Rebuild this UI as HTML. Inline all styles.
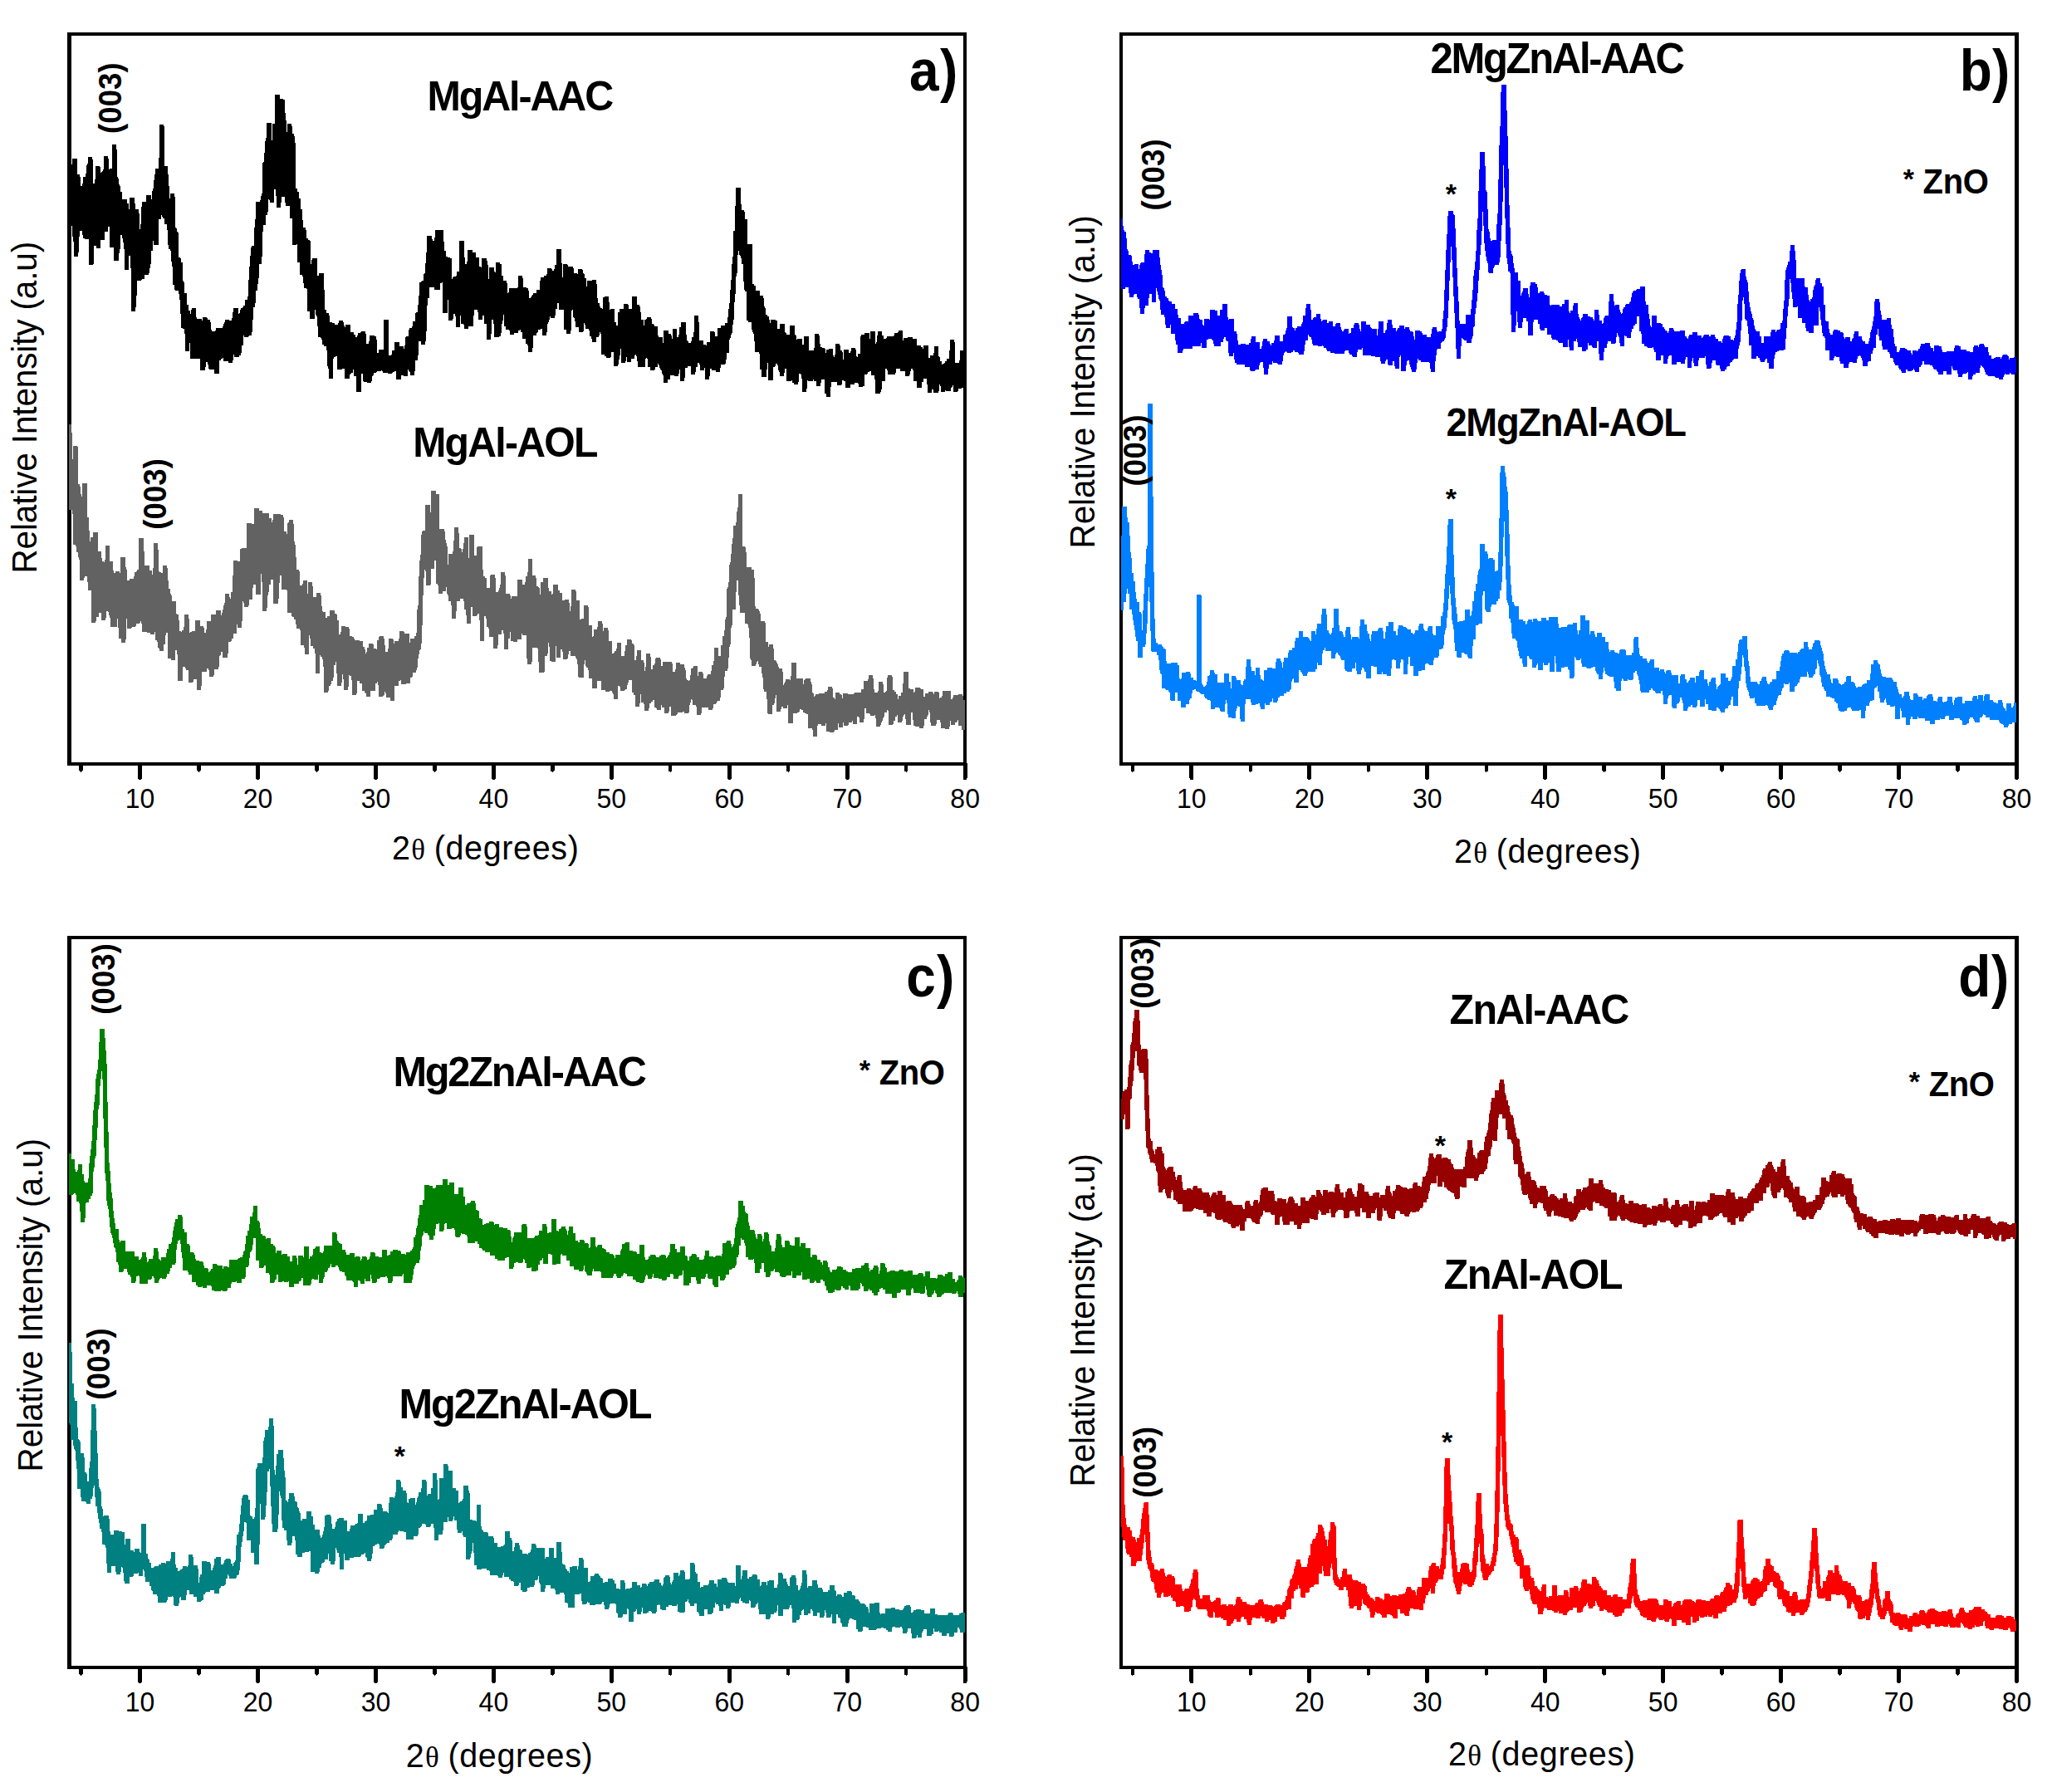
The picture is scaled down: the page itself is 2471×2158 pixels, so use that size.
<!DOCTYPE html>
<html lang="en"><head><meta charset="utf-8"><title>XRD patterns</title>
<style>
html,body{margin:0;padding:0;background:#fff;}
body{width:2471px;height:2158px;overflow:hidden;}
svg{display:block;}
polygon,rect,line{shape-rendering:crispEdges;}
text{fill:#000;}
</style></head><body>
<svg xmlns="http://www.w3.org/2000/svg" width="2471" height="2158" viewBox="0 0 2471 2158">
<rect x="83.40" y="41.00" width="1078.74" height="879.00" fill="none" stroke="#000" stroke-width="4.2"/>
<line x1="97.59" y1="920.00" x2="97.59" y2="927.50" stroke="#000" stroke-width="4.4" stroke-linecap="round"/>
<line x1="168.56" y1="920.00" x2="168.56" y2="936.50" stroke="#000" stroke-width="5" stroke-linecap="round"/>
<text transform="translate(168.56,972.80) scale(1,1.0415)" text-anchor="middle" font-family='"Liberation Sans", Arial, sans-serif' font-size="32.00">10</text>
<line x1="239.53" y1="920.00" x2="239.53" y2="927.50" stroke="#000" stroke-width="4.4" stroke-linecap="round"/>
<line x1="310.50" y1="920.00" x2="310.50" y2="936.50" stroke="#000" stroke-width="5" stroke-linecap="round"/>
<text transform="translate(310.50,972.80) scale(1,1.0415)" text-anchor="middle" font-family='"Liberation Sans", Arial, sans-serif' font-size="32.00">20</text>
<line x1="381.47" y1="920.00" x2="381.47" y2="927.50" stroke="#000" stroke-width="4.4" stroke-linecap="round"/>
<line x1="452.44" y1="920.00" x2="452.44" y2="936.50" stroke="#000" stroke-width="5" stroke-linecap="round"/>
<text transform="translate(452.44,972.80) scale(1,1.0415)" text-anchor="middle" font-family='"Liberation Sans", Arial, sans-serif' font-size="32.00">30</text>
<line x1="523.41" y1="920.00" x2="523.41" y2="927.50" stroke="#000" stroke-width="4.4" stroke-linecap="round"/>
<line x1="594.38" y1="920.00" x2="594.38" y2="936.50" stroke="#000" stroke-width="5" stroke-linecap="round"/>
<text transform="translate(594.38,972.80) scale(1,1.0415)" text-anchor="middle" font-family='"Liberation Sans", Arial, sans-serif' font-size="32.00">40</text>
<line x1="665.35" y1="920.00" x2="665.35" y2="927.50" stroke="#000" stroke-width="4.4" stroke-linecap="round"/>
<line x1="736.32" y1="920.00" x2="736.32" y2="936.50" stroke="#000" stroke-width="5" stroke-linecap="round"/>
<text transform="translate(736.32,972.80) scale(1,1.0415)" text-anchor="middle" font-family='"Liberation Sans", Arial, sans-serif' font-size="32.00">50</text>
<line x1="807.29" y1="920.00" x2="807.29" y2="927.50" stroke="#000" stroke-width="4.4" stroke-linecap="round"/>
<line x1="878.26" y1="920.00" x2="878.26" y2="936.50" stroke="#000" stroke-width="5" stroke-linecap="round"/>
<text transform="translate(878.26,972.80) scale(1,1.0415)" text-anchor="middle" font-family='"Liberation Sans", Arial, sans-serif' font-size="32.00">60</text>
<line x1="949.23" y1="920.00" x2="949.23" y2="927.50" stroke="#000" stroke-width="4.4" stroke-linecap="round"/>
<line x1="1020.20" y1="920.00" x2="1020.20" y2="936.50" stroke="#000" stroke-width="5" stroke-linecap="round"/>
<text transform="translate(1020.20,972.80) scale(1,1.0415)" text-anchor="middle" font-family='"Liberation Sans", Arial, sans-serif' font-size="32.00">70</text>
<line x1="1091.17" y1="920.00" x2="1091.17" y2="927.50" stroke="#000" stroke-width="4.4" stroke-linecap="round"/>
<line x1="1162.14" y1="920.00" x2="1162.14" y2="936.50" stroke="#000" stroke-width="5" stroke-linecap="round"/>
<text transform="translate(1162.14,972.80) scale(1,1.0415)" text-anchor="middle" font-family='"Liberation Sans", Arial, sans-serif' font-size="32.00">80</text>
<rect x="1349.70" y="41.00" width="1078.74" height="879.00" fill="none" stroke="#000" stroke-width="4.2"/>
<line x1="1363.89" y1="920.00" x2="1363.89" y2="927.50" stroke="#000" stroke-width="4.4" stroke-linecap="round"/>
<line x1="1434.86" y1="920.00" x2="1434.86" y2="936.50" stroke="#000" stroke-width="5" stroke-linecap="round"/>
<text transform="translate(1434.86,972.80) scale(1,1.0415)" text-anchor="middle" font-family='"Liberation Sans", Arial, sans-serif' font-size="32.00">10</text>
<line x1="1505.83" y1="920.00" x2="1505.83" y2="927.50" stroke="#000" stroke-width="4.4" stroke-linecap="round"/>
<line x1="1576.80" y1="920.00" x2="1576.80" y2="936.50" stroke="#000" stroke-width="5" stroke-linecap="round"/>
<text transform="translate(1576.80,972.80) scale(1,1.0415)" text-anchor="middle" font-family='"Liberation Sans", Arial, sans-serif' font-size="32.00">20</text>
<line x1="1647.77" y1="920.00" x2="1647.77" y2="927.50" stroke="#000" stroke-width="4.4" stroke-linecap="round"/>
<line x1="1718.74" y1="920.00" x2="1718.74" y2="936.50" stroke="#000" stroke-width="5" stroke-linecap="round"/>
<text transform="translate(1718.74,972.80) scale(1,1.0415)" text-anchor="middle" font-family='"Liberation Sans", Arial, sans-serif' font-size="32.00">30</text>
<line x1="1789.71" y1="920.00" x2="1789.71" y2="927.50" stroke="#000" stroke-width="4.4" stroke-linecap="round"/>
<line x1="1860.68" y1="920.00" x2="1860.68" y2="936.50" stroke="#000" stroke-width="5" stroke-linecap="round"/>
<text transform="translate(1860.68,972.80) scale(1,1.0415)" text-anchor="middle" font-family='"Liberation Sans", Arial, sans-serif' font-size="32.00">40</text>
<line x1="1931.65" y1="920.00" x2="1931.65" y2="927.50" stroke="#000" stroke-width="4.4" stroke-linecap="round"/>
<line x1="2002.62" y1="920.00" x2="2002.62" y2="936.50" stroke="#000" stroke-width="5" stroke-linecap="round"/>
<text transform="translate(2002.62,972.80) scale(1,1.0415)" text-anchor="middle" font-family='"Liberation Sans", Arial, sans-serif' font-size="32.00">50</text>
<line x1="2073.59" y1="920.00" x2="2073.59" y2="927.50" stroke="#000" stroke-width="4.4" stroke-linecap="round"/>
<line x1="2144.56" y1="920.00" x2="2144.56" y2="936.50" stroke="#000" stroke-width="5" stroke-linecap="round"/>
<text transform="translate(2144.56,972.80) scale(1,1.0415)" text-anchor="middle" font-family='"Liberation Sans", Arial, sans-serif' font-size="32.00">60</text>
<line x1="2215.53" y1="920.00" x2="2215.53" y2="927.50" stroke="#000" stroke-width="4.4" stroke-linecap="round"/>
<line x1="2286.50" y1="920.00" x2="2286.50" y2="936.50" stroke="#000" stroke-width="5" stroke-linecap="round"/>
<text transform="translate(2286.50,972.80) scale(1,1.0415)" text-anchor="middle" font-family='"Liberation Sans", Arial, sans-serif' font-size="32.00">70</text>
<line x1="2357.47" y1="920.00" x2="2357.47" y2="927.50" stroke="#000" stroke-width="4.4" stroke-linecap="round"/>
<line x1="2428.44" y1="920.00" x2="2428.44" y2="936.50" stroke="#000" stroke-width="5" stroke-linecap="round"/>
<text transform="translate(2428.44,972.80) scale(1,1.0415)" text-anchor="middle" font-family='"Liberation Sans", Arial, sans-serif' font-size="32.00">80</text>
<rect x="83.40" y="1129.00" width="1078.74" height="879.00" fill="none" stroke="#000" stroke-width="4.2"/>
<line x1="97.59" y1="2008.00" x2="97.59" y2="2015.50" stroke="#000" stroke-width="4.4" stroke-linecap="round"/>
<line x1="168.56" y1="2008.00" x2="168.56" y2="2024.50" stroke="#000" stroke-width="5" stroke-linecap="round"/>
<text transform="translate(168.56,2060.80) scale(1,1.0415)" text-anchor="middle" font-family='"Liberation Sans", Arial, sans-serif' font-size="32.00">10</text>
<line x1="239.53" y1="2008.00" x2="239.53" y2="2015.50" stroke="#000" stroke-width="4.4" stroke-linecap="round"/>
<line x1="310.50" y1="2008.00" x2="310.50" y2="2024.50" stroke="#000" stroke-width="5" stroke-linecap="round"/>
<text transform="translate(310.50,2060.80) scale(1,1.0415)" text-anchor="middle" font-family='"Liberation Sans", Arial, sans-serif' font-size="32.00">20</text>
<line x1="381.47" y1="2008.00" x2="381.47" y2="2015.50" stroke="#000" stroke-width="4.4" stroke-linecap="round"/>
<line x1="452.44" y1="2008.00" x2="452.44" y2="2024.50" stroke="#000" stroke-width="5" stroke-linecap="round"/>
<text transform="translate(452.44,2060.80) scale(1,1.0415)" text-anchor="middle" font-family='"Liberation Sans", Arial, sans-serif' font-size="32.00">30</text>
<line x1="523.41" y1="2008.00" x2="523.41" y2="2015.50" stroke="#000" stroke-width="4.4" stroke-linecap="round"/>
<line x1="594.38" y1="2008.00" x2="594.38" y2="2024.50" stroke="#000" stroke-width="5" stroke-linecap="round"/>
<text transform="translate(594.38,2060.80) scale(1,1.0415)" text-anchor="middle" font-family='"Liberation Sans", Arial, sans-serif' font-size="32.00">40</text>
<line x1="665.35" y1="2008.00" x2="665.35" y2="2015.50" stroke="#000" stroke-width="4.4" stroke-linecap="round"/>
<line x1="736.32" y1="2008.00" x2="736.32" y2="2024.50" stroke="#000" stroke-width="5" stroke-linecap="round"/>
<text transform="translate(736.32,2060.80) scale(1,1.0415)" text-anchor="middle" font-family='"Liberation Sans", Arial, sans-serif' font-size="32.00">50</text>
<line x1="807.29" y1="2008.00" x2="807.29" y2="2015.50" stroke="#000" stroke-width="4.4" stroke-linecap="round"/>
<line x1="878.26" y1="2008.00" x2="878.26" y2="2024.50" stroke="#000" stroke-width="5" stroke-linecap="round"/>
<text transform="translate(878.26,2060.80) scale(1,1.0415)" text-anchor="middle" font-family='"Liberation Sans", Arial, sans-serif' font-size="32.00">60</text>
<line x1="949.23" y1="2008.00" x2="949.23" y2="2015.50" stroke="#000" stroke-width="4.4" stroke-linecap="round"/>
<line x1="1020.20" y1="2008.00" x2="1020.20" y2="2024.50" stroke="#000" stroke-width="5" stroke-linecap="round"/>
<text transform="translate(1020.20,2060.80) scale(1,1.0415)" text-anchor="middle" font-family='"Liberation Sans", Arial, sans-serif' font-size="32.00">70</text>
<line x1="1091.17" y1="2008.00" x2="1091.17" y2="2015.50" stroke="#000" stroke-width="4.4" stroke-linecap="round"/>
<line x1="1162.14" y1="2008.00" x2="1162.14" y2="2024.50" stroke="#000" stroke-width="5" stroke-linecap="round"/>
<text transform="translate(1162.14,2060.80) scale(1,1.0415)" text-anchor="middle" font-family='"Liberation Sans", Arial, sans-serif' font-size="32.00">80</text>
<rect x="1349.70" y="1129.00" width="1078.74" height="879.00" fill="none" stroke="#000" stroke-width="4.2"/>
<line x1="1363.89" y1="2008.00" x2="1363.89" y2="2015.50" stroke="#000" stroke-width="4.4" stroke-linecap="round"/>
<line x1="1434.86" y1="2008.00" x2="1434.86" y2="2024.50" stroke="#000" stroke-width="5" stroke-linecap="round"/>
<text transform="translate(1434.86,2060.80) scale(1,1.0415)" text-anchor="middle" font-family='"Liberation Sans", Arial, sans-serif' font-size="32.00">10</text>
<line x1="1505.83" y1="2008.00" x2="1505.83" y2="2015.50" stroke="#000" stroke-width="4.4" stroke-linecap="round"/>
<line x1="1576.80" y1="2008.00" x2="1576.80" y2="2024.50" stroke="#000" stroke-width="5" stroke-linecap="round"/>
<text transform="translate(1576.80,2060.80) scale(1,1.0415)" text-anchor="middle" font-family='"Liberation Sans", Arial, sans-serif' font-size="32.00">20</text>
<line x1="1647.77" y1="2008.00" x2="1647.77" y2="2015.50" stroke="#000" stroke-width="4.4" stroke-linecap="round"/>
<line x1="1718.74" y1="2008.00" x2="1718.74" y2="2024.50" stroke="#000" stroke-width="5" stroke-linecap="round"/>
<text transform="translate(1718.74,2060.80) scale(1,1.0415)" text-anchor="middle" font-family='"Liberation Sans", Arial, sans-serif' font-size="32.00">30</text>
<line x1="1789.71" y1="2008.00" x2="1789.71" y2="2015.50" stroke="#000" stroke-width="4.4" stroke-linecap="round"/>
<line x1="1860.68" y1="2008.00" x2="1860.68" y2="2024.50" stroke="#000" stroke-width="5" stroke-linecap="round"/>
<text transform="translate(1860.68,2060.80) scale(1,1.0415)" text-anchor="middle" font-family='"Liberation Sans", Arial, sans-serif' font-size="32.00">40</text>
<line x1="1931.65" y1="2008.00" x2="1931.65" y2="2015.50" stroke="#000" stroke-width="4.4" stroke-linecap="round"/>
<line x1="2002.62" y1="2008.00" x2="2002.62" y2="2024.50" stroke="#000" stroke-width="5" stroke-linecap="round"/>
<text transform="translate(2002.62,2060.80) scale(1,1.0415)" text-anchor="middle" font-family='"Liberation Sans", Arial, sans-serif' font-size="32.00">50</text>
<line x1="2073.59" y1="2008.00" x2="2073.59" y2="2015.50" stroke="#000" stroke-width="4.4" stroke-linecap="round"/>
<line x1="2144.56" y1="2008.00" x2="2144.56" y2="2024.50" stroke="#000" stroke-width="5" stroke-linecap="round"/>
<text transform="translate(2144.56,2060.80) scale(1,1.0415)" text-anchor="middle" font-family='"Liberation Sans", Arial, sans-serif' font-size="32.00">60</text>
<line x1="2215.53" y1="2008.00" x2="2215.53" y2="2015.50" stroke="#000" stroke-width="4.4" stroke-linecap="round"/>
<line x1="2286.50" y1="2008.00" x2="2286.50" y2="2024.50" stroke="#000" stroke-width="5" stroke-linecap="round"/>
<text transform="translate(2286.50,2060.80) scale(1,1.0415)" text-anchor="middle" font-family='"Liberation Sans", Arial, sans-serif' font-size="32.00">70</text>
<line x1="2357.47" y1="2008.00" x2="2357.47" y2="2015.50" stroke="#000" stroke-width="4.4" stroke-linecap="round"/>
<line x1="2428.44" y1="2008.00" x2="2428.44" y2="2024.50" stroke="#000" stroke-width="5" stroke-linecap="round"/>
<text transform="translate(2428.44,2060.80) scale(1,1.0415)" text-anchor="middle" font-family='"Liberation Sans", Arial, sans-serif' font-size="32.00">80</text>
<defs><clipPath id="cpa"><rect x="81.3" y="39.0" width="1082.9" height="883.0"/></clipPath><clipPath id="cpb"><rect x="1347.6" y="39.0" width="1082.9" height="883.0"/></clipPath><clipPath id="cpc"><rect x="81.3" y="1127.0" width="1082.9" height="883.0"/></clipPath><clipPath id="cpd"><rect x="1347.6" y="1127.0" width="1082.9" height="883.0"/></clipPath></defs>
<g clip-path="url(#cpa)"><polygon fill="#000000" points="83.4,190 86.4,190 86.9,226.5 87.4,190.5 92.9,190.5 93.4,209.5 96.4,209.5 96.9,223.5 99.4,223.5 99.9,212.5 103.4,212.5 103.9,199 105.4,199 105.9,189 111.4,189 111.9,201 112.4,220.5 114.4,220.5 114.9,199.5 120.4,199.5 120.9,207.5 122.4,207.5 122.9,206 123.4,206 123.9,204 124.4,204 124.9,203 125.4,188 130.4,188 130.9,202.5 131.4,203.5 132.4,203.5 132.9,202.5 134.9,202.5 135.4,173.5 140.4,173.5 140.9,204 141.4,212.5 142.4,212.5 142.9,221.5 144.4,221.5 144.9,230.5 146.9,230.5 147.4,239.5 152.9,239.5 153.4,245 154.9,245 155.4,250.5 155.9,255.5 156.4,238 161.9,238 162.4,245 162.9,245 163.4,252 167.4,252 167.9,275.5 168.9,275.5 169.4,269.5 169.9,269.5 170.4,251 170.9,243 175.9,243 176.4,234.5 181.9,234.5 182.4,240 182.9,240 183.4,229.5 184.4,229.5 184.9,218.5 185.4,218.5 185.9,213 186.4,213 186.9,202.5 191.4,202.5 191.9,149.5 197.4,149.5 197.9,161.5 198.4,199.5 201.9,199.5 202.4,208.5 202.9,215 203.4,218 203.9,241 204.4,241 204.9,232.5 210.4,232.5 210.9,253.5 211.4,273.5 212.4,273.5 212.9,279 214.4,279 214.9,282.5 215.4,310 217.4,310 217.9,316 219.9,316 220.4,337 220.9,339.5 221.9,339.5 222.4,352.5 224.9,352.5 225.4,366.5 226.9,366.5 227.4,373.5 228.4,373.5 228.9,375 229.4,378 229.9,378 230.4,374 230.9,370.5 235.9,370.5 236.4,379.5 236.9,389 237.4,383.5 242.9,383.5 243.4,387.5 243.9,381.5 248.9,381.5 249.4,382.5 249.9,385 253.4,385 253.9,396 254.4,396 254.9,399 259.4,399 259.9,394.5 268.4,394.5 268.9,389.5 270.4,389.5 270.9,385 275.9,385 276.4,385.5 279.4,385.5 279.9,375.5 280.9,375.5 281.4,370.5 286.9,370.5 287.4,378 288.4,378 288.9,374 289.4,374 289.9,371 290.9,371 291.4,370.5 292.4,370.5 292.9,368.5 293.4,368 294.9,368 295.4,361 298.4,361 298.9,341 299.4,341 299.9,326.5 300.4,322.5 301.4,311.5 301.9,298 302.9,298 303.4,296 305.9,296 306.4,277.5 306.9,263.5 307.9,263.5 308.4,242.5 313.4,242.5 313.9,236.5 314.4,236.5 314.9,232.5 315.9,232.5 316.4,195.5 316.9,195.5 317.4,194.5 317.9,194.5 318.4,188 318.9,169.5 320.4,169.5 320.9,153.5 321.4,147.5 326.9,147.5 327.4,175.5 327.9,148.5 330.9,148.5 331.4,114 336.4,114 336.9,115 337.4,119 340.4,119 340.9,119.5 342.9,119.5 343.4,134 343.9,144.5 344.9,144.5 345.4,162.5 345.9,149 351.4,149 351.9,160.5 353.4,160.5 353.9,164 355.4,164 355.9,198.5 356.4,227 357.9,227 358.4,231 359.9,231 360.4,238.5 361.9,238.5 362.4,251.5 363.9,251.5 364.4,262 364.9,273.5 368.4,273.5 368.9,287 370.9,287 371.4,288.5 373.4,288.5 373.9,295 374.4,319.5 374.9,313 375.4,313 375.9,311 381.4,311 381.9,313 382.4,331.5 383.9,331.5 384.4,328.5 389.9,328.5 390.4,340.5 390.9,373 392.9,373 393.4,377 396.4,377 396.9,388 399.4,388 399.9,389 402.4,389 402.9,391 403.4,391 403.9,390.5 407.4,390.5 407.9,385.5 412.9,385.5 413.4,387.5 413.9,387.5 414.4,391.5 414.9,391.5 415.4,393.5 415.9,393.5 416.4,390.5 421.9,390.5 422.4,399.5 425.9,399.5 426.4,402.5 427.4,402.5 427.9,405.5 430.4,405.5 430.9,400.5 434.4,400.5 434.9,398.5 440.4,398.5 440.9,413.5 443.9,413.5 444.4,411 444.9,411 445.4,404 450.4,404 450.9,404.5 453.4,404.5 453.9,424.5 455.9,424.5 456.4,421 461.4,421 461.9,421.5 462.4,384.5 467.4,384.5 467.9,385.5 468.4,427.5 470.4,427.5 470.9,428.5 471.4,428 471.9,421.5 474.9,421.5 475.4,411.5 480.9,411.5 481.4,417 485.9,417 486.4,420.5 486.9,417 487.4,417 487.9,413 488.4,405.5 489.4,405.5 489.9,405 491.9,405 492.4,397 492.9,397 493.4,394.5 496.4,394.5 496.9,386.5 499.9,386.5 500.4,377 500.9,376 502.9,376 503.4,368.5 503.9,362.5 504.4,360 504.9,340 507.4,340 507.9,337.5 509.9,337.5 510.4,329.5 510.9,329.5 511.4,329 511.9,329 512.4,320.5 512.9,305 513.4,305 513.9,302.5 514.4,283.5 519.9,283.5 520.4,288 520.9,289.5 523.4,289.5 523.9,276.5 533.9,276.5 534.4,287.5 534.9,302 536.4,302 536.9,302.5 537.4,309 538.4,309 538.9,310 541.9,310 542.4,310.5 543.9,310.5 544.4,336 544.9,338 545.4,334 545.9,333 549.4,333 549.9,328.5 550.4,327 552.9,327 553.4,290 558.9,290 559.4,302 559.9,336 560.4,317.5 561.9,317.5 562.4,314.5 562.9,314.5 563.4,300.5 568.9,300.5 569.4,303.5 572.4,303.5 573.4,309.5 576.9,309.5 577.4,320.5 579.4,320.5 579.9,327 580.4,310.5 585.4,310.5 585.9,313.5 587.4,313.5 587.9,335.5 588.9,335.5 589.4,321.5 594.9,321.5 595.4,325 595.9,331.5 596.4,331.5 596.9,316 601.9,316 602.4,318 603.9,318 604.4,332 605.9,332 606.4,338 610.4,338 610.9,352.5 612.4,352.5 612.9,349.5 613.4,347 616.9,347 617.4,346.5 622.4,346.5 622.9,349.5 623.4,349.5 623.9,332 629.4,332 629.9,345.5 633.4,345.5 633.9,346.5 636.4,346.5 636.9,359.5 637.4,359.5 637.9,359 639.4,359 639.9,356 641.4,356 641.9,353 645.9,353 646.4,348.5 649.9,348.5 650.4,339 650.9,334 654.9,334 655.4,331.5 658.4,331.5 658.9,323 664.4,323 664.9,326 667.4,326 667.9,319 669.9,319 670.4,299.5 675.9,299.5 676.4,311.5 676.9,334 677.4,334 677.9,335 678.4,318 683.4,318 683.9,321 690.4,321 690.9,328.5 694.4,328.5 694.9,331.5 695.4,331.5 695.9,326.5 696.4,323.5 701.4,323.5 701.9,328.5 703.4,328.5 703.9,335 705.9,335 706.4,344.5 706.9,344.5 707.4,337.5 712.9,337.5 713.4,337 718.4,337 718.9,356.5 719.4,358 719.9,361.5 720.4,364.5 721.9,364.5 722.4,369 722.9,370.5 723.4,370.5 723.9,371 725.4,371 725.9,373.5 726.4,358 727.4,358 727.9,357 733.4,357 733.9,384.5 734.4,373.5 734.9,372 739.9,372 740.4,388 741.9,388 742.4,391.5 743.4,391.5 743.9,392 744.4,376 745.9,376 746.4,372 750.9,372 751.4,366 756.4,366 756.9,370 757.4,371.5 760.9,371.5 761.4,356.5 766.9,356.5 767.4,366.5 769.9,366.5 770.4,367.5 770.9,374 771.4,374 771.9,384.5 774.9,384.5 775.4,392 775.9,392 776.4,384.5 778.4,384.5 778.9,381.5 783.9,381.5 784.4,382.5 784.9,390 787.4,390 787.9,393 791.9,393 792.4,404 792.9,406 797.9,406 798.4,412.5 798.9,412.5 799.4,397.5 804.9,397.5 805.4,401.5 808.4,401.5 808.9,411.5 809.4,411.5 809.9,396 814.9,396 815.4,405.5 817.4,405.5 817.9,394 819.9,394 820.4,388 825.9,388 826.4,402.5 826.9,402.5 827.4,410 827.9,410 828.4,411 828.9,413 832.4,413 832.9,406 835.4,406 835.9,380 840.9,380 841.4,381 841.9,409.5 846.9,409.5 847.4,414.5 849.9,414.5 850.4,417 850.9,412 854.9,412 855.4,399 860.4,399 860.9,404.5 863.9,404.5 864.4,394.5 867.9,394.5 868.4,392 872.9,392 873.4,389 875.9,389 876.4,382 876.9,382 877.4,372 877.9,372 878.4,364.5 878.9,364.5 879.4,349 879.9,347 880.4,341 880.9,326 881.4,318 882.4,318 882.9,278 884.9,278 885.4,252 885.9,237.5 886.4,226 891.4,226 891.9,227 892.4,244.5 892.9,252.5 896.4,252.5 896.9,263.5 899.9,263.5 900.4,293.5 905.9,293.5 906.4,341.5 907.9,341.5 908.4,343.5 909.4,343.5 909.9,346.5 910.4,350 914.9,350 915.4,356 919.4,356 919.9,368.5 921.4,368.5 921.9,379 923.4,379 923.9,380.5 925.9,380.5 926.4,385 926.9,385 927.4,388.5 927.9,388.5 928.4,384.5 933.9,384.5 934.4,386 935.9,386 936.4,396 938.9,396 939.4,390 944.9,390 945.4,400 946.4,400 946.9,403 950.9,403 951.4,391.5 956.9,391.5 957.4,402.5 958.4,402.5 958.9,408.5 959.9,408.5 960.4,408 965.9,408 966.4,414.5 967.9,414.5 968.4,404.5 973.9,404.5 974.4,421.5 979.9,421.5 980.4,423.5 980.9,402 986.4,402 986.9,412.5 987.4,412.5 987.9,417.5 989.4,417.5 989.9,419 993.4,419 993.9,425 994.9,425 995.4,421 997.4,421 997.9,420 1002.9,420 1003.4,427.5 1003.9,430 1005.4,430 1005.9,414 1011.4,414 1011.9,421.5 1014.4,421.5 1014.9,433 1015.9,433 1016.4,421 1021.9,421 1022.4,424.5 1024.4,424.5 1024.9,418.5 1030.4,418.5 1030.9,428 1031.4,429 1031.9,429 1032.4,430 1032.9,430 1033.4,426 1035.9,426 1036.4,405.5 1036.9,402.5 1040.9,402.5 1041.4,401 1046.9,401 1047.4,408.5 1047.9,406.5 1048.4,399 1053.9,399 1054.4,413.5 1055.4,413.5 1055.9,406 1056.4,406 1056.9,398.5 1061.9,398.5 1062.4,404 1063.9,404 1064.4,407.5 1067.4,407.5 1067.9,404.5 1072.9,404.5 1073.4,405 1076.4,405 1076.9,401 1081.4,401 1081.9,398 1086.9,398 1087.4,410.5 1087.9,407 1092.4,407 1092.9,406 1098.4,406 1098.9,407.5 1103.9,407.5 1104.4,416 1108.9,416 1109.4,417.5 1111.4,417.5 1111.9,426.5 1112.4,415.5 1117.9,415.5 1118.4,430.5 1119.9,430.5 1120.4,428 1124.4,428 1124.9,416.5 1129.9,416.5 1130.4,428.5 1131.4,428.5 1131.9,435 1133.9,435 1134.4,439 1134.9,439 1135.4,437.5 1137.4,437.5 1137.9,435 1139.9,435 1140.4,431.5 1142.9,431.5 1143.4,425 1143.9,409 1149.4,409 1149.9,421 1150.4,436.5 1155.4,436.5 1155.9,426 1156.4,421.5 1161.4,421.5 1161.9,430.5 1161.9,466 1159.9,466 1159.4,467 1158.4,467 1157.9,468 1153.9,468 1153.4,472 1147.9,472 1147.4,461.5 1146.9,466 1145.9,466 1145.4,467 1144.9,471 1139.4,471 1138.9,469.5 1138.4,469.5 1137.9,471.5 1132.9,471.5 1132.4,462.5 1131.4,462.5 1130.9,471 1129.9,471 1129.4,473 1124.4,473 1123.9,469 1122.4,469 1121.9,472.5 1116.9,472.5 1116.4,460 1115.9,455.5 1115.4,455.5 1114.9,456 1112.4,456 1111.9,460 1110.4,460 1109.9,467 1104.4,467 1103.9,458.5 1100.4,458.5 1099.9,446 1099.4,446 1098.9,444 1097.4,444 1096.4,447 1095.9,447 1095.4,452.5 1090.4,452.5 1089.9,449 1089.4,447 1084.4,447 1083.9,444 1078.9,444 1078.4,450.5 1068.9,450.5 1068.4,444 1067.9,443.5 1066.4,443.5 1065.9,458.5 1061.9,458.5 1061.4,472 1059.9,472 1059.4,474 1053.9,474 1053.4,452 1049.4,452 1048.9,447 1046.9,447 1046.4,448 1044.9,448 1044.4,450.5 1041.4,450.5 1040.9,464.5 1039.9,464.5 1039.4,465.5 1033.9,465.5 1033.4,460.5 1029.4,460.5 1028.9,463 1024.4,463 1023.9,466.5 1018.4,466.5 1017.9,459 1015.9,459 1015.4,458 1013.9,458 1013.4,464 1008.4,464 1007.9,459.5 1001.4,459.5 1000.9,466 1000.4,466 999.9,477.5 994.9,477.5 994.4,473.5 993.4,473.5 992.9,458.5 992.4,456.5 989.4,456.5 988.9,451.5 988.4,464.5 983.4,464.5 982.9,458.5 980.4,458.5 979.9,456.5 979.4,456.5 978.9,458.5 973.4,458.5 972.9,457.5 971.9,457.5 971.4,472 965.9,472 965.4,451.5 964.9,451 964.4,451 963.9,449.5 961.9,449.5 961.4,463 955.9,463 955.4,460.5 954.4,460.5 953.9,457.5 953.4,457.5 952.9,458.5 947.4,458.5 946.9,443.5 945.4,443.5 944.9,438 944.4,452.5 938.9,452.5 938.4,446 936.9,446 936.4,437.5 933.9,437.5 933.4,442 931.4,442 930.9,458 925.4,458 924.9,436.5 924.4,436.5 923.9,444.5 923.4,444.5 922.9,453.5 917.4,453.5 916.9,444.5 914.9,444.5 914.4,420 913.9,423.5 908.9,423.5 908.4,407.5 907.9,407.5 907.4,400 906.4,400 905.9,396.5 905.4,396.5 904.9,387.5 901.4,387.5 900.9,385.5 899.4,385.5 898.9,351 896.9,351 896.4,348 895.9,348 895.4,336.5 894.9,318 893.4,318 892.9,310.5 891.9,310.5 891.4,307 890.4,307 889.9,302 889.4,301.5 888.9,305 888.4,308 887.9,320 887.4,332.5 886.4,332.5 885.9,354 885.4,354.5 884.9,354.5 884.4,367 883.9,368.5 883.4,390.5 882.4,390.5 881.9,393.5 881.4,403 879.9,403 879.4,408.5 878.4,408.5 877.9,425 875.4,425 874.9,433 873.9,433 873.4,439 868.4,439 867.9,442.5 867.4,442.5 866.9,448 861.9,448 861.4,445.5 856.9,445.5 856.4,444 854.9,444 854.4,456.5 849.4,456.5 848.9,435.5 848.4,445.5 842.9,445.5 842.4,437.5 841.9,437 840.4,437 839.9,441.5 837.9,441.5 837.4,450.5 832.4,450.5 831.9,441 827.9,441 827.4,443 824.9,443 824.4,458.5 818.9,458.5 818.4,440.5 817.9,440.5 817.4,453 811.9,453 811.4,452 808.4,452 807.9,451.5 807.4,451.5 806.9,456.5 804.4,456.5 803.9,461 798.9,461 798.4,449.5 797.4,449.5 796.9,445.5 795.9,445.5 795.4,445 794.9,443 793.9,443 793.4,439 792.9,439 792.4,438 791.9,441.5 788.9,441.5 788.4,445.5 783.4,445.5 782.9,442 779.9,442 779.4,429 778.9,429 778.4,432 777.4,432 776.9,442 771.4,442 770.9,441.5 767.9,441.5 767.4,433.5 766.9,433.5 766.4,427 764.9,427 764.4,428 763.9,431.5 760.4,431.5 759.9,435.5 754.9,435.5 754.4,428 753.9,428 753.4,436.5 748.4,436.5 747.9,419.5 746.9,419.5 746.4,430.5 745.9,430.5 745.4,433.5 744.9,433.5 744.4,440.5 738.9,440.5 738.4,418.5 737.9,424 736.9,424 736.4,424.5 735.9,424.5 735.4,431 729.9,431 729.4,429 728.4,429 727.9,427 724.4,427 723.9,409 723.4,400 721.9,400 721.4,405.5 718.4,405.5 717.9,412 712.9,412 712.4,407.5 711.9,404.5 709.9,404.5 709.4,396 704.9,396 704.4,389 703.4,389 702.9,399 702.4,399.5 697.4,399.5 696.9,394 693.4,394 692.9,387 691.9,387 691.4,381.5 689.9,381.5 689.4,370.5 688.9,370.5 688.4,375.5 687.9,384 687.4,401.5 682.4,401.5 681.9,397 679.4,397 678.9,373 673.4,373 672.9,364.5 671.4,364.5 670.9,371.5 668.9,371.5 668.4,383 662.9,383 662.4,381 661.9,385 660.9,385 660.4,389.5 658.9,389.5 658.4,403.5 653.4,403.5 652.9,395.5 651.4,395.5 650.9,396.5 647.9,396.5 647.4,400.5 646.4,400.5 645.9,403.5 641.9,403.5 641.4,424 635.9,424 635.4,414 633.4,414 632.9,407.5 629.4,407.5 628.9,400 626.9,400 626.4,396.5 625.9,398 624.4,398 623.9,401 619.4,401 618.9,402.5 613.9,402.5 613.4,397 609.4,397 608.9,393 606.9,393 606.4,374 605.9,374 605.4,389.5 603.9,389.5 603.4,404.5 600.9,404.5 600.4,406 594.9,406 594.4,385 592.4,385 591.9,383.5 591.4,408.5 586.4,408.5 585.9,390 583.4,390 582.9,380 581.4,380 580.9,384.5 575.9,384.5 575.4,373 571.4,373 570.9,380 570.4,380 569.9,393 564.4,393 563.9,395.5 558.9,395.5 558.4,389.5 554.9,389.5 554.4,377.5 553.9,393.5 548.9,393.5 548.4,378 547.9,377.5 545.9,377.5 545.4,386 539.9,386 539.4,354.5 538.9,376.5 533.4,376.5 532.9,340 532.4,340.5 530.4,340.5 529.9,348.5 523.4,348.5 522.9,344.5 522.4,346 517.4,346 516.9,359 514.9,359 514.4,371.5 513.9,399 512.9,399 512.4,414.5 507.4,414.5 506.9,411 503.9,411 503.4,433.5 499.9,433.5 499.4,451.5 493.9,451.5 493.4,447 491.9,447 491.4,444 490.9,452.5 485.9,452.5 485.4,452 483.4,452 482.9,456.5 477.4,456.5 476.9,446.5 475.4,446.5 474.9,447.5 472.9,447.5 472.4,450 466.9,450 466.4,449 460.9,449 460.4,446 459.9,444.5 459.4,447 454.4,447 453.9,448 453.4,448 452.9,449 449.9,449 449.4,453 447.9,453 447.4,460.5 442.4,460.5 441.9,460 437.9,460 437.4,459 436.9,449.5 435.4,449.5 434.9,471.5 429.4,471.5 428.9,453 425.9,453 425.4,442 424.9,448.5 422.9,448.5 422.4,451 421.4,451 420.9,455.5 415.4,455.5 414.9,443.5 412.4,443.5 411.9,445 406.4,445 405.9,429 403.9,429 403.4,430 402.4,430 401.9,431.5 401.4,431.5 400.9,456 395.9,456 395.4,441 393.9,441 393.4,416.5 389.9,416.5 389.4,414.5 388.4,414.5 387.9,408.5 386.9,408.5 386.4,406 382.9,406 382.4,388.5 381.9,384 381.4,380 380.9,380 380.4,378.5 379.9,378.5 379.4,371 378.9,384 373.4,384 372.9,374.5 370.4,374.5 369.9,353 369.4,346.5 366.4,346.5 365.9,341 364.9,341 364.4,331 361.4,331 360.9,316 358.4,316 357.9,292 357.4,295 352.4,295 351.9,262.5 349.4,262.5 348.9,247.5 343.9,247.5 343.4,243.5 342.9,236.5 339.4,236.5 338.9,225.5 338.4,249.5 332.9,249.5 332.4,232 331.9,232 331.4,227.5 330.4,227.5 329.9,244 324.9,244 324.4,240 322.9,240 322.4,259 320.4,259 319.9,271 317.4,271 316.9,278.5 315.9,278.5 315.4,318 311.9,318 311.4,340.5 310.9,342 310.4,342 309.9,350 307.9,350 307.4,369.5 305.4,369.5 304.9,376 304.4,387.5 303.9,387.5 303.4,403.5 299.9,403.5 299.4,405.5 293.9,405.5 293.4,404 292.9,416 290.9,416 290.4,427.5 288.4,427.5 287.9,429.5 282.4,429.5 281.9,426.5 280.9,426.5 280.4,436.5 274.9,436.5 274.4,435 269.4,435 268.9,430.5 268.4,431.5 266.4,431.5 265.9,433.5 264.4,433.5 263.9,450 258.4,450 257.9,445 252.4,445 251.9,444 251.4,444 250.9,439 249.9,439 249.4,435.5 248.4,435.5 247.9,441.5 247.4,441.5 246.9,445.5 241.4,445.5 240.9,431.5 238.9,431.5 238.4,432 229.4,432 228.4,410 227.9,423 222.9,423 222.4,395.5 220.4,395.5 219.9,394.5 217.9,394.5 217.4,373 216.9,362.5 216.4,361 215.9,357 215.4,353.5 214.9,349.5 210.9,349.5 210.4,349 209.9,343 207.9,343 207.4,314.5 206.4,314.5 205.9,309 205.4,300 203.4,300 202.9,294.5 202.4,294.5 201.9,277 201.4,277 200.9,270 198.4,270 197.9,263 195.9,263 195.4,261 194.9,261 194.4,258.5 193.9,264 191.4,264 190.9,295 185.4,295 184.9,289.5 184.4,289.5 183.9,301.5 181.9,301.5 181.4,322.5 179.9,322.5 179.4,330.5 174.4,330.5 173.9,335.5 170.9,335.5 170.4,338 165.4,338 164.9,355.5 164.4,356.5 163.9,356.5 163.4,374.5 157.9,374.5 157.4,307.5 155.4,307.5 154.9,324.5 149.9,324.5 149.4,292 147.9,292 147.4,285 146.9,285 146.4,282.5 144.9,282.5 144.4,305 143.4,305 142.9,313.5 137.4,313.5 136.9,298 132.4,298 131.9,273 130.4,273 129.9,278.5 126.4,278.5 125.9,288.5 121.4,288.5 120.9,298.5 115.9,298.5 115.4,295.5 113.4,295.5 112.9,317.5 112.4,318.5 107.4,318.5 106.9,287.5 101.9,287.5 101.4,287 100.4,287 99.9,282.5 99.4,282.5 98.9,277.5 95.9,277.5 95.4,288 94.9,289 94.4,308.5 88.9,308.5 88.4,285 86.9,285 86.4,269 85.9,272.5 83.4,272.5"/></g>
<g clip-path="url(#cpa)"><polygon fill="#626262" points="83.4,510.5 86.4,510.5 86.9,552.5 87.9,552.5 88.4,537 93.4,537 93.9,539.5 94.4,583 96.4,583 96.9,595 97.9,595 98.4,597.5 98.9,597.5 99.4,581.5 104.9,581.5 105.4,623 106.9,623 107.4,634.5 107.9,653.5 108.4,653.5 108.9,646.5 111.9,646.5 112.4,640.5 117.9,640.5 118.4,664 121.9,664 122.4,671.5 122.9,676 125.4,676 125.9,679.5 126.4,679.5 126.9,657 131.9,657 132.4,676 135.9,676 136.4,686.5 136.9,689.5 138.9,689.5 139.4,688 144.4,688 144.9,694.5 145.4,670.5 150.9,670.5 151.4,682.5 151.9,686 152.9,686 153.4,699 155.9,699 156.4,697 160.4,697 160.9,696 161.4,696 161.9,689 164.4,689 164.9,685.5 166.9,685.5 167.4,647.5 172.9,647.5 173.4,659.5 173.9,680.5 175.9,680.5 176.4,681 179.9,681 180.4,687 182.9,687 183.4,691.5 184.4,691.5 184.9,658.5 185.4,653.5 190.4,653.5 190.9,688 191.9,688 192.4,689 194.4,689 194.9,692.5 195.4,692.5 195.9,680.5 201.4,680.5 201.9,696 202.4,696 202.9,708.5 204.9,708.5 205.4,714.5 206.4,714.5 206.9,723.5 211.9,723.5 212.4,738.5 212.9,738.5 213.4,739.5 214.9,739.5 215.4,743 215.9,760 217.9,760 218.4,762 218.9,759 221.4,759 221.9,740 227.4,740 227.9,761.5 228.9,761.5 229.4,761 230.9,761 231.4,759.5 234.9,759.5 235.4,746.5 240.9,746.5 241.4,753.5 245.4,753.5 245.9,762 247.9,762 248.4,761 248.9,747.5 253.9,747.5 254.4,739.5 259.4,739.5 259.9,742 260.4,735 265.9,735 266.4,741 266.9,739.5 267.4,739.5 267.9,735 268.4,735 268.9,730.5 269.4,729 270.4,729 270.9,715 275.9,715 276.4,718.5 276.9,718.5 277.4,724 277.9,712.5 279.9,712.5 280.4,699 280.9,674.5 286.4,674.5 286.9,681.5 287.4,675.5 288.9,675.5 289.4,661 290.9,661 291.4,659.5 296.9,659.5 297.4,629.5 302.9,629.5 303.4,630.5 305.9,630.5 306.4,611.5 311.4,611.5 311.9,614.5 315.4,614.5 315.9,617.5 323.9,617.5 324.4,623.5 326.9,623.5 327.4,629 327.9,629 328.4,627.5 328.9,619 337.9,619 338.4,620 341.4,620 341.9,633.5 342.4,640 345.4,640 345.9,652 346.4,629.5 347.4,629.5 347.9,625.5 353.4,625.5 353.9,652 355.4,652 355.9,669.5 356.4,669.5 357.4,685.5 359.4,685.5 359.9,686 360.4,686 360.9,693 361.4,704.5 364.4,704.5 364.9,698.5 369.9,698.5 370.4,719 370.9,700.5 375.9,700.5 376.4,701.5 376.9,718.5 380.4,718.5 380.9,721.5 381.4,714 386.4,714 386.9,728.5 387.4,728.5 387.9,736 388.4,736 388.9,737 391.9,737 392.4,744 393.9,744 394.4,742 396.9,742 397.4,735 402.9,735 403.4,738.5 405.4,738.5 405.9,746.5 407.9,746.5 408.4,763.5 410.4,763.5 410.9,754 415.9,754 416.4,755 420.4,755 420.9,765.5 423.9,765.5 424.4,767 426.4,767 426.9,775 427.4,771 432.4,771 432.9,771.5 436.9,771.5 437.4,779 438.9,779 439.4,781.5 439.9,782.5 440.4,786.5 441.4,786.5 441.9,780 443.9,780 444.4,774.5 449.4,774.5 449.9,780.5 452.4,780.5 452.9,781.5 453.9,781.5 454.4,770.5 455.9,770.5 456.4,767.5 456.9,766 462.4,766 462.9,777 463.9,777 464.4,784.5 467.4,784.5 467.9,769 473.4,769 473.9,774.5 474.9,774.5 475.4,772 480.4,772 480.9,760 486.4,760 486.9,763 487.4,763 487.9,762.5 492.9,762.5 493.4,776 493.9,769 498.9,769 499.4,766 500.9,766 501.4,762 501.9,762 502.4,733.5 502.9,733.5 503.4,731.5 503.9,719.5 504.4,693.5 504.9,693.5 505.4,675 505.9,674 506.4,674 506.9,648 507.4,645.5 507.9,640 508.9,640 509.4,639 511.9,639 512.4,607.5 517.9,607.5 518.4,617.5 518.9,616 519.4,591 524.9,591 525.4,595 528.9,595 529.4,636.5 529.9,637 535.4,637 535.9,648.5 536.4,648.5 536.9,654 538.4,654 538.9,671.5 539.4,680 539.9,680 540.4,666.5 545.4,666.5 545.9,655 546.4,655 546.9,635 551.9,635 552.4,636 552.9,660 555.4,660 555.9,664.5 556.9,664.5 557.4,660.5 557.9,660.5 558.4,655.5 558.9,647 563.9,647 564.4,672 564.9,672 565.4,643.5 570.9,643.5 571.4,669 573.9,669 574.4,659 574.9,659 575.4,657.5 580.9,657.5 581.4,683 581.9,694 583.4,694 583.9,695.5 585.9,695.5 586.4,707.5 589.9,707.5 590.4,693 590.9,691.5 596.4,691.5 596.9,712.5 600.4,712.5 600.9,708 602.4,708 602.9,688.5 608.4,688.5 608.9,706.5 609.4,715 614.4,715 614.9,721.5 615.4,721.5 615.9,718 622.9,718 623.4,697.5 628.9,697.5 629.4,703.5 632.4,703.5 632.9,693.5 635.4,693.5 635.9,672.5 640.9,672.5 641.4,693 645.4,693 645.9,706 647.4,706 647.9,706.5 649.4,706.5 649.9,713 650.4,721 650.9,700.5 653.9,700.5 654.4,695.5 659.9,695.5 660.4,707 660.9,711.5 663.4,711.5 663.9,715.5 665.4,715.5 665.9,714 666.4,703.5 671.9,703.5 672.4,711 673.9,711 674.4,714 676.9,714 677.4,723 679.4,723 679.9,722 685.4,722 685.9,739.5 686.4,737.5 686.9,732.5 687.4,732.5 687.9,723.5 688.4,710 693.4,710 693.9,718 694.4,723 697.9,723 698.4,745.5 700.4,745.5 700.9,745 702.9,745 703.4,729 708.4,729 708.9,736 709.4,752.5 712.9,752.5 713.4,766.5 713.9,768 714.4,768 714.9,757.5 719.4,757.5 719.9,747.5 725.4,747.5 725.9,761.5 726.4,761.5 726.9,756 732.4,756 732.9,772 736.9,772 737.4,787 739.4,787 739.9,783.5 742.4,783.5 742.9,774 747.9,774 748.4,789.5 751.4,789.5 751.9,792 752.4,786.5 752.9,777 754.9,777 755.4,769.5 760.4,769.5 760.9,774.5 763.4,774.5 763.9,786.5 764.4,794.5 765.9,794.5 766.4,792.5 766.9,783 771.9,783 772.4,794.5 775.4,794.5 775.9,807.5 777.4,807.5 777.9,786.5 783.4,786.5 783.9,806 785.9,806 786.4,800.5 788.4,800.5 788.9,793 789.9,793 790.4,791.5 795.4,791.5 795.9,801 796.4,802 797.9,802 798.4,797 798.9,796.5 809.4,796.5 809.9,809 813.4,809 813.9,797.5 818.9,797.5 819.4,799.5 823.4,799.5 823.9,804 825.4,804 825.9,817 826.4,817 826.9,819 828.9,819 829.4,819.5 830.4,819.5 830.9,815.5 831.4,815.5 831.9,805 834.4,805 834.9,802 839.9,802 840.4,816 840.9,809 846.4,809 846.9,816.5 850.9,816.5 851.4,814 851.9,814 852.4,812 855.4,812 855.9,810.5 856.4,810.5 856.9,800.5 859.4,800.5 859.9,779.5 864.9,779.5 865.4,790 866.9,790 867.4,793.5 867.9,776.5 869.9,776.5 870.4,765.5 871.9,765.5 872.4,762 872.9,746 874.4,746 874.9,733 875.4,708.5 876.4,708.5 876.9,701 877.9,701 878.4,680 879.4,680 879.9,667 880.9,667 881.4,657 881.9,648 882.9,648 883.4,632.5 886.4,632.5 886.9,615.5 888.4,615.5 888.9,595 893.9,595 894.4,658 897.4,658 897.9,664 898.4,664 898.9,666.5 899.4,683 904.9,683 905.4,686 908.4,686 908.9,729.5 909.4,729.5 909.9,733 913.4,733 913.9,736 915.4,736 915.9,747.5 921.4,747.5 921.9,757 922.4,773 924.9,773 925.4,779.5 925.9,776 931.4,776 931.9,795 934.4,795 934.9,797.5 935.4,797.5 935.9,799 936.4,799 936.9,802.5 937.9,802.5 938.4,804.5 942.4,804.5 942.9,823.5 943.4,824.5 943.9,826 944.4,823.5 944.9,822.5 945.4,822.5 945.9,818 950.9,818 951.4,819 952.4,819 952.9,797.5 958.4,797.5 958.9,799.5 959.4,816.5 966.9,816.5 967.4,825.5 967.9,819 969.4,819 969.9,816.5 975.4,816.5 975.9,821 977.4,821 977.9,834 979.4,834 979.9,839.5 980.4,839.5 980.9,838 981.9,838 982.4,835.5 985.9,835.5 986.4,835 990.9,835 991.4,834.5 992.9,834.5 993.4,832.5 996.4,832.5 996.9,826.5 1002.4,826.5 1002.9,836 1003.4,839.5 1004.9,839.5 1005.4,844 1005.9,834 1010.9,834 1011.4,836 1013.4,836 1013.9,841 1014.9,841 1015.4,834.5 1020.9,834.5 1021.4,836 1022.9,836 1023.4,835.5 1028.4,835.5 1028.9,833.5 1036.9,833.5 1037.4,829.5 1039.9,829.5 1040.4,819.5 1045.4,819.5 1045.9,812.5 1050.9,812.5 1051.4,813.5 1051.9,829 1052.4,829 1052.9,833.5 1057.4,833.5 1057.9,827 1058.4,821 1063.4,821 1063.9,834.5 1064.4,834.5 1064.9,833.5 1066.4,833.5 1066.9,833 1067.4,833 1067.9,828.5 1068.4,817.5 1068.9,812.5 1074.4,812.5 1074.9,824.5 1075.4,831 1076.4,831 1076.9,832.5 1078.4,832.5 1078.9,835 1079.4,836 1080.9,836 1081.4,841.5 1081.9,841.5 1082.4,837.5 1084.9,837.5 1085.4,834 1086.9,834 1087.4,822.5 1087.9,822.5 1088.4,808.5 1093.4,808.5 1093.9,809.5 1094.4,829 1095.9,829 1096.9,830 1099.9,830 1100.4,834 1101.4,834 1101.9,828 1107.4,828 1107.9,829 1108.9,829 1109.4,829.5 1111.9,829.5 1112.4,838.5 1113.9,838.5 1114.4,834.5 1117.9,834.5 1118.4,833 1123.4,833 1123.9,837 1124.4,837 1124.9,832.5 1130.4,832.5 1130.9,840.5 1131.9,840.5 1132.4,839.5 1134.4,839.5 1134.9,834.5 1135.4,831.5 1144.9,831.5 1145.4,841.5 1147.4,841.5 1147.9,837 1153.4,837 1153.9,836 1159.4,836 1159.9,843 1161.9,843 1161.9,879 1158.4,879 1157.9,873.5 1154.4,873.5 1153.9,867 1153.4,867 1152.9,868.5 1152.4,868.5 1151.9,869.5 1150.4,869.5 1149.9,873 1144.9,873 1144.4,866.5 1143.9,868 1143.4,877.5 1138.4,877.5 1137.9,876.5 1132.9,876.5 1132.4,868 1131.9,868 1131.4,866.5 1127.9,866.5 1127.4,874 1122.4,874 1121.9,873.5 1120.9,873.5 1120.4,869.5 1119.9,869.5 1119.4,855 1117.9,855 1117.4,862.5 1116.4,862.5 1115.9,866 1112.9,866 1112.4,877 1106.9,877 1106.4,875 1102.4,875 1101.9,873.5 1100.4,873.5 1099.9,867 1099.4,867 1098.9,858 1097.4,858 1096.9,872.5 1091.4,872.5 1090.9,866 1089.9,866 1089.4,858.5 1088.9,854.5 1088.4,862.5 1086.9,862.5 1086.4,869.5 1081.4,869.5 1080.9,862 1080.4,861 1079.9,863 1078.4,863 1077.9,867.5 1075.9,867.5 1075.4,873 1070.4,873 1069.9,867.5 1069.4,853 1068.9,853 1067.9,858 1064.9,858 1064.4,865 1063.4,865 1062.9,868 1061.9,868 1061.4,870 1060.9,870 1060.4,873.5 1059.9,874.5 1054.9,874.5 1054.4,861.5 1053.9,859.5 1053.4,861 1052.9,862 1047.9,862 1047.4,859 1043.4,859 1042.9,853 1040.9,853 1040.4,869.5 1034.9,869.5 1034.4,862.5 1032.4,862.5 1031.9,872 1026.9,872 1026.4,867.5 1025.9,870 1021.9,870 1021.4,873.5 1015.9,873.5 1015.4,869 1014.9,875.5 1009.9,875.5 1009.4,870 1008.9,879 1004.9,879 1004.4,881.5 999.4,881.5 998.9,880.5 995.4,880.5 994.9,871 994.4,871 993.9,874 988.9,874 988.4,872 984.9,872 984.4,874.5 983.9,886.5 978.9,886.5 978.4,877 973.4,877 972.9,863.5 972.4,859.5 971.4,859.5 970.9,859 968.9,859 968.4,857.5 967.4,857.5 966.9,855 965.4,855 964.9,854 964.4,854 963.9,853.5 962.9,853.5 962.4,858 960.4,858 959.9,858.5 955.4,858.5 954.9,870.5 949.4,870.5 948.9,849.5 948.4,848.5 947.9,852.5 942.9,852.5 942.4,851 941.4,851 940.9,844.5 940.4,857 935.4,857 934.9,841 934.4,835.5 933.9,835.5 933.4,843 932.9,843 932.4,848.5 930.4,848.5 929.9,859.5 924.9,859.5 924.4,858.5 923.9,842 923.4,842 922.9,833 920.4,833 919.9,829.5 918.9,829.5 918.4,811 917.4,811 916.9,803 913.9,803 913.4,799 912.9,799 912.4,795 911.9,796.5 910.9,796.5 910.4,801.5 904.9,801.5 904.4,792.5 902.9,792.5 902.4,760 901.9,759 901.4,755.5 900.9,755.5 900.4,751 897.4,751 896.9,738 891.4,738 890.9,728.5 889.9,728.5 889.4,714 888.9,699 886.9,699 886.4,717 885.9,733.5 883.4,733.5 882.9,734 882.4,734 881.9,746 881.4,755.5 880.4,755.5 879.9,763 879.4,779 877.9,779 877.4,795.5 876.9,795.5 876.4,807.5 874.4,807.5 873.9,808 873.4,808 872.9,813 872.4,816 871.4,831 867.9,831 867.4,843.5 864.9,843.5 864.4,844.5 862.9,844.5 862.4,848 858.9,848 858.4,854.5 852.9,854.5 852.4,851.5 845.4,851.5 844.9,855 844.4,860.5 838.9,860.5 838.4,848.5 833.9,848.5 833.4,841.5 832.4,841.5 831.9,838 831.4,848.5 830.4,848.5 829.9,857.5 829.4,858.5 824.4,858.5 823.9,856.5 821.9,856.5 821.4,858 815.9,858 815.4,861 814.4,861 813.9,861.5 808.4,861.5 807.9,851 805.9,851 805.4,859 800.4,859 799.9,851.5 797.4,851.5 796.9,849 796.4,849 795.9,854.5 790.9,854.5 790.4,852 788.4,852 787.9,843 786.4,843 785.9,844.5 784.4,844.5 783.9,846.5 781.9,846.5 781.4,855.5 775.9,855.5 775.4,846 772.4,846 771.9,841 771.4,834 770.9,834 770.4,850.5 765.4,850.5 764.9,836.5 763.4,836.5 762.9,834 761.4,834 760.9,819 757.9,819 757.4,818.5 756.9,822 755.9,822 754.9,830 752.9,830 752.4,831.5 746.9,831.5 746.4,825.5 744.4,825.5 743.9,842 738.9,842 738.4,833.5 737.4,833.5 736.9,831.5 734.4,831.5 733.9,833 728.9,833 728.4,831 727.9,830.5 723.9,830.5 723.4,816.5 722.9,820 719.4,820 718.9,828.5 713.4,828.5 712.9,816.5 708.9,816.5 708.4,803.5 706.4,803.5 705.9,801.5 705.4,801.5 704.9,795 703.9,795 703.4,801 702.9,816 697.9,816 697.4,815.5 696.9,815.5 696.4,814.5 695.9,814.5 695.4,795 694.9,795 694.4,793.5 693.9,793.5 693.4,791 692.9,789.5 687.4,789.5 686.9,783.5 685.4,783.5 684.9,787.5 683.9,787.5 683.4,794 677.9,794 677.4,782 675.4,782 674.9,791.5 669.9,791.5 669.4,773.5 668.9,797 663.9,797 663.4,796 661.9,796 661.4,774 659.9,774 659.4,790 656.4,790 655.9,803.5 655.4,810 650.4,810 649.9,809.5 648.9,809.5 648.4,793 647.9,781 646.9,781 646.4,780 641.4,780 640.9,788 640.4,800 634.9,800 634.4,790.5 633.9,764.5 629.4,764.5 628.9,763 628.4,763 627.9,770 623.4,770 622.9,772.5 617.9,772.5 617.4,772 615.4,772 614.9,760.5 614.4,760.5 613.9,768.5 612.4,768.5 611.9,782 606.9,782 606.4,757 605.9,759 604.4,759 603.9,763.5 599.9,763.5 599.4,780.5 594.4,780.5 593.9,766.5 588.9,766.5 588.4,754.5 585.9,754.5 585.4,741.5 583.4,741.5 582.9,772 577.9,772 577.4,739 574.9,739 574.4,741.5 569.4,741.5 568.9,731 567.4,731 566.9,750.5 561.9,750.5 561.4,737.5 560.9,733.5 558.9,733.5 558.4,721 554.4,721 553.9,724 549.9,724 549.4,739.5 548.9,745 543.9,745 543.4,723.5 539.9,723.5 539.4,715 538.4,715 537.9,710.5 537.4,705.5 536.9,712 533.4,712 532.9,714.5 527.9,714.5 527.4,702.5 525.4,702.5 524.9,675 523.4,675 522.9,685 519.4,685 518.9,701.5 518.4,705 512.9,705 512.4,682 511.9,686 510.9,686 510.4,699.5 509.9,705 509.4,720.5 508.9,733 508.4,759 507.9,759 507.4,779.5 506.9,779.5 506.4,783 504.9,783 504.4,790 503.9,790 503.4,794.5 502.9,794.5 502.4,807 501.4,807 500.9,810 497.4,810 496.9,814.5 496.4,814.5 495.9,815.5 494.4,815.5 493.9,822.5 489.4,822.5 488.9,824 483.4,824 482.9,819 481.9,819 481.4,820 480.4,820 479.9,826 475.4,826 474.9,844 469.9,844 469.4,839.5 464.9,839.5 464.4,833 463.4,833 462.9,837 461.9,837 461.4,838.5 455.9,838.5 455.4,821 453.9,821 453.4,823 452.4,823 451.9,832 446.4,832 445.9,838.5 440.9,838.5 440.4,833.5 439.4,833.5 438.9,832 436.4,832 435.9,823 432.9,823 432.4,819.5 430.9,819.5 430.4,820.5 429.4,836.5 423.9,836.5 423.4,814 420.9,814 420.4,813 419.9,813 419.4,830.5 413.9,830.5 413.4,814 412.9,814 412.4,811 411.9,811 411.4,826 405.9,826 405.4,806 404.9,796.5 404.4,796.5 403.9,799.5 403.4,801 401.9,801 401.4,820 398.9,820 398.4,825.5 395.9,825.5 395.4,834 389.9,834 389.4,793.5 388.4,793.5 387.9,791.5 387.4,791 385.9,791 385.4,788.5 384.9,811 379.9,811 379.4,780.5 376.9,780.5 376.4,777.5 373.9,777.5 373.4,766.5 372.9,766.5 372.4,764 371.9,788 366.9,788 366.4,777 362.4,777 361.9,758.5 360.9,758.5 360.4,756.5 357.4,756.5 356.9,751.5 356.4,751.5 355.9,746 354.4,746 353.9,742.5 352.4,742.5 351.9,742 350.9,742 350.4,737.5 345.9,737.5 345.4,703 344.9,710 339.4,710 338.9,693 336.9,693 336.4,704.5 335.9,704.5 335.4,726.5 334.9,727 329.4,727 328.9,698 326.4,698 325.9,704 323.9,704 323.4,716.5 322.4,716.5 321.9,721 321.4,736 316.4,736 315.9,733.5 315.4,691 314.4,691 313.9,715.5 308.4,715.5 307.9,704 305.4,704 304.9,707.5 304.4,707.5 303.9,721.5 299.9,721.5 299.4,731 293.9,731 293.4,724 291.9,724 291.4,755.5 285.9,755.5 285.4,750.5 284.9,762.5 281.4,762.5 280.9,769 278.9,769 278.4,772.5 275.4,772.5 274.9,786.5 274.4,786.5 273.9,791.5 268.4,791.5 267.9,784.5 265.9,784.5 265.4,790 263.9,790 263.4,806 257.9,806 257.4,814.5 251.9,814.5 251.4,804.5 249.4,804.5 248.9,808.5 248.4,809 242.9,809 242.4,830.5 237.4,830.5 236.9,817.5 232.9,817.5 232.4,821.5 227.4,821.5 226.9,806.5 224.4,806.5 223.9,805 223.4,805 222.9,803 220.4,803 219.9,819.5 214.4,819.5 213.9,801 213.4,785 212.9,785 212.4,783 211.4,783 210.9,795 205.9,795 205.4,793 202.4,793 201.9,762 200.4,762 199.9,764.5 199.4,764.5 198.9,776 197.4,776 196.9,784 191.9,784 191.4,780 189.9,780 189.4,770.5 187.4,770.5 186.9,751.5 186.4,763.5 180.9,763.5 180.4,761.5 176.9,761.5 176.4,760.5 170.9,760.5 170.4,747.5 168.9,747.5 168.4,751 163.9,751 163.4,754.5 158.9,754.5 158.4,756.5 153.4,756.5 152.9,744.5 152.4,744.5 151.9,760.5 151.4,773.5 146.4,773.5 145.9,768.5 142.9,768.5 142.4,753 141.9,744.5 141.4,744.5 140.9,755 135.9,755 135.4,754.5 132.9,754.5 132.4,741 131.4,741 130.9,736.5 129.9,736.5 129.4,735.5 127.9,735.5 127.4,746.5 122.4,746.5 121.9,738 119.4,738 118.9,742.5 115.9,742.5 115.4,749.5 110.4,749.5 109.9,714 109.4,710.5 105.9,710.5 105.4,698.5 104.9,693.5 102.4,693.5 101.9,688 101.4,698.5 96.4,698.5 95.9,674 95.4,674 94.9,670.5 94.4,670.5 93.9,665 93.4,664.5 91.9,664.5 91.4,656 87.9,656 87.4,608 86.9,614 83.4,614"/></g>
<g clip-path="url(#cpb)"><polygon fill="#0000ff" points="1349.7,263 1352.2,263 1352.7,276.5 1353.7,276.5 1354.2,278.5 1356.2,278.5 1356.7,291.5 1357.2,300 1357.7,300 1358.2,302 1358.7,302 1359.2,306.5 1362.2,306.5 1362.7,308.5 1363.2,308.5 1363.7,318.5 1365.7,318.5 1366.2,318 1371.2,318 1371.7,327 1372.2,318.5 1373.2,318.5 1373.7,315.5 1378.2,315.5 1378.7,301 1383.7,301 1384.2,303.5 1385.7,303.5 1386.2,304.5 1387.7,304.5 1388.2,300.5 1395.7,300.5 1396.2,309 1396.7,310.5 1397.2,313.5 1397.7,322 1398.2,325 1399.2,325 1399.7,335 1400.2,344.5 1400.7,347 1401.7,347 1402.2,349.5 1402.7,349.5 1403.2,357 1404.7,357 1405.2,359 1406.7,359 1407.2,360.5 1407.7,362.5 1410.7,362.5 1411.2,366 1414.7,366 1415.2,371.5 1417.7,371.5 1418.2,378.5 1418.7,378.5 1419.2,382.5 1421.2,382.5 1421.7,384 1422.2,390 1425.2,390 1425.7,390.5 1426.2,390.5 1426.7,387 1430.7,387 1431.2,380 1436.7,380 1437.2,376.5 1442.2,376.5 1442.7,377.5 1443.2,379 1443.7,379 1444.2,384 1444.7,384.5 1447.7,384.5 1448.2,390.5 1449.2,390.5 1449.7,393 1450.2,384 1455.2,384 1456.2,385 1456.7,385 1457.2,372.5 1462.7,372.5 1463.2,373.5 1465.7,373.5 1466.2,379.5 1468.7,379.5 1469.2,372.5 1471.7,372.5 1472.2,366 1477.7,366 1478.2,381.5 1478.7,381.5 1479.2,384.5 1480.2,384.5 1480.7,384 1485.7,384 1486.2,398.5 1488.2,398.5 1488.7,399 1489.2,399 1489.7,403.5 1490.2,403.5 1490.7,414 1491.2,415 1493.7,415 1494.2,414 1499.2,414 1499.7,414.5 1502.7,414.5 1503.2,420 1503.7,412.5 1506.2,412.5 1506.7,404.5 1511.7,404.5 1512.2,411 1512.7,412 1516.7,412 1517.2,419.5 1519.2,419.5 1519.7,416 1520.2,416 1520.7,408 1525.7,408 1526.2,411 1529.2,411 1529.7,415.5 1530.7,415.5 1531.2,412.5 1534.2,412.5 1534.7,409 1535.2,403.5 1540.7,403.5 1541.2,410.5 1544.7,410.5 1545.2,402.5 1546.7,402.5 1547.2,401.5 1547.7,401.5 1548.2,398 1549.2,398 1549.7,393.5 1550.2,380.5 1555.7,380.5 1556.2,392.5 1556.7,394.5 1558.7,394.5 1559.2,402 1559.7,396 1560.2,394.5 1562.2,394.5 1562.7,392.5 1566.7,392.5 1567.2,390 1568.2,390 1568.7,386.5 1569.2,379.5 1572.2,379.5 1572.7,366 1578.2,366 1578.7,376.5 1579.2,384.5 1580.7,384.5 1581.2,383 1582.2,383 1582.7,382 1583.7,382 1584.2,381.5 1584.7,381.5 1585.2,378 1590.2,378 1590.7,387 1592.2,387 1592.7,385.5 1593.2,384.5 1598.2,384.5 1598.7,392 1599.2,392 1599.7,386.5 1604.7,386.5 1605.2,393 1608.2,393 1608.7,388.5 1614.2,388.5 1614.7,397 1615.7,397 1616.2,398.5 1617.7,398.5 1618.2,397.5 1618.7,396 1623.7,396 1624.2,401.5 1625.2,401.5 1625.7,401 1626.7,401 1627.2,394.5 1630.2,394.5 1630.7,388.5 1635.7,388.5 1636.2,391 1637.2,391 1637.7,399 1638.7,399 1639.2,387 1644.7,387 1645.2,390.5 1649.7,390.5 1650.2,394 1651.2,394 1651.7,395.5 1657.7,395.5 1658.2,402.5 1658.7,404.5 1659.2,395.5 1659.7,395.5 1660.2,387 1665.7,387 1666.2,401 1667.7,401 1668.2,399.5 1668.7,396.5 1670.2,396.5 1670.7,385 1676.2,385 1676.7,395 1680.7,395 1681.2,399 1682.2,399 1682.7,395 1684.7,395 1685.2,391.5 1690.7,391.5 1691.2,398 1691.7,394 1697.2,394 1697.7,398.5 1700.7,398.5 1701.2,399.5 1702.2,399.5 1702.7,408.5 1703.7,408.5 1704.2,397.5 1709.7,397.5 1710.2,399 1712.2,399 1712.7,403 1717.7,403 1718.2,405.5 1723.2,405.5 1723.7,400 1724.2,400 1724.7,394 1730.2,394 1730.7,399.5 1731.7,399.5 1732.2,398.5 1735.7,398.5 1736.2,395.5 1736.7,395.5 1737.2,390.5 1737.7,381 1738.2,381 1738.7,370.5 1739.2,355.5 1739.7,345.5 1740.2,332 1740.7,321.5 1741.2,307.5 1741.7,297.5 1742.2,290 1742.7,278 1743.2,268.5 1743.7,256 1744.2,253.5 1749.7,253.5 1750.2,257.5 1750.7,257.5 1751.2,258 1751.7,259 1752.2,266.5 1752.7,280 1753.2,294 1753.7,300.5 1754.2,317.5 1754.7,326 1755.2,336.5 1755.7,350 1756.2,359 1756.7,365.5 1757.2,381.5 1757.7,389.5 1764.7,389.5 1765.2,379 1770.2,379 1770.7,378.5 1771.2,373.5 1771.7,371.5 1772.2,369 1772.7,357 1773.2,352.5 1773.7,346.5 1774.2,346.5 1774.7,324.5 1775.7,324.5 1776.2,322 1776.7,310.5 1777.2,303 1777.7,301 1778.2,290 1778.7,270 1779.2,269.5 1779.7,258.5 1780.2,236.5 1780.7,226 1781.2,208.5 1781.7,201 1782.2,183 1787.7,183 1788.2,199.5 1788.7,199.5 1789.2,229 1790.2,229 1790.7,233 1791.2,239 1791.7,259 1792.2,276 1792.7,276 1793.2,277.5 1793.7,280 1794.2,286.5 1795.2,286.5 1795.7,292 1796.2,292 1796.7,289 1801.7,289 1802.2,269.5 1802.7,269.5 1803.2,265.5 1803.7,252 1804.2,235 1804.7,206.5 1805.2,193 1805.7,165 1806.2,162 1806.7,146 1807.2,126 1807.7,102 1813.7,102 1814.2,120.5 1814.7,140.5 1815.2,154.5 1815.7,169.5 1816.2,190.5 1816.7,210 1817.2,233 1817.7,254.5 1818.2,264.5 1818.7,279.5 1819.2,299.5 1819.7,303 1820.2,303 1820.7,307.5 1822.2,307.5 1822.7,322.5 1823.2,322.5 1823.7,323 1824.2,327.5 1827.7,327.5 1828.2,337.5 1830.7,337.5 1831.2,358.5 1831.7,354.5 1832.2,354 1832.7,353 1833.2,351 1833.7,351 1834.2,347 1839.7,347 1840.2,354 1840.7,354 1841.2,358 1841.7,358.5 1842.2,344 1842.7,344 1843.2,339.5 1848.7,339.5 1849.2,341.5 1851.2,341.5 1851.7,349 1852.2,349 1852.7,356 1853.2,355.5 1853.7,351 1859.2,351 1859.7,354.5 1861.7,354.5 1862.7,355.5 1865.7,355.5 1866.2,364.5 1866.7,369 1867.2,369 1867.7,367 1870.7,367 1871.2,366.5 1877.7,366.5 1878.2,369 1880.7,369 1881.2,365.5 1883.7,365.5 1884.2,361 1889.2,361 1889.7,382.5 1890.2,377 1890.7,377 1891.2,373.5 1894.2,373.5 1894.7,365 1899.7,365 1900.2,377.5 1900.7,377.5 1901.2,381.5 1901.7,381.5 1902.2,383.5 1902.7,383.5 1903.2,384.5 1903.7,386.5 1904.2,386.5 1904.7,381.5 1905.7,381.5 1906.2,378 1911.7,378 1912.2,380.5 1914.7,380.5 1915.2,381.5 1918.2,381.5 1918.7,386 1919.7,386 1920.2,373 1925.2,373 1925.7,382 1926.2,385.5 1929.2,385.5 1929.7,393 1930.2,392.5 1930.7,387 1931.2,387 1931.7,381 1932.7,381 1933.2,380 1937.2,380 1937.7,354 1943.2,354 1943.7,369 1944.2,369 1944.7,367 1950.2,367 1950.7,376 1952.2,376 1952.7,380 1953.2,377 1954.2,377 1954.7,370 1957.2,370 1957.7,365.5 1962.2,365.5 1962.7,363 1964.2,363 1964.7,355.5 1965.2,355.5 1965.7,351 1967.2,351 1967.7,350 1970.2,350 1970.7,348 1974.7,348 1975.2,344.5 1980.7,344.5 1981.2,363 1981.7,363 1982.2,367 1985.2,367 1985.7,384 1986.7,384 1987.2,387.5 1987.7,395.5 1988.2,393.5 1988.7,393.5 1989.2,379.5 1994.7,379.5 1995.2,389 1999.7,389 2000.2,390 2001.7,390 2002.2,394 2004.2,394 2004.7,397.5 2007.2,397.5 2007.7,400.5 2009.2,400.5 2009.7,398 2010.2,394.5 2015.2,394.5 2015.7,399 2020.2,399 2020.7,398.5 2022.7,398.5 2023.2,398 2028.7,398 2029.2,404.5 2030.7,404.5 2031.2,407 2031.7,407.5 2032.7,407.5 2033.2,410 2033.7,402.5 2037.7,402.5 2038.2,399.5 2043.7,399.5 2044.2,403.5 2048.2,403.5 2048.7,404 2049.2,404 2049.7,408.5 2050.2,408.5 2050.7,404 2052.2,404 2052.7,403 2058.2,403 2058.7,407 2059.2,407 2059.7,403 2065.2,403 2065.7,408 2068.7,408 2069.2,411 2072.7,411 2073.2,413 2074.2,413 2074.7,405 2075.7,405 2076.2,403.5 2081.2,403.5 2081.7,405 2083.7,405 2084.2,409 2086.7,409 2087.2,409.5 2088.2,409.5 2088.7,406 2089.2,406 2089.7,402.5 2090.2,402.5 2090.7,393.5 2091.2,393 2091.7,386 2092.2,381.5 2092.7,357 2093.2,357 2093.7,354.5 2094.2,338 2094.7,338 2095.2,328.5 2096.2,328.5 2096.7,323.5 2101.7,323.5 2102.2,327.5 2102.7,336.5 2104.2,336.5 2104.7,342.5 2105.2,350.5 2105.7,350.5 2106.2,364 2106.7,364 2107.2,370 2107.7,370 2108.2,373.5 2108.7,375.5 2109.2,375.5 2109.7,379 2110.2,379 2110.7,385 2112.2,385 2112.7,396 2113.7,396 2114.2,397.5 2114.7,398.5 2118.7,398.5 2119.2,404.5 2120.7,404.5 2121.2,412.5 2122.7,412.5 2123.2,413 2123.7,413 2124.2,404.5 2132.2,404.5 2132.7,397 2137.7,397 2138.2,404.5 2138.7,398 2140.2,398 2140.7,396.5 2143.2,396.5 2143.7,396 2144.2,389 2146.2,389 2146.7,384.5 2147.2,377.5 2147.7,368.5 2148.2,367 2148.7,359.5 2149.2,349.5 2149.7,330 2150.2,329.5 2150.7,322 2152.2,322 2152.7,317.5 2153.2,314.5 2155.2,314.5 2155.7,294.5 2161.2,294.5 2161.7,306.5 2162.2,312.5 2162.7,312.5 2163.2,334.5 2167.2,334.5 2167.7,335 2172.7,335 2173.2,343 2173.7,345.5 2177.2,345.5 2177.7,361 2178.7,361 2179.2,363 2179.7,363 2180.2,360 2181.7,360 2182.2,357.5 2183.2,357.5 2183.7,345 2185.2,345 2185.7,341 2186.2,341 2186.7,335 2191.7,335 2192.2,340.5 2193.7,340.5 2194.2,345 2195.7,345 2196.2,366.5 2196.7,366.5 2197.2,367 2197.7,367 2198.2,383.5 2198.7,387 2202.2,387 2202.7,401 2204.2,401 2204.7,404.5 2205.2,404.5 2205.7,402.5 2206.7,402.5 2207.2,401.5 2207.7,397 2212.7,397 2213.2,397.5 2215.7,397.5 2216.2,400 2219.2,400 2219.7,401 2220.2,402.5 2220.7,407.5 2221.7,407.5 2222.2,405.5 2227.7,405.5 2228.2,410.5 2230.2,410.5 2230.7,407 2232.2,407 2232.7,398.5 2237.7,398.5 2238.2,405 2242.2,405 2242.7,411 2245.7,411 2246.2,413.5 2250.2,413.5 2251.2,406.5 2252.2,406.5 2252.7,396.5 2253.7,396.5 2254.2,394.5 2254.7,391.5 2255.2,391.5 2255.7,384 2256.2,384 2256.7,379.5 2257.2,368.5 2257.7,359.5 2262.7,359.5 2263.2,362 2263.7,365 2264.2,373.5 2264.7,373.5 2265.2,378.5 2265.7,378.5 2266.2,385 2271.7,385 2272.2,383 2277.2,383 2277.7,396 2279.7,396 2280.2,405.5 2280.7,406.5 2281.2,414 2281.7,414 2282.2,417 2283.7,417 2284.2,425 2284.7,423.5 2286.7,423.5 2287.2,421.5 2287.7,421.5 2288.2,418.5 2293.7,418.5 2294.2,419.5 2296.2,419.5 2296.7,421.5 2301.2,421.5 2301.7,427.5 2302.2,427.5 2302.7,427 2303.2,421.5 2308.2,421.5 2308.7,424.5 2309.2,422.5 2309.7,421.5 2310.2,420 2310.7,419.5 2312.2,419.5 2312.7,415.5 2313.2,415.5 2313.7,413.5 2318.2,413.5 2318.7,412.5 2324.2,412.5 2324.7,419 2327.7,419 2328.2,423 2328.7,423 2329.2,415.5 2334.2,415.5 2334.7,417 2338.2,417 2338.7,424 2344.2,424 2344.7,423 2352.7,423 2353.2,424 2353.7,416 2358.7,416 2359.2,416.5 2360.7,416.5 2361.2,421 2367.7,421 2368.2,422.5 2371.2,422.5 2371.7,424 2373.7,424 2374.2,423.5 2375.7,423.5 2376.2,423 2376.7,415.5 2381.7,415.5 2382.2,418 2382.7,417.5 2383.2,417.5 2383.7,413.5 2388.7,413.5 2389.2,414.5 2389.7,417.5 2394.2,417.5 2394.7,428 2398.2,428 2398.7,434.5 2399.2,432 2401.2,432 2401.7,431 2403.2,431 2403.7,429.5 2408.7,429.5 2409.2,432 2409.7,432 2410.2,430 2411.2,430 2411.7,426.5 2417.2,426.5 2417.7,429 2418.7,429 2419.2,435 2419.7,431.5 2420.2,431 2424.7,431 2425.2,430 2428.2,430 2428.2,447.5 2427.2,447.5 2426.7,450.5 2421.7,450.5 2421.2,450 2420.7,447.5 2420.2,450.5 2415.2,450.5 2414.7,449 2414.2,450.5 2413.7,451.5 2412.7,451.5 2412.2,457 2407.2,457 2406.7,454.5 2402.7,454.5 2402.2,453 2397.7,453 2397.2,452.5 2393.7,452.5 2393.2,450.5 2390.7,450.5 2390.2,444.5 2388.7,444.5 2388.2,441.5 2387.2,441.5 2386.7,441 2386.2,440 2384.7,440 2384.2,448.5 2379.2,448.5 2378.7,450.5 2375.7,450.5 2375.2,456.5 2370.2,456.5 2369.7,448 2368.7,448 2368.2,450 2363.7,450 2363.2,453.5 2357.7,453.5 2357.2,445.5 2351.7,445.5 2351.2,441 2350.2,441 2349.7,451 2344.2,451 2343.7,446.5 2340.2,446.5 2339.7,450.5 2334.2,450.5 2333.7,448 2332.7,448 2332.2,444.5 2328.7,444.5 2328.2,442 2327.2,442 2326.7,439.5 2323.7,439.5 2323.2,439 2319.2,439 2318.7,438.5 2317.2,438.5 2316.7,435 2315.2,435 2314.7,439 2313.7,439 2313.2,442 2311.2,442 2310.7,448 2305.7,448 2305.2,443.5 2304.2,443.5 2303.7,446 2302.7,446 2302.2,447 2297.2,447 2296.7,445 2295.2,445 2294.7,449 2289.7,449 2289.2,444.5 2286.7,444.5 2286.2,439.5 2282.2,439.5 2281.7,437.5 2281.2,437.5 2280.7,435.5 2280.2,435.5 2279.7,433 2279.2,431.5 2278.7,431.5 2278.2,430.5 2276.2,430.5 2275.7,427.5 2275.2,424 2273.2,424 2272.7,421.5 2272.2,420.5 2266.7,420.5 2266.2,409.5 2262.7,409.5 2262.2,396 2261.2,396 2260.7,403 2259.2,403 2258.7,419 2256.2,419 2255.7,421.5 2255.2,423 2254.7,426 2253.2,426 2252.7,435 2250.2,435 2249.7,435.5 2249.2,435.5 2248.7,441 2243.2,441 2242.7,435.5 2242.2,431.5 2241.7,431.5 2241.2,429.5 2240.7,429.5 2240.2,428.5 2239.7,428 2239.2,429 2237.7,429 2237.2,429.5 2236.7,429.5 2236.2,436.5 2231.2,436.5 2230.7,435.5 2226.7,435.5 2226.2,442 2225.7,442.5 2220.2,442.5 2219.7,437.5 2215.7,437.5 2215.2,430 2211.7,430 2211.2,429 2208.7,429 2208.2,433.5 2203.2,433.5 2202.7,422 2198.2,422 2197.7,407.5 2197.2,406 2196.7,405 2194.7,405 2194.2,393 2193.7,393 2193.2,391.5 2192.7,391 2192.2,375 2191.2,375 2190.7,370 2190.2,370 2189.7,391.5 2184.2,391.5 2183.7,401 2178.2,401 2177.7,398.5 2174.7,398.5 2174.2,388.5 2170.2,388.5 2169.7,382.5 2165.2,382.5 2164.7,368.5 2164.2,370 2159.2,370 2158.7,362.5 2158.2,356 2157.7,356 2157.2,343.5 2156.7,343.5 2156.2,336 2155.2,336 2154.7,359 2154.2,361 2153.7,368 2153.2,369.5 2152.7,379 2152.2,385.5 2151.7,395 2151.2,395 2150.7,400.5 2150.2,421 2148.2,421 2147.7,422 2142.7,422 2142.2,422.5 2140.7,422.5 2140.2,424 2137.7,424 2137.2,432 2136.2,432 2135.7,443.5 2130.2,443.5 2129.7,436.5 2128.2,436.5 2127.7,432 2126.7,432 2126.2,432.5 2125.7,432.5 2125.2,435.5 2119.7,435.5 2119.2,431 2117.2,431 2116.7,428.5 2115.2,428.5 2114.7,431.5 2109.2,431.5 2108.7,416 2106.2,416 2105.7,407 2105.2,393 2104.2,393 2103.7,386 2101.7,386 2101.2,380.5 2100.7,369.5 2100.2,359 2099.7,359 2099.2,355.5 2098.7,358.5 2098.2,366.5 2097.7,382.5 2097.2,391.5 2096.7,394 2096.2,405 2095.7,411.5 2095.2,411.5 2094.7,415.5 2094.2,415.5 2093.7,417.5 2093.2,425 2092.7,432 2088.2,432 2087.7,432.5 2086.7,432.5 2086.2,435.5 2083.7,435.5 2083.2,440.5 2079.7,440.5 2079.2,444.5 2077.7,444.5 2077.2,446.5 2071.7,446.5 2071.2,439.5 2066.7,439.5 2066.2,438 2065.7,434 2062.2,434 2061.7,435 2061.2,442 2060.7,442 2060.2,443.5 2054.7,443.5 2054.2,430 2053.7,430 2053.2,428 2052.7,430.5 2045.7,430.5 2045.2,441 2039.7,441 2039.2,430.5 2037.7,430.5 2037.2,443 2032.2,443 2031.7,430 2029.7,430 2029.2,437.5 2024.2,437.5 2023.7,435.5 2019.2,435.5 2018.7,439 2013.2,439 2012.7,427.5 2010.7,427.5 2010.2,429 2008.7,429 2008.2,437.5 2003.2,437.5 2002.7,427.5 2000.2,427.5 1999.7,434 1994.2,434 1993.7,423.5 1991.7,423.5 1991.2,417.5 1990.2,417.5 1989.7,418.5 1983.7,418.5 1983.2,416.5 1980.2,416.5 1979.7,413.5 1977.2,413.5 1976.7,402 1976.2,402 1975.7,398.5 1974.2,398.5 1973.7,381 1971.2,381 1970.7,389.5 1969.7,389.5 1969.2,392 1967.2,392 1966.7,395.5 1964.7,395.5 1964.2,406.5 1959.2,406.5 1958.7,404.5 1956.7,404.5 1956.2,402.5 1955.7,417 1950.7,417 1950.2,405.5 1948.7,405.5 1948.2,401 1947.2,401 1946.7,406 1946.2,407 1945.7,412.5 1945.2,414 1940.2,414 1939.7,410.5 1937.7,410.5 1937.2,411 1935.7,411 1935.2,418.5 1931.7,418.5 1931.2,433.5 1925.7,433.5 1925.2,413 1924.7,410.5 1923.2,410.5 1922.7,418.5 1917.7,418.5 1917.2,416 1913.2,416 1912.7,413 1912.2,413 1911.7,420.5 1910.7,420.5 1910.2,423 1905.2,423 1904.7,417.5 1900.2,417.5 1899.7,411.5 1899.2,411.5 1898.7,408.5 1898.2,407.5 1897.7,411 1895.2,411 1894.7,421.5 1889.7,421.5 1889.2,411.5 1888.7,408.5 1888.2,408.5 1887.7,417.5 1882.2,417.5 1881.7,413 1876.7,413 1876.2,409.5 1873.7,409.5 1873.2,408.5 1868.7,408.5 1868.2,403 1863.2,403 1862.7,396 1862.2,394.5 1860.2,394.5 1859.7,397.5 1854.7,397.5 1854.2,393.5 1853.7,390 1852.2,390 1851.7,385 1848.7,385 1848.2,384.5 1847.2,384.5 1846.7,388 1846.2,388 1845.7,403.5 1840.2,403.5 1839.7,387 1838.2,387 1837.7,382.5 1834.7,382.5 1834.2,384 1833.7,384 1833.2,394.5 1827.7,394.5 1827.2,375 1826.2,375 1825.7,387.5 1825.2,399.5 1819.7,399.5 1819.2,344 1818.7,329 1818.2,328.5 1817.7,326.5 1816.2,326.5 1815.7,319.5 1815.2,315.5 1814.7,311 1814.2,310.5 1813.7,301 1813.2,281 1812.7,267.5 1812.2,255.5 1811.7,234 1811.2,211.5 1810.7,194.5 1810.2,208 1809.7,236 1809.2,253.5 1808.7,266.5 1808.2,279 1807.7,279 1807.2,310 1806.2,310 1805.7,315 1805.2,318.5 1800.7,318.5 1800.2,320.5 1798.7,320.5 1798.2,326.5 1797.7,329 1792.7,329 1792.2,327.5 1791.7,317 1790.7,317 1790.2,309 1789.2,309 1788.7,306 1788.2,293.5 1787.7,293.5 1787.2,291.5 1786.7,278 1786.2,261 1785.7,251.5 1785.2,259.5 1784.7,278 1784.2,278 1783.7,291.5 1783.2,302 1782.7,304.5 1782.2,311.5 1781.7,323 1781.2,327.5 1780.7,338 1780.2,338 1779.7,353 1779.2,353 1778.7,363 1778.2,363 1777.7,370 1777.2,373 1776.7,374.5 1776.2,382.5 1775.7,392.5 1774.7,392.5 1774.2,395.5 1773.7,404.5 1773.2,404.5 1772.7,408 1772.2,408 1771.7,413 1766.2,413 1765.7,410 1763.2,410 1762.7,408.5 1761.7,408.5 1761.2,408 1760.7,406.5 1760.2,406.5 1759.7,409.5 1759.2,431 1758.7,432 1753.7,432 1753.2,400.5 1752.7,394.5 1752.2,394.5 1751.7,382.5 1751.2,367 1750.7,360 1750.2,351.5 1749.7,337.5 1749.2,327 1748.7,318.5 1748.2,301.5 1747.7,295 1747.2,299 1746.7,311.5 1746.2,322.5 1745.7,333 1745.2,348.5 1744.7,356.5 1744.2,371.5 1743.7,383 1743.2,383 1742.7,392 1742.2,398 1741.7,398 1741.2,400.5 1740.7,405.5 1740.2,408.5 1739.7,408.5 1739.2,411 1736.7,411 1736.2,412.5 1735.2,412.5 1734.7,419.5 1731.2,419.5 1730.7,421 1730.2,421 1729.7,427.5 1728.7,427.5 1728.2,448 1722.7,448 1722.2,437 1720.7,437 1720.2,435.5 1711.2,435.5 1710.7,434 1708.2,434 1707.7,432 1706.7,432 1706.2,445 1705.2,445 1704.7,447.5 1699.7,447.5 1699.2,441.5 1697.7,441.5 1697.2,434 1695.2,434 1694.7,434.5 1694.2,434.5 1693.7,439.5 1693.2,439.5 1692.7,447 1687.2,447 1686.7,431.5 1686.2,422.5 1685.7,429.5 1685.2,429.5 1684.7,443.5 1679.7,443.5 1679.2,435 1677.2,435 1676.7,439.5 1671.7,439.5 1671.2,437.5 1670.7,433 1668.7,433 1668.2,438 1662.7,438 1662.2,429.5 1656.2,429.5 1655.7,428.5 1651.2,428.5 1650.7,428 1641.2,428 1640.7,418.5 1640.2,421 1634.7,421 1634.2,429.5 1628.7,429.5 1628.2,427 1624.7,427 1624.2,422 1620.2,422 1619.7,421 1619.2,426 1613.7,426 1613.2,425 1612.7,425.5 1607.2,425.5 1606.7,424.5 1602.2,424.5 1601.7,423 1597.7,423 1597.2,419 1593.7,419 1593.2,415 1592.7,415 1592.2,416.5 1586.7,416.5 1586.2,415.5 1580.7,415.5 1580.2,411 1579.7,411 1579.2,406 1576.7,406 1576.2,402.5 1575.2,402.5 1574.7,410 1571.7,410 1571.2,423 1570.2,423 1569.7,427 1564.2,427 1563.7,425 1563.2,424 1558.7,424 1558.2,420 1557.7,420 1557.2,424 1555.7,424 1555.2,425 1549.7,425 1549.2,423 1548.7,423 1548.2,424 1547.2,424 1546.7,424.5 1546.2,424.5 1545.7,426 1545.2,432.5 1544.7,432.5 1544.2,439 1539.2,439 1538.2,437 1533.2,437 1532.7,432.5 1532.2,438.5 1528.2,438.5 1527.7,440 1527.2,451 1522.2,451 1521.7,443 1521.2,443 1520.7,436 1518.2,436 1517.7,436.5 1516.7,436.5 1516.2,445 1511.7,445 1511.2,446.5 1505.7,446.5 1505.2,444.5 1504.7,442 1499.2,442 1498.7,438.5 1489.2,438.5 1488.7,436.5 1486.7,436.5 1486.2,427 1485.7,424.5 1485.2,424.5 1484.7,428.5 1479.7,428.5 1479.2,417.5 1478.7,410.5 1476.7,410.5 1476.2,409 1475.7,405.5 1473.7,405.5 1473.2,412 1470.2,412 1469.7,416.5 1461.7,416.5 1461.2,410 1459.7,410 1459.2,408 1455.2,408 1454.7,408.5 1453.2,408.5 1452.7,419 1447.2,419 1446.7,413 1446.2,413 1445.7,417 1440.2,417 1439.7,416.5 1436.2,416.5 1435.7,420 1430.2,420 1429.7,419.5 1425.7,419.5 1425.2,421.5 1424.2,421.5 1423.7,425 1418.2,425 1417.7,415 1415.7,415 1415.2,402 1414.2,402 1413.7,401.5 1410.2,401.5 1409.7,391 1409.2,391 1408.7,394.5 1403.7,394.5 1403.2,384.5 1402.7,384 1402.2,379 1398.2,379 1397.7,377.5 1397.2,364 1396.7,361.5 1396.2,361.5 1395.7,359.5 1395.2,359.5 1394.7,355 1393.7,355 1393.2,343.5 1392.7,338.5 1392.2,364 1387.2,364 1386.7,354 1384.2,354 1383.7,355 1383.2,367.5 1378.7,367.5 1378.2,377.5 1372.7,377.5 1372.2,359.5 1369.7,359.5 1369.2,354 1365.7,354 1365.2,357.5 1359.7,357.5 1359.2,346 1355.2,346 1354.7,348 1349.7,348"/></g>
<g clip-path="url(#cpb)"><polygon fill="#0080ff" points="1349.7,645 1350.7,645 1351.2,609.5 1356.7,609.5 1357.2,623 1357.7,623 1358.2,629 1360.2,629 1360.7,653 1361.2,653 1361.7,672 1362.7,672 1363.2,689.5 1364.7,689.5 1365.2,700 1366.7,700 1367.2,711 1367.7,714.5 1368.2,720.5 1368.7,721.5 1369.2,725 1371.7,725 1372.2,737 1374.2,737 1374.7,741 1375.2,759.5 1375.7,759 1376.2,744 1376.7,730.5 1377.2,718 1377.7,713.5 1378.2,700.5 1378.7,693 1379.2,687 1379.7,674.5 1380.2,668 1380.7,656.5 1381.7,656.5 1382.2,485.5 1387.7,485.5 1388.2,497.5 1388.7,657.5 1389.2,665 1389.7,703 1390.2,735 1390.7,750.5 1391.2,763 1391.7,773 1392.2,774 1393.7,774 1394.2,775.5 1399.2,775.5 1399.7,779 1400.7,779 1401.2,780.5 1402.7,780.5 1403.2,781.5 1404.2,781.5 1404.7,804 1405.2,798.5 1410.2,798.5 1410.7,798 1417.7,798 1418.2,800.5 1419.7,800.5 1420.2,813.5 1420.7,819 1421.2,819 1421.7,818 1422.2,816.5 1422.7,816.5 1423.2,810 1427.7,810 1428.2,809 1433.2,809 1433.7,813 1434.2,815.5 1434.7,816 1436.7,816 1437.2,819 1440.2,819 1440.7,821 1441.2,716 1446.2,716 1446.7,717 1447.2,823 1448.2,823 1448.7,826 1449.2,826.5 1451.2,826.5 1451.7,825 1452.7,825 1453.2,820.5 1453.7,820.5 1454.2,814 1456.2,814 1456.7,812 1457.2,806.5 1462.2,806.5 1462.7,812 1465.7,812 1466.2,822 1469.7,822 1470.2,822.5 1470.7,821.5 1473.7,821.5 1474.2,811 1479.7,811 1480.2,820.5 1481.7,820.5 1482.2,829 1482.7,829 1483.2,813.5 1488.2,813.5 1488.7,818 1489.2,819 1494.2,819 1494.7,827 1495.2,824.5 1496.7,824.5 1497.2,823 1497.7,817.5 1500.2,817.5 1500.7,794 1505.7,794 1506.2,795 1506.7,807.5 1511.2,807.5 1511.7,816.5 1512.2,804 1517.2,804 1517.7,818 1520.2,818 1520.7,819.5 1521.7,819.5 1522.2,807 1525.7,807 1526.2,804 1531.7,804 1532.2,806 1532.7,805 1536.2,805 1536.7,793 1542.2,793 1542.7,798 1544.2,798 1544.7,807 1545.2,806.5 1545.7,792 1551.2,792 1551.7,783 1555.7,783 1556.2,780 1559.2,780 1559.7,767.5 1563.7,767.5 1564.2,759.5 1569.2,759.5 1569.7,771 1570.2,767 1575.2,767 1575.7,769 1577.2,769 1577.7,771.5 1578.2,771.5 1578.7,773 1579.2,760 1584.2,760 1584.7,767 1585.2,767 1585.7,751 1590.7,751 1591.2,752.5 1591.7,732.5 1597.2,732.5 1597.7,744.5 1598.2,759 1600.2,759 1600.7,764 1603.2,764 1603.7,761.5 1604.2,756 1605.7,756 1606.2,732.5 1611.7,732.5 1612.2,744.5 1612.7,758 1613.2,760 1615.7,760 1616.2,760.5 1617.2,760.5 1617.7,766.5 1620.2,766.5 1620.7,754.5 1626.2,754.5 1626.7,769.5 1627.2,769.5 1627.7,770 1628.2,767 1635.7,767 1636.2,769 1637.2,769 1637.7,746 1642.7,746 1643.2,751.5 1645.7,751.5 1646.2,756.5 1646.7,762.5 1647.2,763 1649.2,763 1649.7,771.5 1651.2,771.5 1651.7,759.5 1657.2,759.5 1657.7,760 1659.2,760 1659.7,756 1665.2,756 1665.7,763 1666.2,769 1667.7,769 1668.2,773 1668.7,754 1671.7,754 1672.2,748.5 1677.7,748.5 1678.2,760 1680.7,760 1681.2,764.5 1683.2,764.5 1683.7,752.5 1689.2,752.5 1689.7,754.5 1692.7,754.5 1693.2,755.5 1694.2,755.5 1694.7,757.5 1698.7,757.5 1699.2,761.5 1701.2,761.5 1701.7,764 1702.7,764 1703.2,762 1703.7,762 1704.2,758.5 1708.2,758.5 1708.7,750.5 1713.7,750.5 1714.2,757 1715.2,757 1715.7,760 1719.2,760 1719.7,753.5 1724.7,753.5 1725.2,760.5 1725.7,765 1728.7,765 1729.2,753.5 1734.7,753.5 1735.2,741.5 1737.2,741.5 1737.7,735 1738.2,730.5 1738.7,724 1739.2,715 1739.7,705.5 1740.2,700.5 1740.7,685.5 1741.2,685.5 1741.7,677 1742.2,662.5 1742.7,654.5 1743.2,646 1743.7,624.5 1749.7,624.5 1750.2,650.5 1750.7,678.5 1751.2,694.5 1751.7,696 1752.2,718 1752.7,722 1753.2,725 1753.7,734.5 1754.2,734.5 1754.7,742.5 1755.2,742.5 1755.7,752 1756.2,752.5 1756.7,747.5 1762.2,747.5 1762.7,747 1763.7,747 1764.2,733.5 1769.7,733.5 1770.2,741.5 1771.2,741.5 1771.7,740.5 1772.2,738 1772.7,734.5 1773.2,723.5 1774.7,723.5 1775.2,711.5 1776.7,711.5 1777.2,702.5 1778.7,702.5 1779.2,692 1780.2,692 1780.7,685 1781.7,685 1782.2,654.5 1787.7,654.5 1788.2,663.5 1790.7,663.5 1791.2,667 1791.7,667 1792.2,675.5 1792.7,672 1797.7,672 1798.2,673.5 1799.7,673.5 1800.2,687.5 1801.7,687.5 1802.2,687 1803.7,687 1804.2,673 1804.7,660 1805.2,638.5 1805.7,615 1806.2,583.5 1806.7,561 1812.2,561 1812.7,574 1813.7,574 1814.2,586 1815.2,586 1815.7,595 1816.2,602 1816.7,621 1817.2,629 1817.7,650 1818.2,667.5 1818.7,688 1819.2,702.5 1819.7,705 1820.2,705 1820.7,723.5 1821.2,724.5 1823.2,724.5 1823.7,729.5 1828.7,729.5 1829.2,746 1833.7,746 1834.2,747.5 1837.2,747.5 1837.7,754.5 1838.2,751 1839.2,751 1839.7,746 1844.7,746 1845.2,748.5 1845.7,748.5 1846.2,744.5 1851.2,744.5 1851.7,748 1855.7,748 1856.2,743.5 1861.7,743.5 1862.2,746.5 1864.7,746.5 1865.2,743 1870.2,743 1870.7,742.5 1876.2,742.5 1876.7,755.5 1879.7,755.5 1880.2,755 1882.7,755 1883.2,754.5 1887.2,754.5 1887.7,751.5 1893.7,751.5 1894.2,749.5 1899.2,749.5 1899.7,764 1900.7,764 1901.2,758.5 1902.7,758.5 1903.2,740.5 1908.7,740.5 1909.2,747 1913.7,747 1914.2,763.5 1914.7,763.5 1915.2,759.5 1920.2,759.5 1920.7,766.5 1922.7,766.5 1923.2,761.5 1928.7,761.5 1929.2,766.5 1932.7,766.5 1933.2,773 1937.2,773 1937.7,787 1938.2,787 1938.7,783 1944.2,783 1944.7,786 1947.2,786 1947.7,786.5 1949.7,786.5 1950.2,782.5 1951.2,782.5 1951.7,781.5 1957.2,781.5 1957.7,784.5 1958.2,788.5 1963.2,788.5 1963.7,789 1964.7,789 1965.2,785.5 1966.7,785.5 1967.2,771 1967.7,767 1973.2,767 1973.7,787.5 1974.7,787.5 1975.2,789.5 1977.7,789.5 1978.2,793 1983.2,793 1983.7,798 1986.2,798 1986.7,794 1991.7,794 1992.2,804 1997.7,804 1998.2,807 1998.7,809 1999.2,805.5 2004.2,805.5 2004.7,810.5 2006.2,810.5 2006.7,806.5 2012.2,806.5 2012.7,812.5 2017.7,812.5 2018.2,813 2020.7,813 2021.2,822.5 2022.7,822.5 2023.2,818.5 2023.7,812 2028.7,812 2029.2,817.5 2030.7,817.5 2031.2,821 2031.7,822 2033.2,822 2033.7,818.5 2034.7,818.5 2035.2,815.5 2040.7,815.5 2041.2,822 2041.7,822 2042.2,813.5 2046.2,813.5 2046.7,807 2051.7,807 2052.2,818 2056.2,818 2056.7,826 2057.7,826 2058.2,823 2058.7,820.5 2060.2,820.5 2060.7,816 2066.2,816 2066.7,829 2067.2,829.5 2068.2,829.5 2068.7,825.5 2070.2,825.5 2070.7,825 2071.2,824 2071.7,824 2072.2,811 2077.7,811 2078.2,816 2080.7,816 2081.2,820 2083.7,820 2084.2,821 2084.7,815.5 2085.2,815.5 2085.7,815 2086.2,802 2089.7,802 2090.2,794 2091.7,794 2092.2,785 2092.7,785 2093.2,775 2093.7,775 2094.2,770.5 2095.2,770.5 2095.7,770 2097.7,770 2098.2,766 2103.7,766 2104.2,780.5 2104.7,783 2105.2,793 2105.7,797.5 2106.2,799 2106.7,804 2107.2,806 2107.7,819.5 2108.2,821 2116.2,821 2116.7,823.5 2118.7,823.5 2119.2,820 2121.2,820 2121.7,815 2127.2,815 2127.7,823 2128.7,823 2129.2,824 2130.7,824 2131.2,821.5 2132.2,821.5 2132.7,820.5 2133.7,820.5 2134.2,818 2138.7,818 2139.2,808 2143.2,808 2143.7,800.5 2144.2,796 2145.2,796 2145.7,786.5 2148.2,786.5 2148.7,782.5 2154.2,782.5 2154.7,785.5 2163.2,785.5 2163.7,787 2164.7,787 2165.2,785 2167.2,785 2167.7,782.5 2168.2,782.5 2168.7,782 2169.2,781 2171.7,781 2172.2,773 2177.2,773 2177.7,782 2181.2,782 2181.7,782.5 2182.2,780 2183.2,778 2183.7,773.5 2184.7,773.5 2185.2,770.5 2190.7,770.5 2191.2,772 2192.2,772 2192.7,779.5 2194.2,779.5 2194.7,786.5 2195.7,786.5 2196.2,787 2196.7,801.5 2198.2,801.5 2198.7,808.5 2199.7,808.5 2200.2,812 2204.2,812 2204.7,821 2205.2,821 2205.7,822.5 2206.2,822.5 2206.7,824 2207.2,816.5 2212.7,816.5 2213.2,818.5 2213.7,818.5 2214.2,822.5 2216.2,822.5 2216.7,825 2217.2,824.5 2217.7,824.5 2218.2,823.5 2219.7,823.5 2220.2,822.5 2221.2,822.5 2221.7,820.5 2222.7,820.5 2223.2,816 2223.7,814 2228.7,814 2229.2,820.5 2232.2,820.5 2232.7,823 2234.2,823 2234.7,827.5 2236.7,827.5 2237.2,826.5 2242.2,826.5 2242.7,824 2244.7,824 2245.2,822.5 2247.7,822.5 2248.2,818.5 2251.7,818.5 2252.2,811 2252.7,811 2253.2,799.5 2255.7,799.5 2256.2,794.5 2261.2,794.5 2261.7,799.5 2263.2,799.5 2263.7,800 2264.2,800 2264.7,809 2265.2,809 2265.7,811.5 2266.2,812 2266.7,814.5 2271.2,814.5 2271.7,817 2272.2,816 2277.2,816 2277.7,816.5 2279.2,816.5 2279.7,820.5 2284.2,820.5 2284.7,830 2286.2,830 2286.7,835.5 2289.7,835.5 2290.2,839.5 2292.2,839.5 2292.7,837 2293.2,833 2293.7,833 2294.2,832.5 2299.2,832.5 2299.7,841.5 2300.2,842 2300.7,842 2301.2,842.5 2303.7,842.5 2304.2,834.5 2309.2,834.5 2309.7,839 2315.2,839 2315.7,844.5 2316.2,840.5 2319.7,840.5 2320.2,838 2321.2,838 2321.7,836 2327.2,836 2327.7,841 2328.2,844 2332.2,844 2332.7,846 2333.2,846 2333.7,839 2339.2,839 2339.7,848 2340.2,848 2340.7,844.5 2344.2,844.5 2344.7,843 2345.2,839 2350.7,839 2351.2,846 2351.7,846 2352.2,848 2352.7,849 2353.2,849 2353.7,840 2357.2,840 2357.7,839 2362.7,839 2363.2,846.5 2365.7,846.5 2366.2,843.5 2371.7,843.5 2372.2,844 2375.2,844 2375.7,837.5 2381.2,837.5 2381.7,845 2382.2,837 2387.7,837 2388.2,844 2388.7,844 2389.2,838 2389.7,838 2390.2,835.5 2395.7,835.5 2396.2,843 2400.2,843 2400.7,845.5 2403.2,845.5 2403.7,846.5 2405.7,846.5 2406.2,843 2411.2,843 2411.7,848 2412.2,848 2412.7,852.5 2413.2,852.5 2413.7,853 2414.7,853 2415.2,855.5 2415.7,855.5 2416.2,847 2421.7,847 2422.2,852 2424.2,852 2424.7,848.5 2425.2,846 2428.2,846 2428.2,869.5 2423.2,869.5 2422.7,871.5 2419.2,871.5 2418.7,873 2418.2,875.5 2413.2,875.5 2412.7,872.5 2412.2,872.5 2411.7,872 2410.7,872 2410.2,871 2407.7,871 2407.2,865 2406.7,867 2396.2,867 2395.7,864 2391.2,864 2390.7,861 2389.7,861 2389.2,860.5 2388.7,859.5 2388.2,860 2387.7,860 2387.2,864 2384.2,864 2383.7,869.5 2378.2,869.5 2377.7,868 2376.7,868 2376.2,864 2371.7,864 2371.2,871 2368.7,871 2368.2,872.5 2363.2,872.5 2362.7,869 2362.2,866.5 2360.2,866.5 2359.7,865 2358.2,865 2357.7,864.5 2356.2,864.5 2355.7,865 2353.2,865 2352.7,866.5 2347.2,866.5 2346.7,862 2342.7,862 2342.2,865.5 2336.7,865.5 2336.2,865 2335.7,867 2330.7,867 2330.2,868 2329.7,871.5 2324.2,871.5 2323.7,867.5 2318.2,867.5 2317.7,864.5 2316.2,864.5 2315.7,865 2310.2,865 2309.7,862.5 2309.2,862.5 2308.7,865.5 2303.2,865.5 2302.7,862.5 2300.7,862.5 2300.2,873 2295.2,873 2294.7,863.5 2290.2,863.5 2289.7,856 2289.2,856 2288.7,853 2288.2,853 2287.7,865.5 2282.2,865.5 2281.7,849.5 2281.2,851 2276.2,851 2275.7,849 2271.7,849 2271.2,841 2269.7,841 2269.2,846 2263.7,846 2263.2,832.5 2261.2,832.5 2260.7,824 2260.2,828 2257.7,828 2257.2,830.5 2256.7,842.5 2255.7,842.5 2255.2,844 2251.7,844 2251.2,849.5 2247.2,849.5 2246.7,851.5 2246.2,865 2241.2,865 2240.7,855 2239.7,855 2239.2,855.5 2229.7,855.5 2229.2,851.5 2228.2,851.5 2227.7,852 2224.7,852 2224.2,855.5 2221.7,855.5 2221.2,856.5 2215.7,856.5 2215.2,855.5 2213.7,855.5 2213.2,847 2211.2,847 2210.7,845 2209.2,845 2208.7,841 2205.7,841 2205.2,839.5 2203.7,839.5 2203.2,839 2199.2,839 2198.7,832 2196.7,832 2196.2,828 2195.7,827 2195.2,826.5 2193.7,826.5 2193.2,814.5 2191.7,814.5 2191.2,809 2190.7,801.5 2189.7,801.5 2189.2,795 2188.2,795 2187.7,805 2186.7,805 2185.7,812 2184.2,812 2183.7,813 2183.2,816 2178.2,816 2177.7,811.5 2177.2,811.5 2176.7,808.5 2176.2,808.5 2175.7,814.5 2171.7,814.5 2171.2,815 2168.7,815 2168.2,815.5 2167.7,815.5 2167.2,822 2164.7,822 2164.2,826 2161.7,826 2160.7,833 2155.2,833 2154.7,822 2154.2,822 2153.7,823.5 2148.7,823.5 2148.2,822.5 2147.7,828 2146.7,828 2146.2,829.5 2145.7,829.5 2145.2,836.5 2141.7,836.5 2141.2,841 2140.7,841 2140.2,841.5 2139.7,841.5 2139.2,849 2135.7,849 2135.2,855 2129.7,855 2129.2,850.5 2128.7,850.5 2128.2,848.5 2126.7,848.5 2125.7,849.5 2115.2,849.5 2114.7,846.5 2113.2,846.5 2112.7,839 2112.2,840.5 2107.2,840.5 2106.7,837.5 2106.2,837.5 2105.7,834 2105.2,832 2104.7,832 2104.2,829.5 2103.7,828 2103.2,828 2102.7,825 2102.2,821 2101.7,810 2101.2,805 2100.7,803 2100.2,803 2099.7,794 2099.2,789 2098.2,789 2097.7,802.5 2097.2,803 2096.7,807.5 2096.2,819.5 2094.2,819.5 2093.7,825.5 2093.2,835 2092.7,850 2087.2,850 2086.7,839 2084.7,839 2084.2,849 2081.7,849 2081.2,852.5 2078.7,852.5 2078.2,854 2077.2,854 2076.7,858 2071.7,858 2071.2,854 2069.7,854 2069.2,851.5 2067.7,851.5 2067.2,853 2066.7,855.5 2061.2,855.5 2060.7,854.5 2057.2,854.5 2056.7,847.5 2054.2,847.5 2053.7,840.5 2053.2,845.5 2052.7,851 2047.2,851 2046.7,843 2044.2,843 2043.7,848.5 2043.2,852 2038.2,852 2037.7,849.5 2037.2,848.5 2036.7,848.5 2036.2,850.5 2033.7,850.5 2033.2,852 2032.7,852 2032.2,855.5 2027.2,855.5 2026.7,848 2026.2,845 2025.7,845 2025.2,840 2023.2,840 2022.7,844.5 2022.2,844.5 2021.7,847 2019.7,847 2019.2,849.5 2018.7,852.5 2013.7,852.5 2013.2,848 2012.7,837 2010.2,837 2009.7,837.5 2008.7,837.5 2008.2,848 2003.2,848 2002.7,840 2002.2,831.5 2000.2,831.5 1999.7,834.5 1999.2,835 1993.7,835 1993.2,832 1990.7,832 1990.2,828.5 1988.7,828.5 1988.2,831 1986.2,831 1985.7,833.5 1975.7,833.5 1975.2,828.5 1974.7,826 1974.2,820.5 1973.7,820.5 1973.2,815 1972.7,814 1971.7,814 1971.2,807.5 1969.7,807.5 1969.2,809.5 1967.2,809.5 1966.7,817 1966.2,818.5 1961.2,818.5 1960.7,818 1960.2,818 1959.7,819.5 1954.7,819.5 1954.2,816 1953.7,816 1953.2,819.5 1952.2,819.5 1951.7,832 1946.2,832 1945.7,828.5 1944.2,828.5 1943.7,824 1943.2,816.5 1942.7,814.5 1937.7,814.5 1937.2,814 1935.7,814 1935.2,812 1932.7,812 1932.2,802 1931.7,803.5 1931.2,803.5 1930.7,805 1930.2,818 1925.2,818 1924.7,812 1923.7,812 1923.2,811.5 1922.7,811.5 1922.2,807.5 1921.2,807.5 1920.7,802.5 1918.7,802.5 1918.2,803.5 1916.2,803.5 1915.7,804.5 1910.7,804.5 1910.2,803 1904.7,803 1904.2,792.5 1903.7,792.5 1903.2,795 1898.2,795 1897.7,793 1896.7,793 1896.2,788 1895.7,813.5 1895.2,816.5 1890.2,816.5 1889.7,807.5 1889.2,806 1888.2,806 1887.7,802.5 1884.7,802.5 1884.2,804 1880.2,804 1879.7,809 1874.2,809 1873.7,799 1873.2,799 1872.7,790 1872.2,790 1871.7,809 1866.2,809 1865.7,797.5 1864.7,797.5 1864.2,800.5 1858.7,800.5 1858.2,793 1857.7,807 1852.2,807 1851.7,799 1850.7,799 1850.2,803.5 1845.2,803.5 1844.7,794 1841.7,794 1841.2,790 1839.2,790 1838.7,802.5 1833.7,802.5 1833.2,793 1829.7,793 1829.2,784 1827.7,784 1827.2,771.5 1825.7,771.5 1825.2,769 1820.7,769 1820.2,753 1819.7,753 1819.2,745 1817.7,745 1817.2,744 1816.7,730.5 1816.2,727 1815.7,726.5 1814.7,722.5 1814.2,722.5 1813.7,703.5 1813.2,689 1812.7,681.5 1812.2,651.5 1811.7,630.5 1811.2,622 1810.7,639.5 1810.2,661 1809.7,674.5 1809.2,696 1808.7,699.5 1808.2,702.5 1807.7,711 1806.2,711 1805.7,721 1804.2,721 1803.7,724 1802.2,724 1801.7,728 1795.7,728 1795.2,736.5 1789.7,736.5 1789.2,734 1788.2,734 1787.7,712 1785.7,712 1785.2,727 1784.7,751 1780.7,751 1780.2,753 1777.2,753 1776.7,770 1774.2,770 1773.7,778 1773.2,778 1772.7,793 1767.7,793 1767.2,788 1763.7,788 1763.2,786 1760.2,786 1759.7,791.5 1754.7,791.5 1754.2,789 1753.7,784 1752.2,784 1751.7,781.5 1751.2,760.5 1750.7,760.5 1750.2,753.5 1749.7,752 1749.2,752 1748.7,746.5 1748.2,746.5 1747.7,728.5 1747.2,728.5 1746.7,719 1746.2,708.5 1745.7,701.5 1745.2,710.5 1744.7,716 1744.2,730.5 1743.7,732 1743.2,741.5 1742.7,743.5 1742.2,744 1741.7,755 1741.2,757 1740.7,757 1740.2,762 1739.7,762 1739.2,766 1738.7,775 1738.2,780.5 1736.2,780.5 1735.7,781.5 1733.7,781.5 1733.2,782 1732.7,790 1732.2,790 1731.7,792 1726.7,792 1726.2,801 1721.2,801 1720.7,800 1720.2,800 1719.7,799 1718.2,799 1717.7,798.5 1716.7,798.5 1715.7,806.5 1713.7,806.5 1713.2,807 1712.2,807 1711.7,808 1708.2,808 1707.7,814 1702.2,814 1701.7,802 1698.2,802 1697.7,791 1696.2,791 1695.7,793.5 1695.2,812 1690.2,812 1689.7,795 1689.2,794 1688.7,793.5 1686.7,793.5 1686.2,805 1681.2,805 1680.7,794.5 1678.7,794.5 1678.2,794 1676.7,794 1676.2,797.5 1675.7,800.5 1675.2,813.5 1670.2,813.5 1669.7,811.5 1664.7,811.5 1664.2,805 1663.7,812 1658.2,812 1657.7,802.5 1654.2,802.5 1653.7,802 1651.2,802 1650.7,817 1645.2,817 1644.7,808.5 1643.2,808.5 1642.7,806.5 1642.2,804 1639.7,804 1639.2,811.5 1633.7,811.5 1633.2,802 1632.7,799.5 1632.2,796.5 1631.7,805 1628.2,805 1627.7,808.5 1622.2,808.5 1621.7,808 1619.7,808 1619.2,802.5 1618.7,795 1614.7,795 1614.2,790 1613.7,790 1613.2,789.5 1612.7,789.5 1612.2,788.5 1611.7,788.5 1611.2,786 1608.7,786 1608.2,792.5 1603.2,792.5 1602.7,784 1598.2,784 1597.7,783.5 1596.2,783.5 1595.7,780.5 1595.2,779 1594.7,782.5 1592.7,782.5 1592.2,795.5 1591.7,801 1586.7,801 1586.2,794 1585.7,805.5 1584.2,805.5 1583.7,808.5 1574.7,808.5 1574.2,814 1569.2,814 1568.7,812 1568.2,812 1567.7,809.5 1566.7,809.5 1566.2,807.5 1565.7,807.5 1565.2,807 1564.2,807 1563.7,821.5 1558.2,821.5 1557.7,816.5 1556.7,816.5 1556.2,820.5 1555.7,820.5 1555.2,822.5 1554.7,830 1553.7,830 1553.2,832 1552.7,832.5 1549.7,832.5 1549.2,834.5 1546.2,834.5 1545.7,837.5 1541.7,837.5 1541.2,839.5 1539.2,839.5 1538.7,842.5 1538.2,846 1533.2,846 1532.7,839 1532.2,844.5 1529.7,844.5 1529.2,848.5 1524.2,848.5 1523.7,846.5 1523.2,846.5 1522.7,854 1517.7,854 1517.2,846.5 1515.7,846.5 1515.2,847.5 1512.2,847.5 1511.7,848.5 1506.7,848.5 1506.2,842.5 1505.7,842 1505.2,842 1504.7,841.5 1501.7,841.5 1501.2,842 1500.2,842 1499.7,843.5 1499.2,855.5 1498.7,869 1493.7,869 1493.2,862 1492.7,850.5 1490.7,850.5 1490.2,849.5 1489.7,851.5 1489.2,855 1488.7,855 1488.2,858.5 1487.7,864.5 1482.7,864.5 1482.2,864 1478.7,864 1478.2,854 1477.7,848.5 1477.2,845 1476.7,845 1476.2,839 1475.7,844 1475.2,855.5 1474.7,857 1469.7,857 1469.2,853.5 1468.7,853.5 1468.2,852 1465.7,852 1465.2,851.5 1463.7,851.5 1463.2,854 1458.2,854 1457.7,845.5 1457.2,842.5 1453.7,842.5 1453.2,840.5 1450.7,840.5 1450.2,836 1445.7,836 1445.2,834 1444.7,834 1444.2,833 1443.7,832.5 1440.7,832.5 1440.2,830 1438.7,830 1438.2,830.5 1436.2,830.5 1435.7,832 1435.2,840.5 1432.7,840.5 1432.2,847.5 1428.2,847.5 1427.7,851.5 1422.2,851.5 1421.7,844 1418.2,844 1417.7,834 1415.2,834 1414.7,843.5 1409.7,843.5 1409.2,841 1408.7,834 1407.7,834 1407.2,830.5 1404.2,830.5 1403.7,829.5 1402.7,829.5 1402.2,829 1399.2,829 1398.7,812 1398.2,811 1396.7,811 1396.2,798.5 1395.7,798.5 1395.2,789 1393.2,789 1392.7,786 1392.2,784.5 1386.7,784.5 1386.2,782 1385.7,764 1385.2,751.5 1384.7,736.5 1384.2,704 1383.7,702 1383.2,717 1382.7,719 1382.2,732 1381.7,745.5 1381.2,760 1380.7,760.5 1380.2,767 1379.7,776 1379.2,776 1378.7,778.5 1376.2,778.5 1375.7,792 1370.2,792 1369.7,771.5 1367.7,771.5 1367.2,760 1366.7,760 1366.2,757 1365.7,757 1365.2,746.5 1364.2,746.5 1363.7,742 1363.2,737 1362.7,733.5 1360.2,733.5 1359.7,714.5 1358.2,714.5 1357.7,709 1356.7,709 1356.2,725 1353.2,725 1352.7,735 1349.7,735"/></g>
<g clip-path="url(#cpc)"><polygon fill="#008000" points="83.4,1388.5 85.9,1388.5 86.4,1395.5 89.9,1395.5 90.4,1407 90.9,1410.5 93.4,1410.5 93.9,1402 98.9,1402 99.4,1414 100.9,1414 101.4,1421.5 101.9,1424 106.4,1424 106.9,1401.5 107.4,1401 107.9,1401 108.4,1394 108.9,1386 109.4,1385.5 109.9,1378.5 110.4,1378.5 110.9,1358 111.4,1358 111.9,1347.5 112.4,1339.5 112.9,1329.5 113.4,1329 113.9,1321 114.4,1321 114.9,1309 115.4,1301 115.9,1294 116.4,1294 116.9,1288 117.4,1288 117.9,1286.5 118.4,1278 118.9,1271 119.4,1258.5 119.9,1243 120.4,1239 125.9,1239 126.4,1250 126.9,1250 127.4,1264.5 127.9,1264.5 128.4,1277.5 128.9,1291 129.4,1323.5 129.9,1338 130.4,1360 130.9,1374.5 131.4,1398 131.9,1405.5 132.4,1407.5 132.9,1420 133.4,1422 133.9,1434 134.4,1434 134.9,1440.5 135.4,1440.5 135.9,1453 136.4,1457.5 136.9,1461.5 137.4,1467 137.9,1467 138.4,1473 138.9,1473 139.4,1480 142.9,1480 143.4,1492.5 143.9,1492.5 144.4,1496 144.9,1496 145.4,1494 150.9,1494 151.4,1507 161.9,1507 162.4,1513 166.9,1513 167.4,1516.5 168.9,1516.5 169.4,1516 170.4,1516 170.9,1507.5 175.9,1507.5 176.4,1512.5 176.9,1519.5 178.4,1519.5 179.4,1515.5 184.4,1515.5 184.9,1502.5 189.9,1502.5 190.4,1504.5 190.9,1516 192.4,1516 192.9,1519 193.4,1519 193.9,1514.5 194.4,1514 199.9,1514 200.4,1509 200.9,1509 201.4,1503.5 202.9,1503.5 203.4,1497.5 206.4,1497.5 206.9,1489.5 207.9,1489.5 208.4,1482.5 208.9,1479 209.4,1478.5 209.9,1473 210.4,1473 210.9,1468 213.9,1468 214.4,1462.5 219.4,1462.5 220.4,1479.5 221.9,1479.5 222.4,1484 224.9,1484 225.4,1498 228.4,1498 228.9,1507.5 229.4,1508 232.4,1508 232.9,1509 234.4,1509 234.9,1516 235.4,1516 235.9,1517.5 239.4,1517.5 239.9,1519 244.4,1519 244.9,1523.5 245.9,1523.5 246.4,1527 250.4,1527 250.9,1531.5 251.9,1531.5 252.4,1530.5 253.4,1530.5 253.9,1527.5 255.9,1527.5 256.4,1521.5 261.4,1521.5 261.9,1527.5 262.4,1524 267.9,1524 268.4,1528 268.9,1528 269.4,1525 274.4,1525 274.9,1528 275.4,1528 275.9,1517 285.9,1517 286.4,1515.5 287.4,1515.5 287.9,1515 288.4,1515 288.9,1514 291.9,1514 292.4,1510.5 292.9,1510.5 293.4,1506.5 294.4,1506.5 294.9,1504.5 295.4,1499 295.9,1496 296.4,1487.5 297.9,1487.5 298.4,1481.5 299.9,1481.5 300.4,1476.5 300.9,1464.5 303.9,1464.5 304.4,1462 304.9,1452 309.9,1452 310.4,1469.5 312.4,1469.5 312.9,1479 313.9,1479 314.4,1485.5 315.4,1485.5 315.9,1488 319.4,1488 319.9,1492.5 320.4,1492.5 320.9,1491 325.9,1491 326.4,1497.5 328.9,1497.5 329.4,1499.5 330.9,1499.5 331.4,1502 331.9,1502 332.4,1509 332.9,1509 333.4,1505.5 338.9,1505.5 339.4,1511 339.9,1509.5 345.4,1509.5 345.9,1513 348.9,1513 349.4,1518.5 351.9,1518.5 352.4,1512 357.4,1512 357.9,1523 358.9,1523 359.4,1511.5 364.4,1511.5 364.9,1514 365.9,1514 366.4,1501 371.9,1501 372.4,1516.5 372.9,1513 376.4,1513 376.9,1504 379.4,1504 379.9,1500.5 384.9,1500.5 385.4,1508 386.9,1508 387.4,1509.5 387.9,1509 389.4,1509 389.9,1499.5 399.9,1499.5 400.4,1483.5 405.4,1483.5 405.9,1494 407.4,1494 407.9,1496.5 409.4,1496.5 409.9,1497.5 411.9,1497.5 412.4,1504.5 415.9,1504.5 416.9,1510.5 419.4,1510.5 419.9,1513.5 420.4,1510.5 420.9,1510.5 421.4,1508.5 426.9,1508.5 427.4,1513.5 427.9,1513.5 428.4,1512.5 433.4,1512.5 433.9,1517.5 435.4,1517.5 435.9,1513 441.4,1513 441.9,1517 444.4,1517 444.9,1514 445.4,1514 445.9,1508 451.4,1508 451.9,1512.5 455.9,1512.5 456.4,1513.5 459.9,1513.5 460.4,1505 465.9,1505 466.4,1512 467.9,1512 468.4,1511 469.9,1511 470.4,1506.5 472.9,1506.5 473.4,1505 478.9,1505 479.4,1506 482.4,1506 482.9,1510 487.4,1510 487.9,1511 488.9,1511 489.4,1507.5 493.9,1507.5 494.4,1505.5 495.9,1505.5 496.4,1504.5 496.9,1502 497.9,1502 498.4,1490 500.4,1490 500.9,1478.5 502.4,1478.5 502.9,1466.5 504.4,1466.5 504.9,1450.5 508.9,1450.5 509.4,1445 510.9,1445 511.4,1426.5 516.4,1426.5 516.9,1427.5 517.4,1428 520.9,1428 521.4,1431 524.4,1431 524.9,1426.5 532.9,1426.5 533.4,1420 538.9,1420 539.4,1426.5 540.9,1426.5 541.4,1423.5 546.4,1423.5 546.9,1424.5 547.4,1438 551.9,1438 552.4,1430 557.9,1430 558.4,1441 559.9,1441 560.4,1451 561.4,1451 561.9,1449 566.4,1449 566.9,1446 572.4,1446 572.9,1457 574.9,1457 575.4,1458 576.9,1458 577.4,1466.5 578.9,1466.5 579.4,1467.5 579.9,1468 580.9,1468 581.4,1475 582.4,1475 582.9,1474 584.9,1474 585.4,1473 588.4,1473 588.9,1471 594.4,1471 594.9,1476 595.4,1476 595.9,1473.5 600.9,1473.5 601.4,1478 605.9,1478 606.4,1478.5 610.4,1478.5 610.9,1480.5 614.4,1480.5 614.9,1487 615.4,1487 615.9,1497 616.4,1497 616.9,1490.5 618.4,1490.5 618.9,1484 627.4,1484 627.9,1483.5 628.4,1475.5 628.9,1474 633.9,1474 634.4,1475 634.9,1485 635.4,1491 643.4,1491 643.9,1488 648.4,1488 648.9,1481.5 652.9,1481.5 653.4,1474 658.4,1474 658.9,1485 660.9,1485 661.4,1484 663.9,1484 664.4,1467.5 669.4,1467.5 669.9,1468.5 670.4,1481.5 672.4,1481.5 672.9,1489.5 673.4,1480 675.4,1480 675.9,1476.5 680.9,1476.5 681.4,1480 682.4,1480 682.9,1486.5 683.9,1486.5 684.4,1484 684.9,1477 689.9,1477 690.4,1485 692.9,1485 693.4,1493.5 695.9,1493.5 696.4,1496 697.9,1496 698.4,1493 703.4,1493 703.9,1497 708.4,1497 708.9,1503 710.4,1503 710.9,1498.5 711.4,1490 716.9,1490 717.4,1501 718.4,1501 718.9,1506.5 719.4,1501 719.9,1498.5 724.9,1498.5 725.4,1502.5 726.4,1502.5 726.9,1504 729.4,1504 729.9,1508 733.4,1508 733.9,1510 737.4,1510 737.9,1511 739.4,1511 739.9,1516 740.4,1516 740.9,1510.5 745.9,1510.5 746.4,1512 746.9,1505.5 748.4,1505.5 748.9,1498 752.4,1498 752.9,1495.5 757.9,1495.5 758.4,1505.5 761.9,1505.5 762.4,1507 766.4,1507 766.9,1510 769.9,1510 770.4,1499 775.4,1499 775.9,1500 776.4,1513.5 776.9,1513.5 777.4,1517 780.4,1517 780.9,1512.5 782.9,1512.5 783.4,1510.5 788.4,1510.5 788.9,1511 789.4,1511 789.9,1513.5 791.9,1513.5 792.4,1514 793.9,1514 794.4,1512 795.4,1512 795.9,1511 801.4,1511 801.9,1515 803.4,1515 803.9,1511.5 805.4,1511.5 805.9,1508.5 806.4,1508 806.9,1508 807.4,1497.5 812.9,1497.5 813.4,1503.5 814.4,1503.5 814.9,1507.5 817.9,1507.5 818.4,1508 818.9,1508 819.4,1501 824.9,1501 825.4,1511.5 827.4,1511.5 827.9,1518 829.9,1518 830.4,1513 832.4,1513 832.9,1510 838.4,1510 838.9,1513.5 841.4,1513.5 841.9,1517.5 842.4,1517.5 842.9,1517 846.4,1517 846.9,1516 847.9,1516 848.4,1514 848.9,1506 853.9,1506 854.4,1513 858.4,1513 858.9,1513.5 860.4,1513.5 860.9,1514 861.4,1514 861.9,1511.5 867.4,1511.5 867.9,1513 869.4,1513 869.9,1497 874.4,1497 874.9,1493.5 879.9,1493.5 880.4,1496.5 880.9,1501.5 881.9,1501.5 882.9,1498.5 883.4,1498.5 883.9,1494.5 884.4,1494.5 884.9,1479.5 885.4,1479.5 885.9,1474.5 886.4,1474.5 886.9,1472 887.4,1472 887.9,1466 888.4,1465.5 888.9,1465.5 889.4,1446 894.9,1446 895.4,1452 896.9,1452 897.4,1458 897.9,1461 900.4,1461 900.9,1466.5 901.4,1471 901.9,1474 902.4,1474 902.9,1484 903.4,1481 908.4,1481 908.9,1484.5 909.4,1484.5 909.9,1489.5 910.9,1489.5 911.4,1492 911.9,1492 912.4,1485.5 917.4,1485.5 917.9,1494.5 919.4,1494.5 919.9,1484 925.4,1484 925.9,1493.5 926.4,1493.5 926.9,1498.5 928.4,1498.5 928.9,1506.5 933.4,1506.5 933.9,1493 934.9,1493 935.4,1486 940.4,1486 940.9,1498.5 941.9,1498.5 942.4,1501.5 944.4,1501.5 944.9,1503.5 945.4,1494 950.4,1494 950.9,1498.5 952.4,1498.5 952.9,1499.5 956.9,1499.5 957.4,1490 962.9,1490 963.4,1500.5 963.9,1503 964.4,1496.5 969.9,1496.5 970.4,1503 975.9,1503 976.4,1514 977.9,1514 978.4,1511 983.4,1511 983.9,1516.5 987.4,1516.5 987.9,1519.5 989.9,1519.5 990.4,1522.5 990.9,1522.5 991.4,1517.5 996.4,1517.5 996.9,1526 998.9,1526 999.4,1530 999.9,1531 1000.4,1531.5 1000.9,1531.5 1001.4,1532 1001.9,1534 1002.4,1529 1002.9,1529 1003.4,1528.5 1007.4,1528.5 1007.9,1525 1012.9,1525 1013.4,1525.5 1014.4,1525.5 1014.9,1529 1018.4,1529 1018.9,1530.5 1020.4,1530.5 1020.9,1533.5 1021.4,1531.5 1025.9,1531.5 1026.4,1528 1029.4,1528 1029.9,1527 1031.9,1527 1032.4,1526.5 1036.9,1526.5 1037.4,1523.5 1040.4,1523.5 1040.9,1521 1045.9,1521 1046.4,1525.5 1046.9,1531 1047.9,1531 1048.4,1528.5 1051.4,1528.5 1051.9,1523.5 1057.4,1523.5 1057.9,1533.5 1059.4,1533.5 1059.9,1520.5 1065.4,1520.5 1065.9,1525.5 1067.4,1525.5 1067.9,1531.5 1069.9,1531.5 1070.4,1531 1071.9,1531 1072.4,1530 1077.9,1530 1078.4,1530.5 1082.4,1530.5 1082.9,1528.5 1087.9,1528.5 1088.4,1531 1092.4,1531 1092.9,1533 1093.4,1529.5 1098.9,1529.5 1099.4,1534.5 1105.4,1534.5 1105.9,1533 1111.4,1533 1111.9,1537 1113.9,1537 1114.4,1530.5 1119.9,1530.5 1120.4,1538.5 1126.4,1538.5 1126.9,1540 1128.4,1540 1128.9,1534.5 1134.4,1534.5 1134.9,1536 1136.4,1536 1136.9,1542 1137.4,1538.5 1137.9,1533.5 1140.9,1533.5 1141.4,1531.5 1146.9,1531.5 1147.4,1540 1149.9,1540 1150.4,1543.5 1151.9,1543.5 1152.4,1542 1153.4,1542 1153.9,1535.5 1158.9,1535.5 1159.4,1537.5 1160.9,1537.5 1161.4,1539 1161.9,1539 1161.9,1556.5 1160.4,1556.5 1159.9,1561.5 1154.4,1561.5 1153.9,1558 1153.4,1558 1152.9,1555 1152.4,1555 1151.9,1555.5 1151.4,1557.5 1145.9,1557.5 1145.4,1556.5 1136.9,1556.5 1136.4,1558.5 1133.9,1558.5 1133.4,1561.5 1127.9,1561.5 1127.4,1556.5 1126.4,1556.5 1125.9,1553.5 1124.9,1553.5 1124.4,1558.5 1122.4,1558.5 1121.9,1561.5 1116.9,1561.5 1116.4,1559.5 1115.9,1559.5 1115.4,1550.5 1114.9,1550.5 1114.4,1548 1113.9,1554.5 1113.4,1557.5 1108.4,1557.5 1107.9,1556.5 1099.9,1556.5 1099.4,1550.5 1098.4,1550.5 1097.9,1553 1097.4,1553 1096.9,1560 1091.4,1560 1090.9,1553 1084.9,1553 1084.4,1556.5 1080.4,1556.5 1079.9,1562.5 1074.4,1562.5 1073.9,1558 1068.4,1558 1067.9,1557.5 1066.4,1557.5 1065.9,1553 1063.4,1553 1062.9,1551 1060.9,1551 1060.4,1552 1059.4,1552 1058.9,1556 1057.4,1556 1056.9,1559.5 1051.9,1559.5 1051.4,1556.5 1049.9,1556.5 1049.4,1553.5 1047.4,1553.5 1046.9,1552 1045.9,1552 1045.4,1554.5 1040.4,1554.5 1039.9,1548.5 1037.9,1548.5 1037.4,1545 1036.4,1545 1035.9,1552 1034.4,1552 1033.9,1554 1028.4,1554 1027.9,1553.5 1023.9,1553.5 1023.4,1548 1022.4,1548 1021.9,1553 1016.9,1553 1016.4,1550.5 1014.9,1550.5 1014.4,1549 1012.9,1549 1012.4,1554 1007.4,1554 1006.9,1553 1005.4,1553 1004.9,1556 1003.4,1556 1002.9,1556.5 997.4,1556.5 996.9,1554 994.9,1554 994.4,1548 993.4,1548 992.9,1545 992.4,1542.5 990.9,1542.5 990.4,1541 988.4,1541 987.9,1545 982.9,1545 982.4,1542 980.9,1542 980.4,1544.5 975.4,1544.5 974.9,1539.5 971.9,1539.5 971.4,1541 966.4,1541 965.9,1536 965.4,1531.5 964.9,1535.5 959.4,1535.5 958.9,1538.5 953.9,1538.5 953.4,1529 952.9,1535.5 948.9,1535.5 948.4,1536 946.9,1536 946.4,1537.5 940.9,1537.5 940.4,1536.5 938.9,1536.5 938.4,1532 932.9,1532 932.4,1527 931.9,1525.5 931.4,1531 927.9,1531 927.4,1537.5 922.4,1537.5 921.9,1531.5 920.4,1531.5 919.9,1521 917.4,1521 916.9,1528 915.4,1528 914.9,1533 909.4,1533 908.9,1520.5 907.9,1520.5 907.4,1515 906.9,1515 906.4,1517 900.9,1517 900.4,1513.5 898.4,1513.5 897.9,1502.5 897.4,1499 896.9,1499 896.4,1496 895.9,1492.5 893.4,1492.5 892.9,1491 892.4,1491 891.9,1499.5 890.4,1499.5 889.9,1503 889.4,1514 887.4,1514 886.9,1517 886.4,1525 884.9,1525 884.4,1527 881.9,1527 881.4,1528.5 878.4,1528.5 877.9,1535 873.9,1535 873.4,1540 872.9,1540 872.4,1541.5 867.4,1541.5 866.9,1537 865.4,1537 864.9,1549.5 859.9,1549.5 859.4,1547 858.4,1547 857.9,1539.5 852.9,1539.5 852.4,1539 851.9,1534 850.4,1534 849.9,1532.5 849.4,1539.5 844.4,1539.5 843.9,1545.5 838.9,1545.5 838.4,1540.5 837.9,1538 836.9,1538 836.4,1537.5 832.4,1537.5 831.9,1544.5 830.4,1544.5 829.9,1548 824.4,1548 823.9,1547.5 823.4,1547.5 822.9,1532.5 822.4,1529.5 821.9,1535 821.4,1535.5 817.9,1535.5 817.4,1538 816.9,1539.5 810.9,1539.5 810.4,1533.5 807.4,1533.5 806.9,1537.5 802.9,1537.5 802.4,1541.5 797.4,1541.5 796.9,1541 796.4,1539.5 792.9,1539.5 792.4,1539 786.9,1539 786.4,1532.5 785.9,1532.5 785.4,1540 780.4,1540 779.9,1538 779.4,1535 778.4,1535 777.9,1537 776.9,1537 776.4,1542.5 775.9,1542.5 775.4,1545 769.9,1545 769.4,1544 765.9,1544 765.4,1541 764.9,1540.5 761.9,1540.5 761.4,1536.5 754.9,1536.5 754.4,1533.5 753.4,1533.5 752.9,1533 750.9,1533 750.4,1535 749.9,1536.5 748.4,1536.5 747.9,1538.5 742.9,1538.5 742.4,1536 741.9,1536 741.4,1534 738.9,1534 738.4,1538 737.9,1539 729.9,1539 729.4,1538.5 724.4,1538.5 723.9,1531.5 723.4,1531.5 722.9,1530.5 720.4,1530.5 719.9,1531 714.9,1531 714.4,1527 713.9,1530.5 713.4,1530.5 712.9,1535.5 712.4,1536 706.9,1536 706.4,1533.5 705.9,1532 704.9,1532 704.4,1531 703.9,1523.5 702.9,1523.5 702.4,1531 696.9,1531 696.4,1528.5 691.4,1528.5 690.9,1526 690.4,1525 686.4,1525 685.9,1518 682.9,1518 682.4,1517.5 681.9,1512 677.4,1512 676.9,1509.5 676.4,1509.5 675.9,1511 675.4,1511 674.9,1522 670.9,1522 670.4,1522.5 665.4,1522.5 664.9,1510.5 662.9,1510.5 662.4,1510 660.4,1510 659.9,1521.5 654.4,1521.5 653.9,1515 653.4,1515.5 652.9,1515.5 652.4,1518 650.4,1518 649.9,1523 648.4,1523 647.9,1530 646.4,1530 645.9,1530.5 640.4,1530.5 639.9,1523.5 639.4,1526.5 634.4,1526.5 633.9,1521 631.9,1521 631.4,1516 629.9,1516 629.4,1521 624.4,1521 623.9,1519.5 621.9,1519.5 621.4,1520.5 618.9,1520.5 618.4,1528 613.4,1528 612.9,1513.5 610.9,1513.5 610.4,1514.5 608.4,1514.5 607.9,1517.5 604.4,1517.5 603.9,1518 598.9,1518 598.4,1516 596.4,1516 595.9,1511.5 590.4,1511.5 589.9,1508 587.4,1508 586.9,1507.5 583.9,1507.5 583.4,1506 580.9,1506 580.4,1503 577.4,1503 576.9,1499 576.4,1498 574.9,1498 574.4,1494.5 572.4,1494.5 571.9,1497 566.9,1497 566.4,1496.5 562.9,1496.5 562.4,1486.5 559.9,1486.5 559.4,1486 556.4,1486 555.9,1484.5 554.9,1484.5 554.4,1489.5 548.9,1489.5 548.4,1489 547.9,1489 547.4,1478.5 546.9,1478.5 546.4,1479 544.4,1479 543.9,1480 538.4,1480 537.9,1475 537.4,1472.5 535.9,1472.5 535.4,1475 534.9,1475 534.4,1483 529.4,1483 528.9,1472.5 528.4,1472.5 527.9,1473.5 524.9,1473.5 524.4,1481.5 523.9,1487.5 522.4,1487.5 521.9,1492.5 516.9,1492.5 516.4,1487 514.9,1487 514.4,1485 510.9,1485 510.4,1483 509.9,1483 509.4,1488.5 508.4,1488.5 507.9,1501 507.4,1501 506.4,1507 505.9,1507 505.4,1520.5 504.4,1520.5 503.9,1521 501.4,1521 500.9,1522.5 500.4,1523.5 499.9,1523.5 499.4,1525 498.9,1528 498.4,1528 497.9,1534.5 496.9,1534.5 496.4,1542.5 495.9,1543.5 495.4,1545 486.9,1545 486.4,1544.5 485.9,1533.5 484.9,1533.5 484.4,1537 472.9,1537 472.4,1545 466.9,1545 466.4,1536.5 464.9,1536.5 464.4,1537.5 457.9,1537.5 457.4,1540 453.9,1540 453.4,1545 447.9,1545 447.4,1538 446.9,1534.5 446.4,1534.5 445.9,1542.5 440.4,1542.5 439.9,1540 439.4,1540 438.9,1545.5 433.9,1545.5 433.4,1542 431.4,1542 430.9,1550 425.9,1550 425.4,1542.5 423.9,1542.5 423.4,1542 419.4,1542 418.9,1541.5 416.9,1541.5 416.4,1535.5 415.4,1535.5 414.9,1532 411.9,1532 411.4,1530.5 408.9,1530.5 408.4,1529 407.9,1529 407.4,1525 406.9,1523.5 404.4,1523.5 403.9,1526 398.9,1526 398.4,1521 397.9,1520.5 397.4,1526.5 394.9,1526.5 394.4,1531.5 390.9,1531.5 390.4,1539.5 389.4,1539.5 388.9,1544.5 383.9,1544.5 383.4,1532.5 382.9,1541 377.9,1541 377.4,1540 376.4,1540 375.9,1541 374.9,1541 374.4,1548 368.9,1548 368.4,1547.5 365.4,1547.5 364.9,1538.5 362.9,1538.5 362.4,1542.5 360.4,1542.5 359.9,1546 354.4,1546 353.9,1550 348.4,1550 347.9,1543 347.4,1543 346.9,1544 341.9,1544 341.4,1543 340.9,1543 340.4,1543.5 335.4,1543.5 334.9,1534.5 333.4,1534.5 332.9,1540.5 330.9,1540.5 330.4,1544.5 324.9,1544.5 324.4,1532.5 320.4,1532.5 319.9,1524 317.9,1524 317.4,1527 312.4,1527 311.9,1517.5 308.4,1517.5 307.9,1490.5 306.4,1490.5 305.9,1489.5 305.4,1491.5 304.9,1492.5 304.4,1500.5 303.9,1500.5 303.4,1506.5 301.9,1506.5 301.4,1508 300.9,1515 300.4,1515 299.9,1521 299.4,1525.5 296.4,1525.5 295.9,1533 295.4,1539.5 291.4,1539.5 290.9,1544.5 285.4,1544.5 284.9,1542 284.4,1543.5 279.4,1543.5 278.9,1541.5 278.4,1547 277.9,1550.5 273.9,1550.5 273.4,1554.5 268.4,1554.5 267.9,1552.5 267.4,1554 266.9,1554 266.4,1554.5 257.9,1554.5 257.4,1554 255.4,1554 254.9,1550.5 254.4,1548 250.4,1548 249.9,1547.5 249.4,1547.5 248.9,1551 243.9,1551 243.4,1548 242.9,1550 237.9,1550 237.4,1548 236.4,1548 235.9,1544 231.4,1544 230.9,1535 227.4,1535 226.9,1532 226.4,1532 225.9,1529.5 220.4,1529.5 219.9,1515 218.9,1515 218.4,1506 217.9,1498.5 217.4,1497.5 216.9,1493.5 216.4,1493 215.9,1493.5 213.9,1493.5 212.9,1504.5 212.4,1504.5 211.9,1513 211.4,1523 207.4,1523 206.9,1526.5 205.4,1526.5 204.9,1530.5 204.4,1530.5 203.9,1533.5 200.9,1533.5 200.4,1539.5 194.9,1539.5 194.4,1539 192.9,1539 192.4,1540 191.9,1540 191.4,1543 190.9,1545 185.9,1545 185.4,1537 183.4,1537 182.9,1538.5 182.4,1540.5 181.9,1540.5 181.4,1541 178.4,1541 177.9,1546 168.4,1546 167.9,1539.5 167.4,1536 165.9,1536 165.4,1537 163.9,1537 163.4,1544.5 157.9,1544.5 157.4,1536 155.9,1536 155.4,1535 153.9,1535 153.4,1531.5 152.9,1527.5 148.9,1527.5 148.4,1531.5 142.9,1531.5 142.4,1520 140.4,1520 139.9,1512.5 139.4,1507 138.9,1505 138.4,1502 136.9,1502 136.4,1495.5 135.9,1495.5 135.4,1489.5 134.9,1486.5 134.4,1486.5 133.9,1484.5 132.9,1484.5 132.4,1476 131.9,1476 131.4,1463 130.9,1460 130.4,1454.5 129.9,1452 129.4,1452 128.9,1446 128.4,1446 127.9,1423.5 127.4,1421.5 126.9,1412.5 126.4,1412.5 125.9,1399.5 125.4,1376 124.9,1361.5 123.9,1324.5 123.4,1292 122.9,1290 122.4,1290.5 121.9,1298.5 121.4,1298.5 120.9,1302.5 120.4,1310 119.9,1331 119.4,1331 118.9,1336 118.4,1336 117.9,1340.5 117.4,1363 116.9,1363 116.4,1376 115.9,1382 115.4,1395 113.9,1395 113.4,1409.5 112.9,1411 112.4,1411 111.9,1426.5 111.4,1440 109.4,1440 108.9,1444 107.4,1444 106.9,1448 104.4,1448 103.9,1448.5 103.4,1448.5 102.9,1451.5 102.4,1471.5 96.9,1471.5 96.4,1455 95.9,1449 95.4,1449 94.9,1447 91.9,1447 91.4,1437 88.9,1437 88.4,1438.5 83.4,1438.5"/></g>
<g clip-path="url(#cpc)"><polygon fill="#008080" points="83.4,1616.5 86.4,1616.5 86.9,1665.5 88.9,1665.5 89.4,1682 89.9,1687 92.9,1687 93.4,1716 93.9,1731.5 94.4,1733 94.9,1734 95.9,1734 96.4,1735.5 96.9,1740 97.4,1750 101.4,1750 101.9,1772.5 104.4,1772.5 104.9,1783.5 106.9,1783.5 107.4,1767.5 107.9,1767.5 108.4,1763.5 108.9,1750.5 109.4,1731 109.9,1691 115.4,1691 115.9,1713 116.4,1717.5 116.9,1739.5 117.4,1739.5 117.9,1781 118.4,1781 118.9,1782 119.4,1791 119.9,1792.5 121.4,1792.5 121.9,1808 122.4,1813 122.9,1817 123.9,1817 124.4,1826 124.9,1826 125.4,1824.5 130.4,1824.5 130.9,1825 131.4,1825 131.9,1842.5 132.4,1843.5 132.9,1843.5 133.4,1848 136.4,1848 136.9,1849 137.4,1842.5 142.4,1842.5 142.9,1843.5 146.4,1843.5 146.9,1844.5 149.9,1844.5 150.4,1859 150.9,1862.5 151.4,1853 156.9,1853 157.4,1867 160.9,1867 161.4,1869 161.9,1869 162.4,1865 167.9,1865 168.4,1868.5 168.9,1869.5 169.9,1869.5 170.4,1834.5 175.4,1834.5 175.9,1835.5 176.4,1871 177.9,1871 178.4,1876.5 178.9,1877 179.4,1877 179.9,1881.5 181.9,1881.5 182.4,1887.5 185.4,1887.5 185.9,1885.5 190.9,1885.5 191.4,1884 193.9,1884 194.4,1882 199.4,1882 199.9,1885 200.4,1880 205.4,1880 205.9,1869 210.9,1869 211.4,1883 211.9,1887.5 213.4,1887.5 213.9,1891.5 216.4,1891.5 216.9,1889.5 219.4,1889.5 219.9,1886 225.4,1886 225.9,1889 226.4,1889 226.9,1871.5 231.9,1871.5 232.4,1872.5 232.9,1884.5 238.4,1884.5 238.9,1905.5 239.4,1907.5 239.9,1901 240.4,1900.5 240.9,1896 242.9,1896 243.4,1880 248.4,1880 248.9,1881 253.4,1881 253.9,1887.5 254.4,1890.5 255.9,1890.5 256.4,1888.5 256.9,1888 257.4,1888 257.9,1877 259.9,1877 260.4,1875 265.9,1875 266.4,1883.5 269.4,1883.5 269.9,1878.5 271.4,1878.5 271.9,1876.5 276.9,1876.5 277.4,1877 277.9,1882.5 279.4,1882.5 279.9,1886 280.4,1886.5 280.9,1884.5 281.4,1882 282.4,1882 282.9,1878.5 283.9,1878.5 284.4,1863 285.4,1848 287.4,1848 287.9,1837.5 288.4,1837.5 288.9,1826 289.4,1826 289.9,1816.5 290.4,1815 290.9,1805 291.4,1805 291.9,1801 292.9,1801 293.4,1800 298.4,1800 298.9,1806 300.9,1806 301.4,1825 301.9,1825 302.4,1825.5 303.9,1825.5 304.4,1828.5 305.9,1828.5 306.4,1827 306.9,1827 307.4,1820 307.9,1805.5 308.4,1769.5 308.9,1768.5 309.4,1768.5 309.9,1762 316.4,1762 316.9,1734.5 318.4,1734.5 318.9,1721.5 323.4,1721.5 323.9,1708 329.4,1708 329.9,1748 330.4,1769.5 330.9,1769.5 331.4,1779.5 331.9,1765 332.9,1765 333.4,1751 334.9,1751 335.4,1745.5 340.9,1745.5 341.4,1755.5 341.9,1755.5 342.4,1769.5 342.9,1776.5 343.4,1776.5 343.9,1789.5 344.4,1807 346.4,1807 346.9,1813.5 347.4,1805 347.9,1805 348.4,1798 353.9,1798 354.4,1801.5 354.9,1801.5 355.4,1807.5 357.4,1807.5 357.9,1815 359.4,1815 359.9,1819.5 361.4,1819.5 361.9,1831 363.4,1831 363.9,1829 368.9,1829 369.4,1820 374.9,1820 375.4,1825.5 376.4,1825.5 376.9,1829.5 377.4,1835.5 378.9,1835.5 379.4,1842 384.9,1842 385.4,1848.5 385.9,1848.5 386.4,1852 387.4,1852 387.9,1849.5 388.4,1849.5 388.9,1843.5 390.4,1843.5 390.9,1825 392.4,1825 393.4,1824 398.4,1824 398.9,1831 399.4,1833 399.9,1840.5 402.9,1840.5 403.4,1839.5 403.9,1839 404.4,1832.5 405.4,1832.5 405.9,1828.5 407.9,1828.5 408.4,1827.5 413.4,1827.5 413.9,1828 414.4,1830.5 417.9,1830.5 418.4,1843.5 420.9,1843.5 421.4,1840.5 421.9,1840.5 422.4,1836.5 427.4,1836.5 427.9,1834.5 430.4,1834.5 430.9,1831.5 431.4,1823 436.9,1823 437.4,1834 438.4,1834 438.9,1832 440.9,1832 441.4,1831.5 441.9,1829.5 442.4,1824.5 446.4,1824.5 446.9,1824 449.9,1824 450.4,1817.5 453.9,1817.5 454.4,1810.5 459.4,1810.5 459.9,1815.5 460.4,1815.5 460.9,1819.5 465.9,1819.5 466.4,1821 467.4,1821 467.9,1824.5 468.4,1812.5 468.9,1803 474.4,1803 474.9,1808 475.4,1801.5 476.4,1801.5 476.9,1781.5 481.9,1781.5 482.4,1782.5 482.9,1790.5 484.4,1790.5 484.9,1795 489.4,1795 489.9,1809 490.4,1809 490.9,1811 491.4,1811 491.9,1805 493.9,1805 494.4,1804 499.4,1804 499.9,1805.5 500.4,1813 500.9,1810 501.4,1810 501.9,1803.5 503.4,1803.5 503.9,1797 506.4,1797 506.9,1795.5 507.4,1795.5 507.9,1781.5 513.4,1781.5 513.9,1793.5 514.4,1801 514.9,1801 515.4,1798.5 518.9,1798.5 519.4,1792 520.9,1792 521.4,1774 526.4,1774 526.9,1807 527.4,1806 528.4,1806 528.9,1800.5 529.4,1779.5 533.9,1779.5 534.4,1762.5 539.4,1762.5 539.9,1771 544.9,1771 545.4,1791.5 548.9,1791.5 549.4,1795 551.9,1795 552.4,1810 553.4,1810 553.9,1807.5 556.4,1807.5 556.9,1804.5 557.9,1804.5 558.4,1789 563.9,1789 564.4,1795 565.4,1795 565.9,1811 566.4,1829.5 568.9,1829.5 569.4,1831 572.4,1831 572.9,1831.5 573.4,1838 573.9,1811.5 578.9,1811.5 579.4,1837 579.9,1842 581.4,1842 581.9,1844.5 587.4,1844.5 587.9,1850.5 588.4,1850.5 588.9,1850 594.4,1850 594.9,1857.5 598.9,1857.5 599.4,1863 600.4,1863 600.9,1862.5 602.9,1862.5 603.4,1862 606.4,1862 606.9,1859.5 607.9,1859.5 608.4,1844 613.4,1844 613.9,1845 614.4,1852 616.4,1852 616.9,1867.5 618.9,1867.5 619.4,1865 619.9,1857.5 624.9,1857.5 625.4,1859.5 625.9,1865.5 628.4,1865.5 628.9,1870.5 632.4,1870.5 632.9,1871 635.4,1871 635.9,1876.5 636.4,1869.5 638.4,1869.5 638.9,1868 639.4,1868 639.9,1859 644.9,1859 645.4,1860 645.9,1864 655.9,1864 656.4,1877 656.9,1875 660.9,1875 661.4,1864 666.9,1864 667.4,1876 669.9,1876 670.4,1856.5 675.9,1856.5 676.4,1868.5 676.9,1869 677.4,1882.5 677.9,1883.5 680.4,1883.5 680.9,1888.5 681.4,1888.5 681.9,1890 682.9,1890 683.4,1892 684.9,1892 685.4,1896 685.9,1887 687.4,1887 687.9,1886.5 688.9,1886.5 689.4,1885.5 694.9,1885.5 695.4,1890 696.4,1890 696.9,1875.5 702.4,1875.5 702.9,1887.5 703.4,1888 707.9,1888 708.4,1905 710.4,1905 710.9,1899 711.4,1897.5 715.4,1897.5 715.9,1894.5 720.9,1894.5 721.4,1896.5 721.9,1898 722.9,1898 723.4,1899.5 725.4,1899.5 725.9,1905.5 728.4,1905.5 728.9,1905 731.9,1905 732.4,1900.5 737.4,1900.5 737.9,1902.5 739.4,1902.5 739.9,1907 741.9,1907 742.4,1912.5 742.9,1913 745.9,1913 746.4,1914.5 746.9,1912 747.4,1903 752.4,1903 752.9,1916 753.4,1914 753.9,1914 754.4,1912.5 758.9,1912.5 759.4,1912 760.9,1912 761.4,1904.5 766.9,1904.5 767.4,1908.5 770.9,1908.5 771.4,1911.5 772.4,1911.5 772.9,1909 773.4,1907 778.4,1907 778.9,1911.5 779.4,1911.5 779.9,1907 781.9,1907 782.4,1904.5 787.4,1904.5 787.9,1901.5 793.4,1901.5 793.9,1905.5 795.4,1905.5 795.9,1909 796.9,1909 797.4,1910 798.4,1910 798.9,1900 800.4,1900 800.9,1897 806.4,1897 806.9,1905 807.4,1905 807.9,1908.5 808.4,1908.5 808.9,1904.5 810.4,1904.5 810.9,1898.5 811.4,1893.5 816.9,1893.5 817.4,1897.5 818.4,1897.5 818.9,1891 824.4,1891 824.9,1901.5 829.9,1901.5 830.4,1900.5 830.9,1900.5 831.4,1881.5 836.4,1881.5 836.9,1893 837.9,1893 838.4,1894.5 839.9,1894.5 840.4,1904.5 842.9,1904.5 843.4,1911.5 844.4,1911.5 844.9,1911 846.4,1911 846.9,1909 849.9,1909 850.4,1908.5 853.4,1908.5 853.9,1902.5 859.4,1902.5 859.9,1906.5 862.9,1906.5 863.4,1912.5 864.4,1901.5 868.9,1901.5 869.4,1900 874.4,1900 874.9,1901.5 875.9,1901.5 876.4,1904.5 876.9,1905.5 884.9,1905.5 885.4,1910 885.9,1910 886.4,1885 891.4,1885 891.9,1886 892.4,1903 892.9,1897.5 893.9,1897.5 894.4,1890.5 899.4,1890.5 899.9,1891.5 900.4,1900.5 901.9,1900.5 902.4,1899 905.4,1899 905.9,1896 911.4,1896 911.9,1902 914.9,1902 915.4,1909.5 916.4,1909.5 917.4,1904.5 922.4,1904.5 922.9,1909 923.9,1909 924.4,1903.5 926.4,1903.5 926.9,1902.5 931.9,1902.5 932.4,1912 935.4,1912 935.9,1911.5 936.4,1911.5 936.9,1894 942.4,1894 942.9,1901 946.9,1901 947.4,1905 947.9,1905 948.4,1908 948.9,1908 949.4,1909.5 950.9,1909.5 951.4,1900 951.9,1899 952.9,1899 953.4,1897 958.4,1897 958.9,1908.5 960.4,1908.5 960.9,1913 961.4,1914.5 963.4,1914.5 963.9,1910 965.4,1910 965.9,1891 971.4,1891 971.9,1913 972.4,1913 972.9,1909.5 977.9,1909.5 978.4,1902.5 983.9,1902.5 984.4,1905.5 984.9,1915.5 985.4,1912 990.4,1912 990.9,1920.5 991.4,1917 996.4,1917 996.9,1915 998.9,1915 999.4,1908.5 1004.9,1908.5 1005.4,1914.5 1006.4,1914.5 1006.9,1922 1007.4,1922 1007.9,1920 1013.4,1920 1013.9,1923 1015.9,1923 1016.4,1917.5 1019.9,1917.5 1020.4,1916 1025.4,1916 1025.9,1921 1029.4,1921 1029.9,1925.5 1033.9,1925.5 1034.4,1928 1035.4,1928 1035.9,1931 1040.4,1931 1040.9,1932 1042.4,1932 1042.9,1935 1045.4,1935 1045.9,1941.5 1046.9,1941.5 1047.4,1930.5 1052.9,1930.5 1053.4,1929.5 1058.9,1929.5 1059.4,1941.5 1059.9,1943.5 1060.9,1943.5 1061.4,1943 1065.9,1943 1066.4,1936.5 1071.9,1936.5 1072.4,1937.5 1072.9,1935.5 1077.9,1935.5 1078.4,1938 1082.9,1938 1083.4,1939 1087.4,1939 1087.9,1935.5 1088.9,1935.5 1089.4,1933.5 1090.9,1933.5 1091.4,1933 1096.4,1933 1096.9,1939.5 1097.4,1941.5 1099.4,1941.5 1099.9,1938.5 1102.9,1938.5 1103.4,1938 1108.4,1938 1108.9,1938.5 1112.9,1938.5 1113.4,1942.5 1119.9,1942.5 1120.4,1937.5 1120.9,1936.5 1125.9,1936.5 1126.4,1943.5 1128.9,1943.5 1129.4,1945 1134.4,1945 1134.9,1946 1135.4,1944.5 1140.4,1944.5 1140.9,1946.5 1141.4,1944.5 1141.9,1942 1147.4,1942 1147.9,1948 1148.4,1944.5 1153.4,1944.5 1153.9,1945 1154.4,1945 1154.9,1943 1156.4,1943 1156.9,1942 1161.9,1942 1161.9,1966 1155.9,1966 1155.4,1960.5 1154.9,1960 1153.9,1960 1153.4,1960.5 1152.9,1966 1148.9,1966 1148.4,1971 1143.4,1971 1142.9,1965.5 1142.4,1967 1140.4,1967 1139.9,1970 1134.4,1970 1133.9,1966 1131.4,1966 1130.9,1961.5 1130.4,1964.5 1125.4,1964.5 1124.9,1961 1124.4,1961 1123.9,1967.5 1122.4,1967.5 1121.9,1970 1116.4,1970 1115.9,1962 1111.9,1962 1111.4,1964.5 1110.9,1966 1110.4,1966 1109.9,1971.5 1104.9,1971.5 1104.4,1968.5 1103.9,1968.5 1103.4,1972.5 1097.9,1972.5 1097.4,1965 1096.9,1960.5 1096.4,1960.5 1095.9,1961 1092.9,1961 1092.4,1966.5 1086.9,1966.5 1086.4,1959.5 1085.9,1959.5 1085.4,1958.5 1083.9,1958.5 1083.4,1960 1078.4,1960 1077.9,1958.5 1077.4,1959 1074.9,1959 1074.4,1960.5 1073.9,1964.5 1068.9,1964.5 1068.4,1963 1066.9,1963 1066.4,1961 1063.9,1961 1063.4,1960 1061.4,1960 1060.9,1960.5 1055.9,1960.5 1055.4,1962.5 1052.4,1962.5 1051.9,1963 1046.4,1963 1045.9,1960 1043.4,1960 1042.9,1958.5 1038.9,1958.5 1038.4,1965 1032.9,1965 1032.4,1961.5 1031.4,1961.5 1030.9,1950.5 1027.9,1950.5 1027.4,1950 1026.4,1950 1025.9,1949 1023.4,1949 1022.9,1950.5 1022.4,1950.5 1021.9,1955 1021.4,1955 1020.9,1958.5 1019.9,1958.5 1019.4,1959 1013.9,1959 1013.4,1953.5 1011.9,1953.5 1011.4,1948 1009.4,1948 1008.9,1943.5 1007.4,1943.5 1006.9,1955 1001.9,1955 1001.4,1940.5 1000.9,1943.5 1000.4,1948 994.9,1948 994.4,1939.5 993.9,1939.5 993.4,1939 992.9,1940.5 992.4,1947.5 987.4,1947.5 986.9,1941.5 984.4,1941.5 983.9,1946 978.9,1946 978.4,1937.5 976.4,1937.5 975.9,1943 973.4,1943 972.9,1945 967.9,1945 967.4,1936 966.9,1936 966.4,1939.5 965.4,1939.5 964.9,1944.5 962.9,1944.5 962.4,1951 959.4,1951 958.9,1953.5 953.9,1953.5 953.4,1932.5 950.9,1932.5 950.4,1936.5 949.9,1936.5 949.4,1938 943.9,1938 943.4,1937.5 942.9,1945.5 937.4,1945.5 936.9,1929.5 936.4,1934 935.9,1934 935.4,1941.5 932.4,1941.5 931.9,1943.5 927.9,1943.5 927.4,1949.5 922.4,1949.5 921.9,1943.5 919.4,1943.5 918.9,1944 913.9,1944 913.4,1935.5 912.9,1926.5 912.4,1931.5 910.9,1931.5 910.4,1932.5 909.9,1932.5 909.4,1936 903.9,1936 903.4,1925 902.9,1925 902.4,1927 901.9,1931 896.9,1931 896.4,1930 893.9,1930 893.4,1927.5 891.9,1927.5 891.4,1923.5 890.4,1926.5 889.9,1931 884.9,1931 884.4,1929.5 880.4,1929.5 879.9,1928 879.4,1937 874.4,1937 873.9,1933 872.4,1933 871.9,1932 871.4,1932 870.9,1939.5 865.9,1939.5 865.4,1932 861.9,1932 861.4,1930 860.9,1936 859.4,1936 858.9,1941.5 857.9,1941.5 857.4,1944 851.9,1944 851.4,1935.5 850.9,1937.5 848.4,1937.5 847.9,1945.5 842.4,1945.5 841.9,1943 841.4,1943 840.9,1940.5 839.4,1940.5 838.9,1934.5 838.4,1930 837.9,1930.5 836.4,1930.5 835.9,1934 830.9,1934 830.4,1930 829.4,1930 828.9,1926 828.4,1926 827.9,1925 827.4,1929 825.4,1929 824.9,1941 824.4,1941 823.9,1941.5 818.4,1941.5 817.9,1940.5 816.4,1940.5 815.9,1926.5 815.4,1933 814.9,1934 809.4,1934 808.9,1933 805.4,1933 804.9,1935 802.4,1935 801.9,1938.5 796.9,1938.5 796.4,1937.5 794.9,1937.5 794.4,1931.5 793.4,1931.5 792.9,1933 790.9,1933 790.4,1943 784.9,1943 784.4,1940 781.4,1940 780.9,1942 779.9,1942 779.4,1942.5 773.9,1942.5 773.4,1934.5 772.9,1934.5 772.4,1943.5 767.4,1943.5 766.9,1937.5 766.4,1937.5 765.9,1940 765.4,1940.5 763.4,1940.5 762.9,1953 757.4,1953 756.9,1938 755.9,1938 755.4,1936.5 754.9,1943.5 749.9,1943.5 749.4,1948 743.9,1948 743.4,1942 742.4,1942 741.9,1932 741.4,1932 740.9,1931 735.4,1931 734.9,1931.5 733.9,1931.5 733.4,1937.5 728.4,1937.5 727.9,1932.5 727.4,1932.5 726.9,1929 725.4,1929 724.9,1930 724.4,1931.5 717.9,1931.5 717.4,1932.5 710.4,1932.5 709.9,1929.5 708.4,1929.5 707.9,1928.5 706.9,1928.5 706.4,1931.5 700.9,1931.5 700.4,1926.5 699.9,1919 698.4,1919 697.9,1918 697.4,1920 692.4,1920 691.9,1935.5 683.9,1935.5 683.4,1930 679.9,1930 679.4,1916.5 678.9,1916.5 678.4,1918 674.4,1918 673.9,1920 668.9,1920 668.4,1913 662.9,1913 662.4,1908.5 657.4,1908.5 656.9,1902.5 656.4,1916.5 650.9,1916.5 650.4,1905.5 649.4,1905.5 648.9,1897.5 647.9,1897.5 647.4,1903 643.9,1903 643.4,1910.5 637.9,1910.5 637.4,1912 634.9,1912 634.4,1917 629.4,1917 628.9,1915 627.4,1915 626.9,1906 625.9,1906 625.4,1905.5 624.9,1905.5 624.4,1910 618.9,1910 618.4,1904 614.9,1904 614.4,1901.5 612.9,1901.5 612.4,1898.5 607.4,1898.5 606.9,1893.5 606.4,1893.5 605.9,1888.5 605.4,1899.5 599.9,1899.5 599.4,1897 589.9,1897 589.4,1890.5 585.9,1890.5 585.4,1888.5 580.4,1888.5 579.9,1889.5 574.4,1889.5 573.9,1885 571.4,1885 570.9,1870 570.4,1870 569.9,1862 569.4,1857.5 568.9,1857.5 568.4,1871 566.9,1871 566.4,1877.5 561.4,1877.5 560.9,1851 557.9,1851 557.4,1849 556.9,1838.5 556.4,1845.5 550.9,1845.5 550.4,1841 549.9,1830.5 546.9,1830.5 546.4,1825 545.9,1825.5 545.4,1831.5 540.4,1831.5 539.9,1827 539.4,1827 538.9,1832.5 533.9,1832.5 533.4,1847 532.9,1848 528.4,1848 527.9,1854.5 522.9,1854.5 522.4,1835 518.9,1835 518.4,1839 512.9,1839 512.4,1835 507.9,1835 507.4,1839 506.4,1839 505.9,1839.5 504.4,1839.5 503.9,1841 503.4,1849.5 498.9,1849.5 498.4,1850 497.9,1853.5 489.4,1853.5 488.9,1845 485.9,1845 485.4,1844 481.4,1844 480.9,1842 480.4,1843.5 479.9,1843.5 479.4,1846 478.9,1846 478.4,1848 472.9,1848 472.4,1855 469.4,1855 468.9,1858 466.4,1858 465.9,1859 464.9,1859 464.4,1860.5 462.9,1860.5 462.4,1865 456.9,1865 456.4,1859 454.4,1859 453.9,1860 451.9,1860 451.4,1861.5 449.4,1861.5 448.9,1870.5 447.9,1870.5 447.4,1879.5 441.9,1879.5 441.4,1875 439.9,1875 439.4,1869 438.9,1869 438.4,1872 434.9,1872 434.4,1874.5 430.4,1874.5 429.9,1875 426.9,1875 426.4,1875.5 421.4,1875.5 420.9,1879 415.4,1879 414.9,1871 414.4,1871 413.9,1889.5 408.9,1889.5 408.4,1870 406.4,1870 405.9,1866.5 405.4,1866.5 404.9,1863.5 404.4,1863.5 403.9,1867 403.4,1884 398.4,1884 397.9,1879.5 395.9,1879.5 395.4,1868.5 394.9,1877.5 390.9,1877.5 390.4,1882 388.4,1882 387.9,1882.5 387.4,1882.5 386.9,1888 384.9,1888 384.4,1895 379.4,1895 378.9,1893 374.4,1893 373.9,1868 372.9,1868 372.4,1868.5 367.4,1868.5 366.9,1868 366.4,1870 364.4,1870 363.9,1875 358.4,1875 357.9,1871.5 355.9,1871.5 355.4,1850 351.9,1850 351.4,1860.5 345.9,1860.5 345.4,1853.5 344.9,1843 342.4,1843 341.9,1840 339.9,1840 339.4,1828 338.9,1814.5 338.4,1800.5 337.4,1800.5 336.9,1795.5 336.4,1795.5 335.9,1810 335.4,1828.5 334.9,1828.5 334.4,1845 328.9,1845 328.4,1844.5 327.9,1844.5 326.9,1818.5 326.4,1812.5 325.9,1812.5 325.4,1783 324.9,1783 324.4,1765 323.9,1772 322.4,1772 321.9,1776.5 321.4,1803 320.9,1812.5 320.4,1812.5 319.9,1820.5 319.4,1829.5 314.4,1829.5 313.9,1825.5 313.4,1806.5 312.9,1825 312.4,1871.5 311.9,1883.5 306.4,1883.5 305.9,1869.5 302.4,1869.5 301.9,1855 297.4,1855 296.9,1840 296.4,1832.5 295.4,1832.5 294.9,1828 294.4,1835 293.9,1843.5 293.4,1843.5 292.9,1849.5 292.4,1850.5 291.9,1855.5 291.4,1857 290.9,1863 290.4,1863 289.9,1864 289.4,1885.5 288.9,1891 288.4,1891 287.9,1892 287.4,1897 285.4,1897 284.9,1898.5 284.4,1900.5 281.9,1900.5 281.4,1901 275.9,1901 275.4,1897 274.9,1895 274.4,1896 273.9,1900.5 272.4,1900.5 271.9,1907.5 270.9,1907.5 270.4,1910 265.9,1910 265.4,1912.5 264.9,1912.5 264.4,1913.5 263.9,1919 258.4,1919 257.9,1914.5 257.4,1915 253.4,1915 252.9,1916.5 248.4,1916.5 247.9,1917 247.4,1918 246.9,1918 246.4,1920 245.4,1920 244.9,1927 242.9,1927 242.4,1928.5 237.4,1928.5 236.9,1922.5 232.9,1922.5 232.4,1919.5 228.4,1919.5 227.9,1914.5 224.9,1914.5 224.4,1922.5 223.9,1927 218.4,1927 217.9,1923 217.4,1923 216.9,1924 215.9,1924 215.4,1933.5 209.9,1933.5 209.4,1932.5 208.9,1932.5 208.4,1920.5 207.9,1920.5 207.4,1923 202.4,1923 201.9,1926.5 200.9,1926.5 200.4,1929.5 195.9,1929.5 195.4,1930 189.9,1930 189.4,1920 183.9,1920 183.4,1914.5 182.4,1914.5 181.9,1909.5 180.4,1909.5 179.9,1904.5 174.9,1904.5 174.4,1897 173.4,1891 172.9,1890 172.4,1890 171.9,1897.5 166.9,1897.5 166.4,1893.5 165.9,1893.5 165.4,1895 160.9,1895 160.4,1898.5 156.4,1898.5 155.9,1906.5 150.4,1906.5 149.9,1903.5 149.4,1903.5 148.9,1893.5 147.9,1893.5 147.4,1886.5 145.9,1886.5 145.4,1895.5 139.9,1895.5 139.4,1892.5 138.9,1885.5 134.4,1885.5 133.9,1893.5 128.9,1893.5 128.4,1880 127.9,1864 126.9,1864 126.4,1860 122.9,1860 122.4,1840.5 120.4,1840.5 119.9,1835.5 119.4,1833.5 118.9,1833.5 118.4,1828 117.9,1828 117.4,1819.5 116.9,1814 115.4,1814 114.9,1806 114.4,1802 113.9,1795.5 113.4,1787.5 112.9,1787.5 112.4,1793 111.9,1794.5 111.4,1804.5 109.4,1804.5 108.9,1810.5 103.9,1810.5 103.4,1808 98.4,1808 97.9,1802.5 97.4,1802.5 96.9,1793 93.4,1793 92.9,1769 92.4,1768.5 91.9,1767 91.4,1757 90.9,1746.5 89.9,1746.5 89.4,1744 88.9,1740.5 88.4,1740.5 87.9,1733.5 85.4,1733.5 84.9,1724 84.4,1714 83.4,1714"/></g>
<g clip-path="url(#cpd)"><polygon fill="#960000" points="1349.7,1322.5 1350.7,1322.5 1351.2,1317.5 1351.7,1314 1352.2,1313.5 1353.7,1313.5 1354.2,1312 1357.2,1312 1357.7,1307 1358.2,1305.5 1358.7,1292.5 1359.2,1292.5 1359.7,1277 1360.2,1276.5 1360.7,1276.5 1361.2,1257.5 1361.7,1257.5 1362.2,1256.5 1362.7,1253.5 1363.2,1253.5 1363.7,1239 1364.2,1237 1364.7,1226 1365.7,1226 1366.2,1215.5 1371.7,1215.5 1372.2,1217 1372.7,1235 1373.2,1257.5 1373.7,1257.5 1374.2,1264.5 1374.7,1263 1380.2,1263 1380.7,1263.5 1382.2,1263.5 1382.7,1282 1383.2,1303.5 1383.7,1327.5 1384.2,1340 1384.7,1351.5 1385.2,1365.5 1385.7,1374 1387.2,1374 1387.7,1374.5 1388.2,1381 1388.7,1385.5 1389.7,1385.5 1390.2,1390 1390.7,1390 1391.2,1384 1392.7,1384 1393.2,1380.5 1399.2,1380.5 1399.7,1389 1401.7,1389 1402.2,1403 1402.7,1405.5 1403.2,1405.5 1403.7,1408.5 1405.2,1408.5 1405.7,1405.5 1406.7,1405.5 1407.2,1405 1412.2,1405 1412.7,1405.5 1413.2,1411 1415.2,1411 1415.7,1421 1416.7,1421 1417.2,1420.5 1417.7,1414.5 1423.2,1414.5 1423.7,1427 1424.2,1427 1424.7,1433.5 1425.2,1433.5 1425.7,1432.5 1428.7,1432.5 1429.2,1430.5 1434.2,1430.5 1434.7,1432.5 1436.2,1432.5 1436.7,1428 1441.7,1428 1442.2,1431 1447.2,1431 1447.7,1435.5 1456.2,1435.5 1456.7,1441 1457.2,1441 1457.7,1443 1458.2,1440 1459.2,1440 1459.7,1436 1465.2,1436 1465.7,1440.5 1466.2,1433.5 1471.7,1433.5 1472.2,1439 1475.7,1439 1476.2,1447 1476.7,1447 1477.2,1446 1483.2,1446 1483.7,1449 1484.2,1449 1484.7,1451 1496.2,1451 1496.7,1455.5 1498.7,1455.5 1499.2,1452.5 1499.7,1445.5 1505.2,1445.5 1505.7,1452 1509.2,1452 1509.7,1445 1514.7,1445 1515.2,1448.5 1516.2,1449.5 1516.7,1446 1517.2,1438.5 1517.7,1438.5 1518.2,1432.5 1518.7,1432.5 1519.2,1430.5 1521.2,1430.5 1521.7,1429.5 1526.7,1429.5 1527.2,1434 1527.7,1434 1528.2,1433.5 1533.7,1433.5 1534.2,1438 1534.7,1438 1535.2,1445.5 1537.2,1445.5 1537.7,1447.5 1538.2,1442.5 1543.7,1442.5 1544.2,1443.5 1548.7,1443.5 1549.2,1449 1549.7,1449 1550.2,1446.5 1551.2,1446.5 1551.7,1440.5 1557.2,1440.5 1557.7,1444.5 1558.7,1444.5 1559.2,1448.5 1562.7,1448.5 1563.2,1452 1565.7,1452 1566.2,1441.5 1571.7,1441.5 1572.2,1445.5 1575.2,1445.5 1575.7,1446 1576.2,1446 1576.7,1442 1578.7,1442 1579.2,1438.5 1584.2,1438.5 1584.7,1442 1585.2,1433 1590.2,1433 1590.7,1437.5 1591.2,1438 1591.7,1438 1592.2,1439.5 1592.7,1439.5 1593.2,1433 1598.7,1433 1599.2,1437.5 1599.7,1435 1605.2,1435 1605.7,1435.5 1606.7,1435.5 1607.2,1436.5 1607.7,1426 1613.2,1426 1613.7,1435.5 1617.7,1435.5 1618.2,1442 1619.7,1442 1620.2,1434.5 1622.2,1434.5 1622.7,1431 1628.2,1431 1628.7,1437.5 1630.7,1437.5 1631.2,1441 1633.7,1441 1634.2,1436.5 1634.7,1433 1635.2,1424.5 1640.2,1424.5 1640.7,1426.5 1642.7,1426.5 1643.2,1434 1643.7,1435 1648.2,1435 1648.7,1440 1649.2,1439.5 1652.7,1439.5 1653.2,1436.5 1655.2,1436.5 1655.7,1436 1660.7,1436 1661.2,1442 1661.7,1442 1662.2,1439 1667.7,1439 1668.2,1438.5 1668.7,1427.5 1673.7,1427.5 1674.7,1436.5 1675.7,1436.5 1676.2,1439.5 1676.7,1439.5 1677.2,1434 1679.7,1434 1680.2,1432 1680.7,1432 1681.2,1426.5 1686.2,1426.5 1686.7,1428.5 1688.7,1428.5 1689.2,1430 1694.2,1430 1694.7,1431.5 1697.2,1431.5 1697.7,1430.5 1701.2,1430.5 1701.7,1424 1706.7,1424 1707.2,1427.5 1709.7,1427.5 1710.2,1429 1712.2,1429 1712.7,1419 1713.2,1417 1716.2,1417 1716.7,1416 1717.2,1412 1717.7,1412 1718.2,1410 1718.7,1410 1719.2,1403.5 1720.2,1403.5 1720.7,1388.5 1726.2,1388.5 1726.7,1395 1727.7,1395 1728.2,1393.5 1728.7,1393.5 1729.2,1391.5 1730.2,1389.5 1735.2,1389.5 1735.7,1390.5 1736.2,1394.5 1737.2,1394.5 1737.7,1393.5 1743.2,1393.5 1743.7,1396 1747.2,1396 1747.7,1401.5 1750.2,1401.5 1750.7,1409 1751.2,1408 1759.2,1408 1759.7,1407.5 1761.7,1407.5 1762.2,1404.5 1763.7,1404.5 1764.2,1404 1764.7,1387 1765.7,1387 1766.2,1383.5 1766.7,1383.5 1767.2,1373 1772.7,1373 1773.2,1380.5 1773.7,1383.5 1774.2,1390.5 1776.2,1390.5 1776.7,1394.5 1778.7,1394.5 1779.2,1387.5 1781.2,1387.5 1781.7,1384.5 1786.7,1384.5 1787.2,1385.5 1787.7,1369 1788.7,1369 1789.2,1367.5 1790.2,1367.5 1790.7,1362 1791.2,1362 1791.7,1361 1792.2,1356 1792.7,1349.5 1793.2,1348 1793.7,1337 1795.2,1337 1795.7,1321.5 1799.7,1321.5 1800.2,1313 1805.2,1313 1805.7,1299.5 1811.2,1299.5 1811.7,1308 1812.2,1312 1812.7,1318.5 1813.7,1318.5 1814.2,1325 1815.7,1325 1816.2,1330.5 1816.7,1331.5 1817.7,1331.5 1818.2,1334 1818.7,1342 1819.2,1342 1819.7,1342.5 1822.2,1342.5 1822.7,1347.5 1823.2,1347.5 1823.7,1358 1825.2,1358 1825.7,1367 1826.2,1368.5 1826.7,1368.5 1827.2,1371 1829.2,1371 1829.7,1373 1830.2,1381 1831.2,1381 1831.7,1388.5 1832.2,1391.5 1832.7,1391.5 1833.2,1395 1833.7,1401 1835.2,1401 1835.7,1409.5 1836.2,1409.5 1836.7,1416.5 1837.2,1416.5 1837.7,1411 1843.2,1411 1843.7,1421 1848.2,1421 1848.7,1422.5 1850.2,1422.5 1850.7,1430 1853.2,1430 1853.7,1431 1854.2,1428 1862.2,1428 1862.7,1434 1863.7,1434 1864.2,1440.5 1866.2,1440.5 1866.7,1437.5 1871.7,1437.5 1872.2,1440 1874.2,1440 1874.7,1441 1875.2,1443 1876.7,1443 1877.2,1448.5 1877.7,1442.5 1881.7,1442.5 1882.2,1436.5 1887.2,1436.5 1887.7,1446.5 1888.7,1446.5 1889.2,1447 1893.2,1447 1893.7,1450 1894.2,1448.5 1894.7,1448.5 1895.2,1443.5 1895.7,1440 1897.7,1440 1898.2,1432 1903.7,1432 1904.2,1436.5 1904.7,1434 1905.2,1434 1905.7,1433 1906.2,1430 1908.2,1430 1908.7,1429.5 1911.2,1429.5 1911.7,1428 1912.7,1428 1913.2,1419 1918.7,1419 1919.2,1425 1919.7,1425 1920.2,1424.5 1924.7,1424.5 1925.2,1420.5 1930.2,1420.5 1930.7,1429.5 1932.7,1429.5 1933.2,1432 1936.7,1432 1937.2,1432.5 1939.7,1432.5 1940.2,1435.5 1946.2,1435.5 1946.7,1437.5 1947.2,1447 1948.7,1447 1949.2,1444.5 1950.2,1444.5 1950.7,1439 1956.2,1439 1956.7,1447.5 1957.2,1449 1959.7,1449 1960.2,1449.5 1960.7,1449.5 1961.2,1445.5 1966.7,1445.5 1967.2,1448.5 1972.7,1448.5 1973.2,1449 1973.7,1451 1977.2,1451 1977.7,1450 1982.7,1450 1983.2,1453.5 1986.2,1453.5 1986.7,1455 1988.2,1455 1988.7,1456 1989.2,1451.5 1994.7,1451.5 1995.2,1453 1996.2,1453 1996.7,1449.5 2001.7,1449.5 2002.2,1452 2002.7,1452 2003.2,1442.5 2008.2,1442.5 2008.7,1450.5 2009.2,1453 2009.7,1455 2011.2,1455 2011.7,1456 2012.2,1456 2012.7,1451 2016.7,1451 2017.2,1445 2022.2,1445 2022.7,1452.5 2025.2,1452.5 2025.7,1450.5 2026.7,1450.5 2027.2,1450 2032.7,1450 2033.2,1453 2033.7,1453 2034.2,1446 2039.7,1446 2040.2,1457 2041.2,1457 2041.7,1449 2042.2,1447 2047.7,1447 2048.2,1448 2048.7,1448 2049.2,1446.5 2054.2,1446.5 2054.7,1449 2055.2,1454.5 2055.7,1444.5 2058.7,1444.5 2059.2,1437 2064.7,1437 2065.2,1439 2069.7,1439 2070.2,1438.5 2075.2,1438.5 2075.7,1439.5 2078.2,1439.5 2078.7,1431.5 2083.7,1431.5 2084.2,1436 2089.2,1436 2089.7,1443.5 2092.7,1443.5 2093.2,1441 2098.7,1441 2099.2,1443 2104.2,1443 2104.7,1437.5 2105.2,1437 2107.2,1437 2107.7,1434.5 2108.2,1434.5 2109.2,1433.5 2109.7,1430.5 2112.7,1430.5 2113.2,1430 2113.7,1424.5 2117.2,1424.5 2117.7,1423.5 2118.2,1423.5 2118.7,1419 2119.2,1419 2119.7,1417.5 2120.7,1417.5 2121.2,1414.5 2121.7,1414.5 2122.2,1413 2122.7,1406.5 2125.7,1406.5 2126.2,1403 2128.2,1403 2128.7,1399 2134.2,1399 2134.7,1404.5 2135.7,1404.5 2136.2,1408 2137.7,1408 2138.2,1410.5 2139.7,1410.5 2140.2,1405 2144.2,1405 2144.7,1396 2150.2,1396 2150.7,1409 2151.2,1415.5 2152.2,1415.5 2152.7,1416 2154.7,1416 2155.2,1421 2156.2,1421 2156.7,1423 2157.2,1423.5 2158.7,1423.5 2159.2,1424 2159.7,1434 2160.2,1434 2161.2,1429 2166.7,1429 2167.2,1437.5 2167.7,1440.5 2168.2,1439.5 2173.2,1439.5 2173.7,1442 2174.7,1442 2175.2,1447.5 2177.7,1447.5 2178.2,1446.5 2183.2,1446.5 2183.7,1444.5 2185.7,1444.5 2186.2,1441 2186.7,1438.5 2190.7,1438.5 2191.2,1430 2191.7,1430 2192.2,1429 2192.7,1429 2193.2,1418 2198.7,1418 2199.2,1422 2200.7,1422 2201.2,1423 2202.7,1423 2203.2,1415 2205.2,1415 2205.7,1410 2210.7,1410 2211.2,1416 2211.7,1412.5 2217.2,1412.5 2217.7,1413.5 2221.2,1413.5 2221.7,1419 2223.7,1419 2224.2,1418.5 2229.7,1418.5 2230.2,1426 2231.7,1426 2232.2,1437 2232.7,1437.5 2233.2,1437.5 2233.7,1440 2235.2,1440 2235.7,1441.5 2236.2,1452.5 2236.7,1452.5 2237.2,1453 2237.7,1453 2238.2,1454 2239.2,1454 2239.7,1460.5 2243.2,1460.5 2243.7,1461.5 2247.7,1461.5 2248.2,1466 2249.2,1466 2249.7,1465 2255.2,1465 2255.7,1467.5 2260.2,1467.5 2260.7,1473.5 2261.2,1471.5 2261.7,1470 2262.2,1470 2262.7,1469.5 2267.2,1469.5 2267.7,1469 2272.7,1469 2273.2,1469.5 2275.7,1469.5 2276.2,1467.5 2281.2,1467.5 2281.7,1468.5 2282.7,1468.5 2283.2,1467 2288.7,1467 2289.2,1468.5 2291.2,1468.5 2291.7,1469 2292.2,1468.5 2302.2,1468.5 2302.7,1469 2305.2,1469 2305.7,1470 2308.7,1470 2309.2,1471.5 2310.2,1471.5 2310.7,1469 2311.2,1469 2311.7,1462 2317.2,1462 2317.7,1462.5 2319.2,1462.5 2319.7,1463 2322.2,1463 2322.7,1461.5 2328.2,1461.5 2328.7,1463 2330.7,1463 2331.2,1465.5 2331.7,1465.5 2332.2,1470 2333.2,1470 2333.7,1465 2336.7,1465 2337.2,1463 2342.2,1463 2342.7,1464.5 2348.2,1464.5 2348.7,1465.5 2349.2,1466 2353.2,1466 2353.7,1462.5 2358.7,1462.5 2359.2,1468.5 2363.7,1468.5 2364.2,1461.5 2369.2,1461.5 2369.7,1470.5 2370.2,1470.5 2370.7,1467 2373.2,1467 2373.7,1462 2379.2,1462 2379.7,1462.5 2380.2,1464 2383.7,1464 2384.2,1467 2391.2,1467 2391.7,1465 2396.7,1465 2397.2,1470 2399.2,1470 2399.7,1472.5 2403.2,1472.5 2403.7,1475 2405.2,1475 2405.7,1471.5 2407.2,1471.5 2407.7,1471 2412.7,1471 2413.2,1471.5 2416.7,1471.5 2417.2,1473.5 2418.7,1473.5 2419.2,1475 2422.2,1475 2422.7,1473 2428.2,1473 2428.2,1492 2424.2,1492 2423.7,1490 2421.2,1490 2420.7,1492 2415.7,1492 2415.2,1495 2410.2,1495 2409.7,1486.5 2409.2,1487 2407.7,1487 2407.2,1494 2401.7,1494 2401.2,1491.5 2399.7,1491.5 2399.2,1486.5 2398.2,1486.5 2397.7,1490.5 2395.2,1490.5 2394.7,1492 2389.2,1492 2388.7,1486.5 2386.7,1486.5 2386.2,1485 2385.2,1485 2384.7,1484.5 2382.2,1484.5 2381.7,1486 2381.2,1491 2376.2,1491 2375.7,1481 2373.2,1481 2372.7,1485.5 2370.2,1485.5 2369.7,1488.5 2364.7,1488.5 2364.2,1487 2359.7,1487 2359.2,1485 2358.2,1485 2357.7,1484.5 2357.2,1481 2356.2,1481 2355.7,1484 2354.7,1484 2354.2,1486 2348.7,1486 2348.2,1485 2347.7,1485 2347.2,1486 2341.7,1486 2341.2,1483 2338.7,1483 2338.2,1482 2337.7,1482 2337.2,1487 2331.7,1487 2331.2,1484.5 2322.2,1484.5 2321.7,1486 2316.2,1486 2315.7,1479.5 2313.7,1479.5 2313.2,1481.5 2311.2,1481.5 2310.7,1483.5 2309.7,1483.5 2309.2,1488.5 2304.2,1488.5 2303.7,1485 2300.7,1485 2300.2,1487 2294.7,1487 2294.2,1484.5 2293.2,1484.5 2292.7,1489 2287.2,1489 2286.7,1486.5 2282.2,1486.5 2281.7,1486 2281.2,1486 2280.7,1486.5 2274.2,1486.5 2273.7,1485.5 2269.7,1485.5 2269.2,1484.5 2266.2,1484.5 2265.7,1485 2262.2,1485 2261.7,1490.5 2256.2,1490.5 2255.7,1488.5 2253.7,1488.5 2253.2,1486 2251.2,1486 2250.7,1483.5 2246.7,1483.5 2246.2,1480 2243.2,1480 2242.7,1476 2242.2,1476 2241.7,1481 2236.7,1481 2236.2,1473.5 2235.7,1471.5 2232.7,1471.5 2232.2,1461 2230.7,1461 2230.2,1458 2229.2,1458 2228.7,1455 2228.2,1455 2227.7,1454 2225.7,1454 2225.2,1450 2223.2,1450 2222.7,1447 2222.2,1441 2221.7,1438 2221.2,1440.5 2216.2,1440.5 2215.7,1438 2213.2,1438 2212.7,1441.5 2211.7,1441.5 2211.2,1442 2206.2,1442 2205.7,1439.5 2205.2,1439.5 2204.7,1436 2204.2,1437 2203.7,1437 2203.2,1440.5 2200.7,1440.5 2200.2,1441.5 2197.7,1441.5 2197.2,1450 2195.2,1450 2194.7,1453 2193.7,1453 2193.2,1457 2188.2,1457 2187.7,1460 2187.2,1461 2186.7,1461 2185.7,1463 2184.7,1463 2184.2,1468 2178.7,1468 2178.2,1465 2175.7,1465 2175.2,1468.5 2170.2,1468.5 2169.7,1467.5 2169.2,1466 2167.7,1466 2167.2,1464.5 2163.2,1464.5 2162.7,1458.5 2159.2,1458.5 2158.7,1453.5 2158.2,1453.5 2157.7,1447.5 2154.2,1447.5 2153.7,1444 2152.7,1444 2152.2,1441.5 2148.2,1441.5 2147.7,1434.5 2147.2,1431 2144.7,1431 2144.2,1435.5 2140.2,1435.5 2139.7,1442.5 2134.7,1442.5 2134.2,1439 2132.7,1439 2132.2,1425.5 2131.7,1425.5 2131.2,1424 2130.7,1429 2130.2,1429 2129.7,1429.5 2127.2,1429.5 2126.7,1436.5 2123.2,1436.5 2122.7,1445.5 2118.2,1445.5 2117.7,1448.5 2112.7,1448.5 2112.2,1449.5 2111.7,1457.5 2108.7,1457.5 2108.2,1460.5 2104.7,1460.5 2104.2,1463 2103.7,1463.5 2102.7,1463.5 2102.2,1466 2101.7,1466 2101.2,1467 2100.2,1467 2099.7,1470.5 2094.2,1470.5 2093.7,1464.5 2092.7,1466.5 2090.2,1466.5 2089.7,1474.5 2084.2,1474.5 2083.7,1472 2080.2,1472 2079.7,1466 2074.7,1466 2074.2,1461 2070.7,1461 2070.2,1463.5 2068.2,1463.5 2067.7,1465 2064.7,1465 2064.2,1466.5 2063.2,1466.5 2062.7,1469 2057.2,1469 2056.7,1465 2055.2,1465 2054.7,1463.5 2051.7,1463.5 2051.2,1464.5 2050.2,1464.5 2049.7,1473 2044.7,1473 2044.2,1472.5 2043.7,1472.5 2043.2,1476.5 2039.2,1476.5 2038.7,1478 2038.2,1479 2033.2,1479 2032.7,1470.5 2030.7,1470.5 2030.2,1469.5 2026.7,1469.5 2026.2,1472 2025.7,1475 2021.7,1475 2021.2,1478 2015.7,1478 2015.2,1473.5 2011.7,1473.5 2011.2,1470.5 2010.7,1470.5 2010.2,1468.5 2009.7,1469.5 2006.2,1469.5 2005.7,1471.5 1999.2,1471.5 1998.7,1469.5 1996.2,1469.5 1995.7,1470.5 1995.2,1476 1990.2,1476 1989.7,1474 1989.2,1474.5 1983.7,1474.5 1983.2,1477.5 1978.2,1477.5 1977.7,1474 1972.2,1474 1971.7,1473 1966.7,1473 1966.2,1471.5 1962.7,1471.5 1962.2,1470 1959.7,1470 1959.2,1468.5 1958.7,1468.5 1958.2,1467 1957.7,1467 1957.2,1470 1951.7,1470 1951.2,1465 1950.2,1465 1949.7,1463.5 1947.7,1463.5 1947.2,1469.5 1943.7,1469.5 1943.2,1470 1938.2,1470 1937.7,1464.5 1936.2,1464.5 1935.7,1455 1932.2,1455 1931.7,1453 1930.2,1453 1929.7,1451.5 1926.2,1451.5 1925.7,1449 1921.2,1449 1920.7,1447 1919.2,1447 1918.7,1442 1918.2,1458 1912.7,1458 1912.2,1455.5 1910.7,1455.5 1910.2,1452.5 1909.7,1453.5 1909.2,1456.5 1904.2,1456.5 1903.7,1455.5 1903.2,1460 1900.7,1460 1900.2,1464.5 1899.7,1464.5 1899.2,1467 1898.2,1467 1897.7,1469 1895.2,1469 1894.7,1470.5 1889.7,1470.5 1889.2,1467 1883.7,1467 1883.2,1466 1880.2,1466 1879.7,1465 1875.7,1465 1875.2,1463.5 1871.2,1463.5 1870.7,1460 1870.2,1455 1869.7,1457.5 1868.7,1457.5 1868.2,1464.5 1862.7,1464.5 1862.2,1458 1858.7,1458 1858.2,1448.5 1854.7,1448.5 1854.2,1447 1853.7,1447.5 1852.7,1447.5 1852.2,1448 1851.7,1448 1851.2,1455 1846.2,1455 1845.7,1450 1842.2,1450 1841.7,1445 1840.7,1445 1840.2,1439 1839.7,1439 1839.2,1436 1838.7,1439 1833.7,1439 1833.2,1436.5 1832.7,1436.5 1832.2,1429.5 1831.7,1429.5 1831.2,1423 1830.7,1421.5 1830.2,1418 1828.7,1418 1828.2,1414.5 1827.7,1401.5 1822.7,1401.5 1822.2,1389 1821.7,1378 1820.7,1378 1820.2,1373 1819.7,1373 1819.2,1372 1815.2,1372 1814.7,1360.5 1813.2,1360.5 1812.7,1347 1809.2,1347 1808.7,1342 1804.7,1342 1804.2,1352 1803.7,1352.5 1803.2,1374 1797.7,1374 1797.2,1371.5 1796.7,1380.5 1795.7,1380.5 1795.2,1389.5 1794.7,1391.5 1792.7,1391.5 1792.2,1396 1791.7,1396.5 1791.2,1408 1789.2,1408 1788.7,1409.5 1787.7,1409.5 1787.2,1414 1781.7,1414 1781.2,1416 1780.7,1416 1780.2,1422 1775.2,1422 1774.7,1418.5 1769.2,1418.5 1768.7,1419 1766.2,1419 1765.7,1429.5 1760.2,1429.5 1759.7,1428.5 1758.7,1428.5 1758.2,1430.5 1757.7,1442.5 1757.2,1444 1751.7,1444 1751.2,1437 1749.7,1437 1749.2,1436 1746.7,1436 1746.2,1433.5 1743.7,1433.5 1743.2,1432 1742.7,1431.5 1742.2,1431.5 1741.7,1429.5 1739.2,1429.5 1738.7,1424 1738.2,1423 1737.2,1423 1736.7,1429 1731.2,1429 1730.7,1414.5 1730.2,1418 1729.7,1424.5 1723.2,1424.5 1722.7,1423.5 1722.2,1434 1720.7,1434 1720.2,1443.5 1718.2,1443.5 1717.7,1447.5 1714.2,1447.5 1713.7,1451.5 1713.2,1455 1709.7,1455 1709.2,1459 1705.7,1459 1705.2,1459.5 1699.7,1459.5 1699.2,1458.5 1698.7,1459.5 1697.7,1459.5 1697.2,1465 1691.7,1465 1691.2,1461.5 1686.2,1461.5 1685.7,1460 1685.2,1458 1680.7,1458 1680.2,1467.5 1675.2,1467.5 1674.7,1467 1672.2,1467 1671.7,1464.5 1670.7,1464.5 1670.2,1457.5 1666.2,1457.5 1665.7,1455 1665.2,1455.5 1664.7,1465 1664.2,1465 1663.7,1470 1658.7,1470 1658.2,1466.5 1657.7,1456 1657.2,1454.5 1656.7,1456.5 1656.2,1456.5 1655.7,1460.5 1651.2,1460.5 1650.7,1467 1645.2,1467 1644.7,1459.5 1640.2,1459.5 1639.7,1455 1638.2,1455 1637.7,1464.5 1632.2,1464.5 1631.7,1463 1631.2,1458 1626.7,1458 1626.2,1458.5 1625.2,1458.5 1624.7,1466 1624.2,1466 1623.7,1467 1618.2,1467 1617.7,1458.5 1617.2,1457 1611.2,1457 1610.7,1459 1608.7,1459 1608.2,1466 1602.7,1466 1602.2,1453 1601.7,1453 1601.2,1460.5 1597.2,1460.5 1596.7,1463 1591.2,1463 1590.7,1459 1589.2,1459 1588.7,1455.5 1588.2,1458.5 1587.7,1458.5 1587.2,1468.5 1581.7,1468.5 1581.2,1467.5 1578.2,1467.5 1577.7,1466.5 1577.2,1466.5 1576.7,1473 1567.7,1473 1567.2,1480 1562.2,1480 1561.7,1474.5 1558.2,1474.5 1557.7,1470.5 1553.2,1470.5 1552.7,1474.5 1545.2,1474.5 1544.7,1471 1544.2,1471 1543.7,1465 1542.2,1465 1541.7,1466 1541.2,1466 1540.7,1474.5 1535.2,1474.5 1534.7,1462.5 1530.7,1462.5 1530.2,1460 1524.7,1460 1524.2,1459.5 1522.7,1459.5 1522.2,1454 1521.7,1454.5 1521.2,1462.5 1520.2,1462.5 1519.7,1464.5 1517.7,1464.5 1517.2,1474 1511.7,1474 1511.2,1472 1507.7,1472 1507.2,1468 1506.7,1468 1506.2,1467 1501.7,1467 1501.2,1468 1500.7,1471 1499.2,1471 1498.7,1482 1493.2,1482 1492.7,1473.5 1492.2,1476.5 1488.2,1476.5 1487.7,1478.5 1482.7,1478.5 1482.2,1473.5 1478.7,1473.5 1478.2,1471.5 1472.7,1471.5 1472.2,1468 1471.7,1467.5 1471.2,1467.5 1470.7,1468.5 1465.2,1468.5 1464.7,1467.5 1463.7,1467.5 1463.2,1466 1462.7,1460.5 1461.2,1460.5 1460.7,1460 1459.2,1460 1458.7,1464.5 1453.2,1464.5 1452.7,1461 1449.2,1461 1448.7,1457 1443.2,1457 1442.7,1456 1440.2,1456 1439.7,1454.5 1439.2,1454.5 1438.7,1455 1437.7,1455 1437.2,1457.5 1435.2,1457.5 1434.7,1458.5 1429.7,1458.5 1429.2,1459 1424.2,1459 1423.7,1450 1418.2,1450 1417.7,1446.5 1416.2,1446.5 1415.7,1444.5 1413.2,1444.5 1412.7,1437 1412.2,1433 1410.7,1433 1410.2,1442.5 1404.7,1442.5 1404.2,1436.5 1403.2,1436.5 1402.7,1431.5 1400.7,1431.5 1400.2,1435 1399.7,1436 1394.7,1436 1394.2,1412 1392.7,1412 1392.2,1405.5 1391.7,1405.5 1391.2,1400.5 1388.7,1400.5 1388.2,1400 1385.2,1400 1384.7,1398 1384.2,1394 1383.7,1390.5 1382.7,1390.5 1381.7,1382.5 1380.7,1382.5 1380.2,1381.5 1379.7,1367 1379.2,1353 1378.7,1341.5 1378.2,1328.5 1377.7,1304.5 1377.2,1291.5 1371.7,1291.5 1371.2,1284 1370.2,1284 1369.7,1282.5 1369.2,1282.5 1368.7,1265.5 1367.7,1265.5 1367.2,1266.5 1366.7,1266.5 1366.2,1287.5 1365.7,1287.5 1365.2,1292.5 1364.7,1302 1364.2,1302 1363.7,1307 1363.2,1310 1362.7,1322.5 1362.2,1322.5 1361.7,1323.5 1361.2,1323.5 1360.7,1358.5 1360.2,1359.5 1355.2,1359.5 1354.7,1338 1354.2,1348 1349.7,1348"/></g>
<g clip-path="url(#cpd)"><polygon fill="#ff0000" points="1349.7,1752.5 1353.2,1752.5 1353.7,1775.5 1354.2,1800.5 1354.7,1819 1355.2,1820.5 1355.7,1831.5 1356.2,1831.5 1356.7,1838.5 1360.7,1838.5 1361.2,1842.5 1362.7,1842.5 1363.2,1849 1363.7,1850.5 1367.2,1850.5 1367.7,1856.5 1368.7,1856.5 1369.2,1851.5 1372.2,1851.5 1372.7,1846 1373.2,1844.5 1374.7,1826.5 1375.2,1826.5 1375.7,1819 1376.2,1819 1376.7,1814.5 1377.2,1812 1377.7,1809 1383.2,1809 1383.7,1832 1384.2,1836.5 1384.7,1850 1385.2,1859.5 1385.7,1871.5 1386.2,1873 1386.7,1876 1387.2,1881.5 1387.7,1882 1388.2,1882 1388.7,1882.5 1389.2,1884 1389.7,1884 1390.2,1890 1394.2,1890 1394.7,1892 1395.7,1892 1396.2,1891 1396.7,1891 1397.2,1888.5 1402.2,1888.5 1402.7,1897.5 1404.2,1897.5 1404.7,1899.5 1405.2,1899.5 1405.7,1895.5 1410.7,1895.5 1411.2,1898 1414.2,1898 1414.7,1902 1415.2,1907.5 1423.2,1907.5 1423.7,1916 1425.2,1916 1425.7,1916.5 1426.2,1916.5 1426.7,1913 1431.7,1913 1432.2,1914.5 1432.7,1908 1433.2,1908 1433.7,1906 1434.2,1904.5 1434.7,1901 1435.7,1901 1436.2,1895.5 1436.7,1893.5 1437.2,1889.5 1442.2,1889.5 1442.7,1895 1443.2,1906.5 1443.7,1916.5 1444.2,1917 1444.7,1923 1445.2,1925 1447.7,1925 1448.2,1920.5 1456.7,1920.5 1457.2,1923 1457.7,1929 1461.2,1929 1461.7,1927 1463.7,1927 1464.2,1924 1469.2,1924 1469.7,1925.5 1470.2,1932.5 1471.2,1932.5 1471.7,1932 1476.7,1932 1477.2,1933.5 1479.2,1933.5 1479.7,1931.5 1484.7,1931.5 1485.2,1933.5 1486.2,1933.5 1486.7,1933 1487.2,1933 1487.7,1931.5 1488.2,1931.5 1488.7,1922.5 1493.7,1922.5 1494.2,1925.5 1495.2,1925.5 1495.7,1926.5 1496.2,1929 1500.2,1929 1500.7,1929.5 1501.2,1929.5 1501.7,1932 1505.2,1932 1505.7,1933 1510.7,1933 1511.2,1932.5 1511.7,1930 1515.2,1930 1515.7,1925.5 1521.2,1925.5 1521.7,1931.5 1523.2,1931.5 1523.7,1932 1527.2,1932 1527.7,1933 1532.2,1933 1533.2,1935 1534.2,1935 1534.7,1933.5 1535.2,1933 1535.7,1933 1536.2,1932 1541.2,1932 1541.7,1932.5 1543.7,1932.5 1544.2,1932 1544.7,1928.5 1547.2,1928.5 1547.7,1926 1548.2,1922 1549.7,1922 1550.2,1916 1550.7,1912 1552.2,1912 1552.7,1908 1553.2,1907.5 1553.7,1900.5 1555.7,1900.5 1556.2,1897 1557.2,1897 1557.7,1894 1558.2,1889 1558.7,1889 1559.2,1888 1559.7,1884 1560.2,1884 1560.7,1878.5 1561.2,1878 1566.2,1878 1566.7,1885.5 1567.2,1887 1572.7,1887 1573.2,1886.5 1574.2,1886.5 1574.7,1881.5 1575.2,1881.5 1575.7,1873 1577.7,1873 1578.2,1858.5 1580.2,1858.5 1580.7,1852.5 1584.2,1852.5 1584.7,1849 1585.2,1846 1586.7,1846 1587.2,1836 1592.2,1836 1592.7,1839.5 1594.2,1839.5 1594.7,1846.5 1595.2,1846.5 1595.7,1852.5 1596.2,1854 1597.7,1854 1598.2,1863 1598.7,1861.5 1599.2,1859 1599.7,1851.5 1600.2,1848.5 1600.7,1843 1601.7,1843 1602.2,1833 1607.2,1833 1607.7,1838 1608.7,1838 1609.2,1867.5 1609.7,1881.5 1610.2,1892 1610.7,1898.5 1611.7,1898.5 1612.2,1901 1612.7,1901.5 1613.2,1901.5 1613.7,1902 1614.2,1898.5 1616.2,1898.5 1616.7,1888.5 1621.7,1888.5 1622.2,1896 1628.2,1896 1628.7,1904 1629.2,1904 1629.7,1903 1635.2,1903 1635.7,1904.5 1638.7,1904.5 1639.2,1906.5 1643.7,1906.5 1644.2,1909 1645.2,1909 1645.7,1911 1646.2,1911 1646.7,1920 1649.2,1920 1649.7,1924 1652.7,1924 1653.2,1926 1654.7,1926 1655.2,1928 1655.7,1928 1656.2,1922.5 1661.2,1922.5 1661.7,1925 1665.2,1925 1665.7,1928.5 1666.2,1928.5 1666.7,1925 1667.2,1918.5 1672.2,1918.5 1672.7,1919.5 1673.7,1919.5 1674.2,1922 1676.2,1922 1676.7,1921 1682.2,1921 1682.7,1922 1683.7,1922 1684.2,1920 1688.7,1920 1689.2,1918.5 1691.7,1918.5 1692.2,1917 1693.2,1917 1693.7,1911 1699.2,1911 1699.7,1914.5 1704.2,1914.5 1704.7,1918 1705.2,1920.5 1706.2,1920.5 1706.7,1911 1711.7,1911 1712.2,1899.5 1720.2,1899.5 1720.7,1886 1723.2,1886 1723.7,1882 1728.7,1882 1729.2,1885.5 1732.2,1885.5 1732.7,1886.5 1733.2,1889 1733.7,1889 1734.2,1887.5 1734.7,1882.5 1735.2,1882.5 1735.7,1871.5 1736.2,1868.5 1736.7,1861 1737.2,1850.5 1737.7,1845 1738.2,1826.5 1738.7,1807.5 1739.2,1785 1739.7,1755.5 1745.7,1755.5 1746.2,1767.5 1746.7,1780.5 1747.2,1785 1747.7,1800.5 1748.2,1803.5 1748.7,1812 1749.2,1824.5 1749.7,1826.5 1750.2,1832.5 1750.7,1840.5 1751.2,1843 1751.7,1859.5 1752.2,1869 1752.7,1869.5 1753.2,1871.5 1753.7,1878.5 1754.2,1878.5 1754.7,1889 1755.2,1894.5 1755.7,1892.5 1757.7,1892.5 1758.2,1889 1758.7,1889 1759.2,1882.5 1760.7,1882.5 1761.2,1881.5 1766.7,1881.5 1767.2,1882.5 1768.7,1882.5 1769.2,1890 1769.7,1890 1770.2,1892.5 1772.2,1892.5 1772.7,1890 1773.2,1877.5 1773.7,1874.5 1774.2,1874.5 1774.7,1863.5 1775.2,1859.5 1775.7,1847.5 1776.2,1844 1776.7,1831.5 1777.2,1827 1777.7,1797.5 1783.7,1797.5 1784.2,1819 1784.7,1825.5 1785.2,1838 1785.7,1843 1786.2,1843 1786.7,1848.5 1787.2,1864 1787.7,1876 1788.2,1876.5 1788.7,1876.5 1789.2,1883 1792.7,1883 1793.2,1886.5 1793.7,1886 1794.2,1883.5 1794.7,1883.5 1795.2,1880.5 1795.7,1880 1796.2,1877.5 1796.7,1873 1797.2,1870.5 1797.7,1870 1798.2,1865 1798.7,1855 1799.2,1847.5 1799.7,1827 1800.2,1815.5 1800.7,1784.5 1801.2,1763 1801.7,1729.5 1802.2,1701.5 1802.7,1661.5 1803.2,1634.5 1803.7,1583.5 1804.2,1582.5 1809.2,1582.5 1809.7,1583.5 1810.2,1610 1810.7,1629.5 1811.2,1650 1811.7,1667 1812.2,1686.5 1812.7,1704.5 1813.2,1726.5 1813.7,1742 1814.2,1759.5 1814.7,1781.5 1815.2,1791 1815.7,1803.5 1816.2,1810 1816.7,1814 1817.2,1822 1817.7,1824.5 1818.2,1830 1818.7,1830 1819.2,1834 1820.2,1834 1820.7,1835.5 1821.7,1835.5 1822.2,1839.5 1822.7,1846 1823.2,1847.5 1824.2,1847.5 1824.7,1848.5 1825.2,1851 1827.7,1851 1828.2,1853 1828.7,1853 1829.2,1865.5 1832.2,1865.5 1832.7,1873 1833.7,1873 1834.2,1875.5 1834.7,1875.5 1835.2,1885 1841.7,1885 1842.2,1888 1842.7,1888 1843.2,1895.5 1843.7,1900 1846.7,1900 1847.2,1903 1847.7,1904 1848.2,1910 1850.2,1910 1850.7,1910.5 1851.2,1910.5 1851.7,1913.5 1853.7,1913.5 1854.2,1915.5 1856.2,1915.5 1856.7,1908 1861.7,1908 1862.2,1922.5 1863.7,1922.5 1864.2,1923.5 1865.2,1923.5 1865.7,1921.5 1868.7,1921.5 1869.2,1908.5 1874.7,1908.5 1875.2,1921.5 1876.2,1921.5 1876.7,1921 1882.7,1921 1883.2,1915 1888.2,1915 1888.7,1919 1889.7,1924 1890.2,1911.5 1894.7,1911.5 1895.2,1909.5 1900.2,1909.5 1900.7,1914 1901.2,1915.5 1902.2,1915.5 1902.7,1911.5 1903.7,1911.5 1904.2,1904.5 1904.7,1904.5 1905.2,1902 1910.7,1902 1911.2,1907 1914.7,1907 1915.2,1907.5 1916.7,1907.5 1917.2,1899 1922.2,1899 1922.7,1903 1925.2,1903 1925.7,1909.5 1928.2,1909.5 1928.7,1913 1929.7,1913 1930.2,1914.5 1934.7,1914.5 1935.2,1920.5 1939.7,1920.5 1940.2,1923 1941.7,1923 1942.2,1922.5 1942.7,1919.5 1947.7,1919.5 1948.2,1923.5 1948.7,1923 1953.7,1923 1954.2,1925.5 1954.7,1926.5 1955.2,1926.5 1955.7,1926 1959.2,1926 1959.7,1915.5 1960.2,1910.5 1961.2,1910.5 1961.7,1904 1962.2,1898.5 1962.7,1894 1963.2,1891 1963.7,1877.5 1964.2,1876.5 1969.2,1876.5 1969.7,1877.5 1970.2,1894.5 1970.7,1894.5 1971.2,1908 1971.7,1917.5 1972.2,1918.5 1972.7,1920.5 1974.2,1920.5 1974.7,1927.5 1977.7,1927.5 1978.2,1927 1983.7,1927 1984.2,1925 1995.2,1925 1995.7,1927 1997.2,1927 1997.7,1932.5 2002.7,1932.5 2003.2,1926 2008.2,1926 2008.7,1927.5 2009.7,1927.5 2010.2,1928 2012.7,1928 2013.2,1934.5 2014.2,1934.5 2014.7,1933.5 2015.2,1933.5 2015.7,1930 2018.2,1930 2018.7,1928 2023.7,1928 2024.2,1932.5 2025.2,1932.5 2025.7,1931 2026.2,1931 2026.7,1926.5 2028.2,1926.5 2028.7,1926 2031.7,1926 2032.2,1925.5 2037.2,1925.5 2037.7,1928 2040.2,1928 2040.7,1930 2042.2,1930 2042.7,1925.5 2048.2,1925.5 2048.7,1926.5 2050.2,1926.5 2050.7,1927 2054.2,1927 2054.7,1928 2059.2,1928 2059.7,1924.5 2064.2,1924.5 2064.7,1921 2070.2,1921 2070.7,1922 2071.2,1922 2071.7,1916.5 2075.2,1916.5 2075.7,1913.5 2076.2,1913.5 2076.7,1911 2077.7,1911 2078.2,1905.5 2083.2,1905.5 2083.7,1909 2085.7,1909 2086.2,1913.5 2087.2,1913.5 2087.7,1914 2088.2,1907 2088.7,1907 2089.2,1906.5 2089.7,1886.5 2090.2,1885.5 2090.7,1870.5 2091.2,1866 2091.7,1852 2092.2,1833 2092.7,1830 2098.7,1830 2099.2,1844.5 2099.7,1855 2100.2,1863.5 2100.7,1866 2101.2,1872 2101.7,1887 2102.2,1892.5 2102.7,1903 2103.2,1907 2108.2,1907 2108.7,1901.5 2110.7,1901.5 2111.2,1899.5 2116.2,1899.5 2116.7,1901.5 2118.7,1901.5 2119.2,1905 2120.2,1904 2121.7,1904 2122.2,1900.5 2122.7,1900.5 2123.2,1898.5 2123.7,1885.5 2125.7,1885.5 2126.2,1876.5 2131.7,1876.5 2132.2,1883.5 2133.2,1883.5 2133.7,1886 2135.7,1886 2136.2,1892 2138.2,1892 2138.7,1894 2142.2,1894 2142.7,1897.5 2143.2,1897.5 2143.7,1898.5 2144.2,1903 2146.2,1903 2146.7,1905 2147.7,1905 2148.2,1914 2151.2,1914 2151.7,1915.5 2152.7,1915.5 2153.2,1916 2154.7,1916 2155.2,1922 2158.2,1922 2158.7,1917 2164.2,1917 2164.7,1923.5 2165.2,1927 2167.2,1927 2167.7,1926 2173.2,1926 2173.7,1926.5 2174.2,1926.5 2174.7,1924.5 2175.2,1921.5 2175.7,1918 2176.2,1912.5 2176.7,1906.5 2177.2,1905 2177.7,1900 2178.2,1896.5 2178.7,1889.5 2179.2,1887.5 2179.7,1875 2180.2,1871.5 2180.7,1867.5 2181.2,1859.5 2181.7,1853 2182.2,1840.5 2182.7,1839.5 2187.7,1839.5 2188.2,1840.5 2188.7,1855 2189.2,1862 2189.7,1875 2190.2,1884.5 2190.7,1886 2191.2,1893.5 2191.7,1897.5 2192.2,1909.5 2192.7,1909.5 2193.2,1910.5 2193.7,1914 2194.2,1914 2194.7,1911.5 2195.2,1904 2199.2,1904 2199.7,1896.5 2200.7,1896.5 2201.2,1890.5 2206.7,1890.5 2207.2,1894 2208.7,1894 2209.2,1884.5 2214.2,1884.5 2214.7,1895.5 2216.7,1895.5 2217.2,1897.5 2218.2,1897.5 2218.7,1904.5 2219.2,1905 2219.7,1903.5 2224.7,1903.5 2225.2,1906 2228.7,1906 2229.2,1909.5 2233.2,1909.5 2233.7,1913 2234.2,1913.5 2234.7,1914.5 2235.2,1919.5 2235.7,1920.5 2241.2,1920.5 2241.7,1924 2242.2,1928 2244.2,1928 2244.7,1928.5 2245.2,1928.5 2245.7,1925.5 2250.2,1925.5 2250.7,1923.5 2251.2,1918.5 2251.7,1910.5 2252.2,1910.5 2252.7,1905 2253.2,1905 2253.7,1881 2259.7,1881 2260.2,1893.5 2260.7,1893.5 2261.2,1902.5 2261.7,1906 2262.2,1908 2262.7,1915.5 2263.2,1919.5 2263.7,1923 2264.7,1927 2265.2,1929.5 2265.7,1935.5 2266.7,1935.5 2267.2,1931.5 2267.7,1924.5 2269.7,1924.5 2270.2,1916 2275.7,1916 2276.2,1926 2276.7,1926 2277.7,1929 2279.2,1929 2279.7,1934 2280.2,1941.5 2281.7,1941.5 2282.2,1945.5 2282.7,1942 2288.2,1942 2288.7,1944 2295.7,1944 2296.2,1944.5 2296.7,1944.5 2297.2,1947 2297.7,1948.5 2298.7,1948.5 2299.2,1946 2299.7,1945.5 2303.2,1945.5 2303.7,1941.5 2308.7,1941.5 2309.2,1943.5 2311.2,1943.5 2311.7,1938.5 2317.2,1938.5 2317.7,1941 2318.2,1941 2318.7,1942.5 2320.2,1942.5 2320.7,1940.5 2321.2,1940.5 2321.7,1938 2324.2,1938 2324.7,1936.5 2329.7,1936.5 2330.2,1939 2331.7,1939 2332.2,1940 2333.7,1940 2334.2,1940.5 2337.7,1940.5 2338.2,1939.5 2343.7,1939.5 2344.2,1940.5 2345.2,1940.5 2345.7,1938 2351.2,1938 2351.7,1945.5 2352.2,1946.5 2352.7,1946.5 2353.2,1948.5 2353.7,1948 2355.2,1948 2355.7,1942.5 2358.2,1942.5 2358.7,1941.5 2359.2,1941.5 2359.7,1935.5 2365.2,1935.5 2365.7,1941 2366.7,1941 2367.2,1941.5 2370.7,1941.5 2371.2,1939 2374.7,1939 2375.2,1937.5 2376.2,1937.5 2376.7,1936.5 2377.2,1935 2379.7,1935 2380.2,1934.5 2385.7,1934.5 2386.2,1938 2390.2,1938 2390.7,1940.5 2391.7,1940.5 2392.2,1941 2393.2,1941 2393.7,1944 2396.7,1944 2397.2,1947.5 2401.7,1947.5 2402.2,1948 2403.2,1948 2403.7,1945 2405.2,1945 2405.7,1944.5 2410.7,1944.5 2411.2,1945.5 2412.7,1945.5 2413.2,1948 2415.7,1948 2416.2,1945.5 2421.7,1945.5 2422.2,1946.5 2424.7,1946.5 2425.2,1949.5 2426.7,1949.5 2427.2,1951.5 2428.2,1951.5 2428.2,1964 2426.7,1964 2426.2,1964.5 2421.2,1964.5 2420.7,1962 2420.2,1962 2419.7,1959.5 2418.7,1959.5 2418.2,1963 2412.7,1963 2412.2,1962 2407.7,1962 2407.2,1961 2401.2,1961 2400.7,1963 2395.7,1963 2395.2,1960.5 2390.7,1960.5 2390.2,1952 2389.7,1952 2388.7,1951 2388.2,1957.5 2384.7,1957.5 2384.2,1959 2379.2,1959 2378.7,1958.5 2378.2,1955 2377.7,1959.5 2375.7,1959.5 2375.2,1961.5 2369.7,1961.5 2369.2,1960 2368.2,1960 2367.7,1959.5 2364.7,1959.5 2364.2,1956.5 2363.7,1956.5 2363.2,1954.5 2362.2,1954.5 2361.7,1953.5 2361.2,1953.5 2360.7,1959.5 2355.7,1959.5 2355.2,1958 2354.7,1959.5 2353.2,1959.5 2352.7,1960 2347.7,1960 2347.2,1955.5 2346.2,1955.5 2345.7,1958.5 2340.2,1958.5 2339.7,1957.5 2336.2,1957.5 2335.7,1958.5 2330.2,1958.5 2329.7,1956 2328.7,1956 2328.2,1955.5 2325.7,1955.5 2325.2,1957.5 2324.7,1961 2319.7,1961 2319.2,1957.5 2317.7,1957.5 2317.2,1957 2314.2,1957 2313.7,1954.5 2313.2,1958 2311.2,1958 2310.7,1959 2305.2,1959 2304.7,1958 2304.2,1958 2303.7,1959 2303.2,1959 2302.7,1965 2297.2,1965 2296.7,1962 2293.2,1962 2292.7,1958 2292.2,1963 2286.7,1963 2286.2,1958 2281.2,1958 2280.7,1956.5 2278.7,1956.5 2278.2,1953.5 2276.2,1953.5 2275.7,1946 2275.2,1946 2274.7,1944.5 2274.2,1939.5 2272.2,1939.5 2271.2,1945.5 2270.2,1945.5 2269.7,1949.5 2264.2,1949.5 2263.7,1947 2261.7,1947 2261.2,1943 2260.7,1939.5 2260.2,1937.5 2259.7,1931 2259.2,1928 2258.7,1927 2258.2,1924.5 2257.7,1920.5 2257.2,1917 2256.7,1924.5 2256.2,1925 2255.7,1931 2255.2,1935.5 2254.2,1935.5 2253.7,1941 2253.2,1942.5 2252.7,1942.5 2252.2,1951 2247.2,1951 2246.7,1946 2246.2,1946 2245.7,1948.5 2243.7,1948.5 2243.2,1949.5 2237.7,1949.5 2237.2,1947.5 2236.7,1941 2236.2,1940 2234.7,1940 2234.2,1937 2233.7,1937 2232.7,1932 2231.7,1932 2231.2,1928.5 2230.2,1928.5 2229.7,1929 2229.2,1936.5 2224.2,1936.5 2223.7,1927 2222.7,1927 2222.2,1923 2221.2,1923 2220.7,1922 2220.2,1920.5 2218.2,1920.5 2217.7,1920 2216.7,1920 2216.2,1920.5 2210.7,1920.5 2210.2,1920 2205.2,1920 2204.7,1927.5 2198.2,1927.5 2197.7,1924 2197.2,1924.5 2189.2,1924.5 2188.7,1923.5 2188.2,1922 2187.7,1914 2187.2,1914 2186.7,1911 2186.2,1898.5 2185.7,1895 2185.2,1887.5 2184.7,1888.5 2184.2,1891 2183.7,1897.5 2183.2,1901.5 2182.7,1907 2182.2,1908 2181.7,1914 2181.2,1919 2180.2,1926 2179.7,1928.5 2179.2,1931.5 2178.7,1935 2178.2,1935.5 2177.7,1935.5 2177.2,1937.5 2176.7,1938.5 2176.2,1940.5 2173.7,1940.5 2173.2,1944 2172.7,1944 2172.2,1944.5 2167.2,1944.5 2166.7,1942 2162.7,1942 2162.2,1945.5 2157.2,1945.5 2156.7,1942 2153.2,1942 2152.7,1941 2151.2,1941 2150.7,1935.5 2149.7,1935.5 2149.2,1934 2146.7,1934 2146.2,1925.5 2140.7,1925.5 2140.2,1917 2139.7,1913.5 2139.2,1912 2137.7,1912 2137.2,1911 2135.7,1911 2135.2,1909 2134.7,1906 2134.2,1904.5 2131.7,1904.5 2131.2,1908.5 2128.7,1908.5 2128.2,1910.5 2127.7,1916 2126.7,1916 2126.2,1917 2123.7,1917 2123.2,1923 2119.7,1923 2119.2,1925 2117.2,1925 2116.7,1926 2115.7,1926 2115.2,1930.5 2114.7,1933 2113.2,1933 2112.7,1934 2107.7,1934 2107.2,1930.5 2105.2,1930.5 2104.7,1923 2104.2,1926 2099.2,1926 2098.7,1919.5 2098.2,1915 2097.7,1915 2097.2,1904.5 2096.7,1893.5 2096.2,1888 2095.7,1889 2095.2,1889 2094.7,1907.5 2094.2,1915 2093.7,1915 2093.2,1924 2091.7,1924 2091.2,1929.5 2086.7,1929.5 2086.2,1932.5 2083.2,1932.5 2082.7,1933.5 2079.7,1933.5 2079.2,1940.5 2074.7,1940.5 2074.2,1942.5 2069.2,1942.5 2068.7,1949 2063.2,1949 2062.7,1944.5 2062.2,1946.5 2057.2,1946.5 2056.7,1943.5 2056.2,1947 2052.7,1947 2052.2,1947.5 2046.7,1947.5 2046.2,1944.5 2045.7,1951.5 2043.7,1951.5 2043.2,1953.5 2038.2,1953.5 2037.7,1947 2036.2,1947 2035.7,1956.5 2030.2,1956.5 2029.7,1954 2025.2,1954 2024.7,1951 2019.2,1951 2018.7,1958 2013.2,1958 2012.7,1949.5 2012.2,1949.5 2011.7,1949 2010.7,1949 2010.2,1952.5 2004.7,1952.5 2004.2,1950 2003.7,1950 2003.2,1951 1997.7,1951 1997.2,1948 1994.7,1948 1994.2,1952.5 1988.7,1952.5 1988.2,1950.5 1983.2,1950.5 1982.7,1948.5 1982.2,1947.5 1978.7,1947.5 1978.2,1945.5 1975.7,1945.5 1974.7,1941.5 1974.2,1939 1972.2,1939 1971.7,1935.5 1969.7,1935.5 1969.2,1933.5 1968.7,1932.5 1967.7,1932.5 1967.2,1925.5 1966.7,1920 1966.2,1924.5 1965.2,1924.5 1964.7,1927.5 1964.2,1935.5 1963.7,1936.5 1962.7,1936.5 1962.2,1937 1956.7,1937 1956.2,1939.5 1955.7,1941.5 1953.7,1941.5 1953.2,1945.5 1949.7,1945.5 1949.2,1947 1944.2,1947 1943.7,1944.5 1941.7,1944.5 1941.2,1938 1940.7,1942 1935.7,1942 1935.2,1939 1932.7,1939 1932.2,1936.5 1931.7,1936 1931.2,1940 1926.2,1940 1925.7,1934.5 1923.7,1934.5 1923.2,1929.5 1922.2,1929.5 1921.7,1928.5 1921.2,1928 1920.7,1934 1918.7,1934 1918.2,1936.5 1912.7,1936.5 1912.2,1930 1910.7,1930 1910.2,1934 1907.7,1934 1907.2,1937 1906.2,1937 1905.7,1941 1904.7,1941 1904.2,1941.5 1899.2,1941.5 1898.7,1936 1894.2,1936 1893.7,1939 1890.2,1939 1889.7,1940 1889.2,1940 1888.7,1940.5 1887.7,1940.5 1887.2,1944.5 1882.2,1944.5 1881.7,1942.5 1877.2,1942.5 1876.7,1938 1876.2,1942 1871.2,1942 1870.7,1940 1868.7,1940 1868.2,1938.5 1863.2,1938.5 1862.7,1937 1861.2,1937 1860.7,1935.5 1859.7,1935.5 1859.2,1940 1858.2,1940 1857.7,1944 1852.2,1944 1851.7,1938 1851.2,1931.5 1846.2,1931.5 1845.7,1931 1845.2,1931 1844.7,1927.5 1843.7,1927.5 1843.2,1924 1842.7,1924 1842.2,1914 1841.2,1914 1840.7,1915.5 1835.7,1915.5 1835.2,1911 1834.2,1911 1833.7,1901 1830.2,1901 1829.7,1886.5 1829.2,1886 1827.2,1886 1826.7,1884 1825.2,1884 1824.7,1880.5 1823.2,1880.5 1822.7,1874.5 1821.7,1874.5 1821.2,1863 1820.2,1863 1819.7,1862 1819.2,1856 1818.7,1856 1818.2,1852 1817.7,1850 1817.2,1849 1816.7,1842.5 1815.2,1842.5 1814.7,1840.5 1813.7,1840.5 1813.2,1835.5 1812.7,1833 1812.2,1827 1811.7,1823.5 1811.2,1815 1810.7,1813.5 1810.2,1805 1809.7,1792 1809.2,1783 1808.7,1760.5 1808.2,1743.5 1807.7,1728 1807.2,1730.5 1806.7,1764.5 1806.2,1786 1805.7,1817 1805.2,1828.5 1804.7,1848.5 1804.2,1856 1803.7,1866 1803.2,1871 1802.2,1874 1801.7,1879 1801.2,1886 1799.7,1886 1799.2,1887 1798.7,1891.5 1797.2,1891.5 1796.7,1892.5 1796.2,1893 1795.7,1893 1795.2,1897 1792.7,1897 1792.2,1902.5 1791.7,1902.5 1791.2,1903 1785.7,1903 1785.2,1894 1783.7,1894 1783.2,1887.5 1782.2,1877.5 1781.7,1865 1781.2,1850 1780.7,1861 1780.2,1866.5 1779.7,1881 1778.7,1881 1778.2,1891.5 1777.7,1898.5 1777.2,1898.5 1776.7,1901.5 1776.2,1901.5 1775.7,1902.5 1775.2,1908.5 1773.7,1908.5 1773.2,1911 1767.7,1911 1767.2,1908 1762.2,1908 1761.7,1906 1761.2,1906 1760.7,1909 1760.2,1912.5 1759.7,1913.5 1759.2,1919.5 1753.7,1919.5 1753.2,1911.5 1752.2,1911.5 1751.7,1907.5 1750.7,1907.5 1750.2,1904 1749.7,1904 1749.2,1890.5 1748.7,1890 1748.2,1887 1747.7,1873 1747.2,1872.5 1746.7,1870 1746.2,1860.5 1745.7,1844 1745.2,1844 1744.7,1835 1744.2,1835 1743.7,1828 1743.2,1846.5 1742.7,1854 1742.2,1862 1741.7,1869.5 1741.2,1877.5 1740.7,1889 1739.7,1889 1739.2,1890.5 1738.7,1893 1738.2,1901.5 1734.2,1901.5 1733.7,1902 1732.2,1902 1731.7,1903.5 1731.2,1903.5 1730.7,1905.5 1728.7,1905.5 1728.2,1919 1723.2,1919 1722.7,1912 1722.2,1915.5 1720.7,1915.5 1720.2,1920.5 1717.7,1920.5 1717.2,1922 1716.7,1924.5 1716.2,1924.5 1715.7,1930.5 1714.2,1930.5 1713.7,1938.5 1708.7,1938.5 1708.2,1937 1707.7,1937.5 1702.2,1937.5 1701.7,1936.5 1697.7,1936.5 1697.2,1946 1691.7,1946 1691.2,1943 1686.2,1943 1685.7,1938.5 1685.2,1937.5 1683.2,1937.5 1682.7,1949 1677.7,1949 1677.2,1947 1676.7,1947 1676.2,1944.5 1674.2,1944.5 1673.7,1944 1670.7,1944 1670.2,1943.5 1669.7,1947.5 1664.2,1947.5 1663.7,1944.5 1662.7,1944.5 1662.2,1942.5 1657.7,1942.5 1657.2,1940.5 1656.7,1940.5 1656.2,1943 1655.7,1943 1655.2,1947.5 1650.2,1947.5 1649.7,1944 1649.2,1937 1646.7,1937 1646.2,1934 1645.7,1934 1645.2,1933 1643.7,1933 1643.2,1932 1642.7,1932 1642.2,1931 1641.2,1931 1640.7,1926 1640.2,1926 1639.7,1931 1639.2,1939 1634.2,1939 1633.7,1934 1632.7,1934 1632.2,1933.5 1631.2,1933.5 1630.7,1934.5 1630.2,1937 1624.7,1937 1624.2,1928 1623.7,1928 1623.2,1914.5 1621.2,1914.5 1620.7,1910.5 1618.7,1910.5 1618.2,1911 1617.7,1915 1612.2,1915 1611.7,1911 1611.2,1910.5 1610.2,1910.5 1608.7,1909 1607.2,1909 1606.7,1905.5 1606.2,1905.5 1605.7,1905 1605.2,1900 1604.7,1893.5 1604.2,1883 1603.7,1881 1603.2,1885 1602.7,1888 1602.2,1889 1601.7,1897.5 1593.7,1897.5 1593.2,1880.5 1592.7,1882 1592.2,1894.5 1588.7,1894.5 1588.2,1895.5 1587.7,1907.5 1582.7,1907.5 1582.2,1911 1579.2,1911 1578.7,1911.5 1577.2,1911.5 1576.7,1916.5 1576.2,1918 1572.2,1918 1571.7,1923.5 1566.7,1923.5 1566.2,1921.5 1565.7,1913 1564.2,1913 1563.7,1908.5 1563.2,1908.5 1562.7,1913.5 1560.2,1913.5 1559.7,1916 1558.2,1916 1557.7,1925 1555.2,1925 1554.7,1938 1551.7,1938 1551.2,1938.5 1549.2,1938.5 1548.7,1947 1547.2,1947 1546.7,1949.5 1541.2,1949.5 1540.7,1947 1538.2,1947 1537.7,1952.5 1536.7,1952.5 1536.2,1953.5 1535.7,1953.5 1535.2,1955 1530.2,1955 1529.7,1950.5 1528.7,1950.5 1528.2,1952.5 1523.2,1952.5 1522.7,1948.5 1519.7,1948.5 1519.2,1947.5 1518.7,1945.5 1518.2,1945.5 1517.7,1949 1512.2,1949 1511.7,1948 1509.7,1948 1509.2,1947 1508.7,1947.5 1507.7,1947.5 1507.2,1956.5 1501.7,1956.5 1501.2,1950 1498.2,1950 1497.7,1947 1496.7,1947 1496.2,1946.5 1494.7,1946.5 1494.2,1953 1489.2,1953 1488.7,1950 1485.7,1950 1485.2,1954.5 1482.7,1954.5 1482.2,1958 1477.2,1958 1476.7,1951 1473.2,1951 1472.7,1948.5 1470.2,1948.5 1469.7,1946.5 1469.2,1946.5 1468.7,1948 1463.2,1948 1462.7,1942.5 1462.2,1941 1461.2,1941 1460.7,1948 1455.7,1948 1455.2,1946 1454.2,1946 1453.7,1941 1453.2,1939 1452.7,1939 1452.2,1937.5 1451.2,1937.5 1450.7,1938 1445.2,1938 1444.7,1937.5 1442.2,1937.5 1441.7,1936.5 1441.2,1934.5 1440.2,1934.5 1439.7,1927.5 1439.2,1925.5 1438.2,1925.5 1437.7,1925 1436.7,1925 1436.2,1929.5 1435.7,1935 1434.7,1935 1434.2,1937 1433.7,1940 1432.2,1940 1431.7,1941 1426.2,1941 1425.7,1934.5 1424.7,1934.5 1424.2,1934 1421.7,1934 1421.2,1935 1416.2,1935 1415.7,1929 1415.2,1929 1414.7,1928 1412.2,1928 1411.7,1923.5 1410.2,1923.5 1409.7,1920.5 1409.2,1920.5 1408.7,1921.5 1407.2,1921.5 1406.7,1923 1401.2,1923 1400.7,1917.5 1398.7,1917.5 1398.2,1924 1393.2,1924 1392.7,1917.5 1390.7,1917.5 1390.2,1908 1389.7,1908 1389.2,1905 1386.7,1905 1386.2,1902 1385.7,1902 1384.7,1893 1384.2,1890.5 1383.7,1890.5 1383.2,1888.5 1382.2,1888.5 1381.7,1883.5 1381.2,1883.5 1380.7,1879 1380.2,1879 1379.7,1860.5 1379.2,1851 1378.7,1846 1377.7,1856 1377.2,1861.5 1376.7,1861.5 1376.2,1870.5 1375.2,1874.5 1374.7,1879.5 1373.2,1879.5 1372.7,1880 1368.7,1880 1368.2,1885.5 1362.2,1885.5 1361.7,1875 1360.2,1875 1359.7,1872 1359.2,1871.5 1356.7,1871.5 1356.2,1866 1355.7,1864.5 1355.2,1864.5 1354.7,1855 1351.7,1855 1351.2,1844 1350.7,1839 1350.2,1838 1349.7,1822.5"/></g>
<text transform="translate(514.43,132.70) scale(1,1.0415)" font-family='"Liberation Sans", Arial, sans-serif' font-size="48.46" font-weight="bold" letter-spacing="-2.107">MgAl-AAC</text>
<text transform="translate(497.15,549.50) scale(1,1.0415)" font-family='"Liberation Sans", Arial, sans-serif' font-size="48.18" font-weight="bold" letter-spacing="-1.743">MgAl-AOL</text>
<text transform="translate(1094.88,108.90) scale(1,1.0890)" font-family='"Liberation Sans", Arial, sans-serif' font-size="64.00" font-weight="bold" letter-spacing="1.520">a)</text>
<text transform="translate(145.50,159.20) rotate(-90) scale(1,1.0415)" x="-1.83" font-family='"Liberation Sans", Arial, sans-serif' font-size="36.60" font-weight="bold" letter-spacing="0.075">(003)</text>
<text transform="translate(200.10,636.00) rotate(-90) scale(1,1.0415)" x="-1.83" font-family='"Liberation Sans", Arial, sans-serif' font-size="36.60" font-weight="bold" letter-spacing="0.100">(003)</text>
<text transform="translate(43.70,687.20) rotate(-90) scale(1,1.0415)" x="-3.34" font-family='"Liberation Sans", Arial, sans-serif' font-size="40.50" font-weight="normal" letter-spacing="-0.130">Relative Intensity (a.u)</text>
<text transform="translate(1722.48,87.90) scale(1,1.0415)" font-family='"Liberation Sans", Arial, sans-serif' font-size="49.02" font-weight="bold" letter-spacing="-2.299">2MgZnAl-AAC</text>
<text transform="translate(1741.41,524.90) scale(1,1.0415)" font-family='"Liberation Sans", Arial, sans-serif' font-size="45.39" font-weight="bold" letter-spacing="-1.278">2MgZnAl-AOL</text>
<text transform="translate(2359.84,108.90) scale(1,1.0890)" font-family='"Liberation Sans", Arial, sans-serif' font-size="64.00" font-weight="bold" letter-spacing="0.040">b)</text>
<text x="2291.82" y="227.38" font-family='"Liberation Sans", Arial, sans-serif' font-size="34.0" font-weight="bold">*</text>
<text transform="translate(2315.60,232.80) scale(1,1.0415)" font-family='"Liberation Sans", Arial, sans-serif' font-size="40.00" font-weight="bold" letter-spacing="-0.350">ZnO</text>
<text transform="translate(1402.00,251.60) rotate(-90) scale(1,1.0415)" x="-1.83" font-family='"Liberation Sans", Arial, sans-serif' font-size="36.60" font-weight="bold" letter-spacing="0.200">(003)</text>
<text transform="translate(1379.90,583.80) rotate(-90) scale(1,1.0415)" x="-1.83" font-family='"Liberation Sans", Arial, sans-serif' font-size="36.60" font-weight="bold" letter-spacing="0.250">(003)</text>
<text x="1740.82" y="245.28" font-family='"Liberation Sans", Arial, sans-serif' font-size="34.0" font-weight="bold">*</text>
<text x="1740.71" y="612.27" font-family='"Liberation Sans", Arial, sans-serif' font-size="34.0" font-weight="bold">*</text>
<text transform="translate(1317.70,657.20) rotate(-90) scale(1,1.0415)" x="-3.34" font-family='"Liberation Sans", Arial, sans-serif' font-size="40.50" font-weight="normal" letter-spacing="-0.061">Relative Intensity (a.u)</text>
<text transform="translate(473.41,1307.70) scale(1,1.0415)" font-family='"Liberation Sans", Arial, sans-serif' font-size="48.74" font-weight="bold" letter-spacing="-2.204">Mg2ZnAl-AAC</text>
<text transform="translate(480.41,1707.70) scale(1,1.0415)" font-family='"Liberation Sans", Arial, sans-serif' font-size="48.74" font-weight="bold" letter-spacing="-1.962">Mg2ZnAl-AOL</text>
<text transform="translate(1091.34,1199.60) scale(1,1.0890)" font-family='"Liberation Sans", Arial, sans-serif' font-size="64.00" font-weight="bold" letter-spacing="1.160">c)</text>
<text x="1034.82" y="1300.48" font-family='"Liberation Sans", Arial, sans-serif' font-size="34.0" font-weight="bold">*</text>
<text transform="translate(1058.70,1305.90) scale(1,1.0415)" font-family='"Liberation Sans", Arial, sans-serif' font-size="40.00" font-weight="bold" letter-spacing="-0.350">ZnO</text>
<text transform="translate(138.30,1219.90) rotate(-90) scale(1,1.0415)" x="-1.83" font-family='"Liberation Sans", Arial, sans-serif' font-size="36.60" font-weight="bold" letter-spacing="0.050">(003)</text>
<text transform="translate(131.90,1683.90) rotate(-90) scale(1,1.0415)" x="-1.83" font-family='"Liberation Sans", Arial, sans-serif' font-size="36.60" font-weight="bold" letter-spacing="0.275">(003)</text>
<text x="474.72" y="1765.28" font-family='"Liberation Sans", Arial, sans-serif' font-size="34.0" font-weight="bold">*</text>
<text transform="translate(51.00,1769.10) rotate(-90) scale(1,1.0415)" x="-3.34" font-family='"Liberation Sans", Arial, sans-serif' font-size="40.50" font-weight="normal" letter-spacing="-0.052">Relative Intensity (a.u)</text>
<text transform="translate(1745.55,1232.60) scale(1,1.0415)" font-family='"Liberation Sans", Arial, sans-serif' font-size="48.46" font-weight="bold" letter-spacing="-1.726">ZnAl-AAC</text>
<text transform="translate(1738.54,1552.10) scale(1,1.0415)" font-family='"Liberation Sans", Arial, sans-serif' font-size="48.74" font-weight="bold" letter-spacing="-1.637">ZnAl-AOL</text>
<text transform="translate(2358.34,1199.90) scale(1,1.0890)" font-family='"Liberation Sans", Arial, sans-serif' font-size="64.00" font-weight="bold" letter-spacing="0.540">d)</text>
<text x="2298.82" y="1314.48" font-family='"Liberation Sans", Arial, sans-serif' font-size="34.0" font-weight="bold">*</text>
<text transform="translate(2322.70,1319.90) scale(1,1.0415)" font-family='"Liberation Sans", Arial, sans-serif' font-size="40.00" font-weight="bold" letter-spacing="-0.350">ZnO</text>
<text transform="translate(1389.00,1213.00) rotate(-90) scale(1,1.0415)" x="-1.83" font-family='"Liberation Sans", Arial, sans-serif' font-size="36.60" font-weight="bold" letter-spacing="0.175">(003)</text>
<text transform="translate(1391.90,1802.00) rotate(-90) scale(1,1.0415)" x="-1.83" font-family='"Liberation Sans", Arial, sans-serif' font-size="36.60" font-weight="bold" letter-spacing="0.125">(003)</text>
<text x="1727.82" y="1391.28" font-family='"Liberation Sans", Arial, sans-serif' font-size="34.0" font-weight="bold">*</text>
<text x="1735.91" y="1748.28" font-family='"Liberation Sans", Arial, sans-serif' font-size="34.0" font-weight="bold">*</text>
<text transform="translate(1317.70,1787.20) rotate(-90) scale(1,1.0415)" x="-3.34" font-family='"Liberation Sans", Arial, sans-serif' font-size="40.50" font-weight="normal" letter-spacing="-0.061">Relative Intensity (a.u)</text>
<text transform="translate(471.92,1034.80) scale(1,1.0415)" font-family='"Liberation Sans", Arial, sans-serif' font-size="39.50" font-weight="normal" letter-spacing="0.000">2</text>
<text transform="translate(495.24,1034.80) scale(1,1.0415)" font-family='"Liberation Serif", "Times New Roman", serif' font-size="35.00" font-weight="normal" letter-spacing="0.000">θ</text>
<text transform="translate(522.63,1034.80) scale(1,1.0415)" font-family='"Liberation Sans", Arial, sans-serif' font-size="39.50" font-weight="normal" letter-spacing="0.660">(degrees)</text>
<text transform="translate(1750.93,1038.80) scale(1,1.0415)" font-family='"Liberation Sans", Arial, sans-serif' font-size="39.50" font-weight="normal" letter-spacing="0.000">2</text>
<text transform="translate(1774.24,1038.80) scale(1,1.0415)" font-family='"Liberation Serif", "Times New Roman", serif' font-size="35.00" font-weight="normal" letter-spacing="0.000">θ</text>
<text transform="translate(1801.63,1038.80) scale(1,1.0415)" font-family='"Liberation Sans", Arial, sans-serif' font-size="39.50" font-weight="normal" letter-spacing="0.660">(degrees)</text>
<text transform="translate(488.72,2127.70) scale(1,1.0415)" font-family='"Liberation Sans", Arial, sans-serif' font-size="39.50" font-weight="normal" letter-spacing="0.000">2</text>
<text transform="translate(512.04,2127.70) scale(1,1.0415)" font-family='"Liberation Serif", "Times New Roman", serif' font-size="35.00" font-weight="normal" letter-spacing="0.000">θ</text>
<text transform="translate(539.43,2127.70) scale(1,1.0415)" font-family='"Liberation Sans", Arial, sans-serif' font-size="39.50" font-weight="normal" letter-spacing="0.660">(degrees)</text>
<text transform="translate(1744.03,2125.80) scale(1,1.0415)" font-family='"Liberation Sans", Arial, sans-serif' font-size="39.50" font-weight="normal" letter-spacing="0.000">2</text>
<text transform="translate(1767.34,2125.80) scale(1,1.0415)" font-family='"Liberation Serif", "Times New Roman", serif' font-size="35.00" font-weight="normal" letter-spacing="0.000">θ</text>
<text transform="translate(1794.73,2125.80) scale(1,1.0415)" font-family='"Liberation Sans", Arial, sans-serif' font-size="39.50" font-weight="normal" letter-spacing="0.660">(degrees)</text>
</svg>
</body></html>
